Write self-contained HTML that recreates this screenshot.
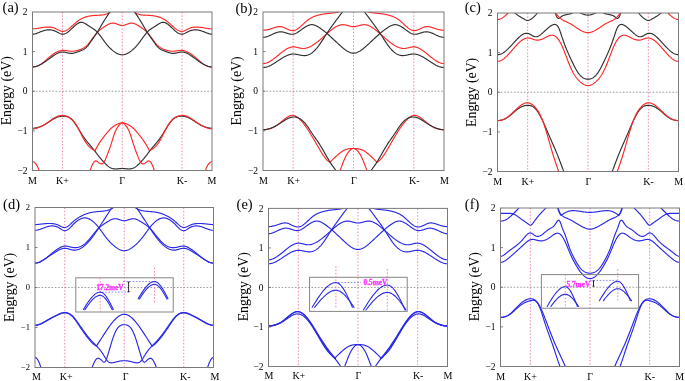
<!DOCTYPE html>
<html><head><meta charset="utf-8"><style>
html,body{margin:0;padding:0;background:#fff;}
svg{display:block;font-family:"Liberation Serif",serif;will-change:transform;}
</style></head><body>
<svg width="685" height="381" viewBox="0 0 685 381">
<clipPath id="clipa"><rect x="32.5" y="12" width="179.5" height="158.5"/></clipPath>
<line x1="62.42" y1="12" x2="62.42" y2="170.5" stroke="#f084b0" stroke-width="0.95" stroke-dasharray="1.6 1.7"/>
<line x1="122.25" y1="12" x2="122.25" y2="170.5" stroke="#f084b0" stroke-width="0.95" stroke-dasharray="1.6 1.7"/>
<line x1="182.08" y1="12" x2="182.08" y2="170.5" stroke="#f084b0" stroke-width="0.95" stroke-dasharray="1.6 1.7"/>
<line x1="32.5" y1="91.25" x2="212" y2="91.25" stroke="#8c8c8c" stroke-width="0.85" stroke-dasharray="1.6 1.7"/>
<g clip-path="url(#clipa)" fill="none" stroke-width="1.15" stroke-linecap="round" stroke-linejoin="round">
<path d="M32.50 28.84 L33.00 28.83 L33.50 28.82 L34.00 28.79 L34.50 28.75 L35.00 28.71 L35.50 28.65 L36.00 28.59 L36.50 28.52 L37.00 28.45 L37.50 28.37 L38.00 28.29 L38.50 28.21 L39.00 28.12 L39.50 28.04 L40.00 27.95 L40.50 27.86 L41.00 27.78 L41.50 27.69 L42.00 27.61 L42.50 27.54 L43.00 27.46 L43.50 27.39 L44.00 27.33 L44.50 27.27 L45.00 27.21 L45.50 27.16 L46.00 27.12 L46.50 27.09 L47.00 27.07 L47.50 27.05 L48.00 27.05 L48.50 27.05 L49.00 27.06 L49.50 27.09 L50.00 27.13 L50.50 27.18 L51.00 27.24 L51.50 27.31 L52.00 27.40 L52.50 27.51 L53.00 27.63 L53.50 27.77 L54.00 27.92 L54.50 28.09 L55.00 28.28 L55.50 28.49 L56.00 28.72 L56.50 28.97 L57.00 29.22 L57.50 29.49 L58.00 29.76 L58.50 30.03 L59.00 30.28 L59.50 30.53 L60.00 30.75 L60.50 30.96 L61.00 31.13 L61.50 31.27 L62.00 31.37 L62.50 31.42 L63.00 31.43 L63.50 31.39 L64.00 31.30 L64.50 31.18 L65.00 31.01 L65.50 30.81 L66.00 30.58 L66.50 30.31 L67.00 30.02 L67.50 29.70 L68.00 29.35 L68.50 28.98 L69.00 28.60 L69.50 28.20 L70.00 27.78 L70.50 27.36 L71.00 26.92 L71.50 26.48 L72.00 26.04 L72.50 25.59 L73.00 25.14 L73.50 24.70 L74.00 24.26 L74.50 23.82 L75.00 23.39 L75.50 22.96 L76.00 22.54 L76.50 22.13 L77.00 21.73 L77.50 21.34 L78.00 20.96 L78.50 20.59 L79.00 20.23 L79.50 19.89 L80.00 19.57 L80.50 19.26 L81.00 18.97 L81.50 18.70 L82.00 18.44 L82.50 18.20 L83.00 17.97 L83.50 17.75 L84.00 17.55 L84.50 17.36 L85.00 17.19 L85.50 17.02 L86.00 16.87 L86.50 16.72 L87.00 16.59 L87.50 16.46 L88.00 16.35 L88.50 16.24 L89.00 16.14 L89.50 16.05 L90.00 15.96 L90.50 15.88 L91.00 15.81 L91.50 15.75 L92.00 15.69 L92.50 15.63 L93.00 15.58 L93.50 15.53 L94.00 15.49 L94.50 15.45 L95.00 15.42 L95.50 15.39 L96.00 15.36 L96.50 15.33 L97.00 15.30 L97.50 15.28 L98.00 15.25 L98.50 15.23 L99.00 15.20 L99.50 15.18 L100.00 15.16 L100.50 15.13 L101.00 15.10 L101.50 15.06 L102.00 15.02 L102.50 14.96 L103.00 14.90 L103.50 14.82 L104.00 14.72 L104.50 14.61 L105.00 14.48 L105.50 14.33 L106.00 14.16 L106.50 13.96 L107.00 13.74 L107.50 13.49 L108.00 13.22 L108.50 12.92 L109.00 12.60 L109.50 12.26 L110.00 11.90 L110.50 11.52 L111.00 11.13 L111.50 10.73 L112.00 10.33 L112.50 9.92 L113.00 9.53 L113.50 9.14 L114.00 8.77 L114.50 8.41 L115.00 8.08 L115.50 7.78 L116.00 7.51 L116.50 7.26 L117.00 7.04 L117.50 6.85 L118.00 6.68 L118.50 6.53 L119.00 6.40 L119.50 6.30 L120.00 6.22 L120.50 6.15 L121.00 6.10 L121.50 6.07 L122.00 6.06 L122.50 6.06 L123.00 6.07 L123.50 6.10 L124.00 6.15 L124.50 6.22 L125.00 6.30 L125.50 6.40 L126.00 6.53 L126.50 6.68 L127.00 6.85 L127.50 7.04 L128.00 7.26 L128.50 7.51 L129.00 7.78 L129.50 8.08 L130.00 8.41 L130.50 8.77 L131.00 9.14 L131.50 9.53 L132.00 9.92 L132.50 10.33 L133.00 10.73 L133.50 11.13 L134.00 11.52 L134.50 11.90 L135.00 12.26 L135.50 12.60 L136.00 12.92 L136.50 13.22 L137.00 13.49 L137.50 13.74 L138.00 13.96 L138.50 14.16 L139.00 14.33 L139.50 14.48 L140.00 14.61 L140.50 14.72 L141.00 14.82 L141.50 14.90 L142.00 14.96 L142.50 15.02 L143.00 15.06 L143.50 15.10 L144.00 15.13 L144.50 15.16 L145.00 15.18 L145.50 15.20 L146.00 15.23 L146.50 15.25 L147.00 15.28 L147.50 15.30 L148.00 15.33 L148.50 15.36 L149.00 15.39 L149.50 15.42 L150.00 15.45 L150.50 15.49 L151.00 15.53 L151.50 15.58 L152.00 15.63 L152.50 15.69 L153.00 15.75 L153.50 15.81 L154.00 15.88 L154.50 15.96 L155.00 16.05 L155.50 16.14 L156.00 16.24 L156.50 16.35 L157.00 16.46 L157.50 16.59 L158.00 16.72 L158.50 16.87 L159.00 17.02 L159.50 17.19 L160.00 17.36 L160.50 17.55 L161.00 17.75 L161.50 17.97 L162.00 18.20 L162.50 18.44 L163.00 18.70 L163.50 18.97 L164.00 19.26 L164.50 19.57 L165.00 19.89 L165.50 20.23 L166.00 20.59 L166.50 20.96 L167.00 21.34 L167.50 21.73 L168.00 22.13 L168.50 22.54 L169.00 22.96 L169.50 23.39 L170.00 23.82 L170.50 24.26 L171.00 24.70 L171.50 25.14 L172.00 25.59 L172.50 26.04 L173.00 26.48 L173.50 26.92 L174.00 27.36 L174.50 27.78 L175.00 28.20 L175.50 28.60 L176.00 28.98 L176.50 29.35 L177.00 29.70 L177.50 30.02 L178.00 30.31 L178.50 30.58 L179.00 30.81 L179.50 31.01 L180.00 31.18 L180.50 31.30 L181.00 31.39 L181.50 31.43 L182.00 31.42 L182.50 31.37 L183.00 31.27 L183.50 31.13 L184.00 30.96 L184.50 30.75 L185.00 30.53 L185.50 30.28 L186.00 30.03 L186.50 29.76 L187.00 29.49 L187.50 29.22 L188.00 28.97 L188.50 28.72 L189.00 28.49 L189.50 28.28 L190.00 28.09 L190.50 27.92 L191.00 27.77 L191.50 27.63 L192.00 27.51 L192.50 27.40 L193.00 27.31 L193.50 27.24 L194.00 27.18 L194.50 27.13 L195.00 27.09 L195.50 27.06 L196.00 27.05 L196.50 27.05 L197.00 27.05 L197.50 27.07 L198.00 27.09 L198.50 27.12 L199.00 27.16 L199.50 27.21 L200.00 27.27 L200.50 27.33 L201.00 27.39 L201.50 27.46 L202.00 27.54 L202.50 27.61 L203.00 27.69 L203.50 27.78 L204.00 27.86 L204.50 27.95 L205.00 28.04 L205.50 28.12 L206.00 28.21 L206.50 28.29 L207.00 28.37 L207.50 28.45 L208.00 28.52 L208.50 28.59 L209.00 28.65 L209.50 28.71 L210.00 28.75 L210.50 28.79 L211.00 28.82 L211.50 28.83 L212.00 28.84" stroke="#ff2828"/>
<path d="M32.50 66.96 L33.00 66.95 L33.50 66.92 L34.00 66.87 L34.50 66.80 L35.00 66.71 L35.50 66.60 L36.00 66.47 L36.50 66.32 L37.00 66.15 L37.50 65.96 L38.00 65.75 L38.50 65.53 L39.00 65.28 L39.50 65.01 L40.00 64.73 L40.50 64.42 L41.00 64.10 L41.50 63.76 L42.00 63.40 L42.50 63.03 L43.00 62.64 L43.50 62.25 L44.00 61.84 L44.50 61.42 L45.00 61.00 L45.50 60.57 L46.00 60.13 L46.50 59.69 L47.00 59.25 L47.50 58.81 L48.00 58.37 L48.50 57.93 L49.00 57.50 L49.50 57.07 L50.00 56.65 L50.50 56.23 L51.00 55.83 L51.50 55.44 L52.00 55.06 L52.50 54.69 L53.00 54.33 L53.50 53.98 L54.00 53.65 L54.50 53.33 L55.00 53.03 L55.50 52.74 L56.00 52.46 L56.50 52.20 L57.00 51.96 L57.50 51.73 L58.00 51.52 L58.50 51.32 L59.00 51.14 L59.50 50.98 L60.00 50.84 L60.50 50.72 L61.00 50.62 L61.50 50.54 L62.00 50.47 L62.50 50.43 L63.00 50.41 L63.50 50.41 L64.00 50.42 L64.50 50.45 L65.00 50.49 L65.50 50.54 L66.00 50.60 L66.50 50.67 L67.00 50.74 L67.50 50.81 L68.00 50.88 L68.50 50.96 L69.00 51.02 L69.50 51.09 L70.00 51.14 L70.50 51.18 L71.00 51.22 L71.50 51.24 L72.00 51.24 L72.50 51.23 L73.00 51.20 L73.50 51.17 L74.00 51.11 L74.50 51.05 L75.00 50.97 L75.50 50.88 L76.00 50.78 L76.50 50.67 L77.00 50.55 L77.50 50.42 L78.00 50.27 L78.50 50.12 L79.00 49.96 L79.50 49.79 L80.00 49.61 L80.50 49.42 L81.00 49.22 L81.50 49.00 L82.00 48.77 L82.50 48.52 L83.00 48.26 L83.50 47.97 L84.00 47.67 L84.50 47.34 L85.00 46.98 L85.50 46.61 L86.00 46.20 L86.50 45.76 L87.00 45.30 L87.50 44.80 L88.00 44.27 L88.50 43.71 L89.00 43.12 L89.50 42.51 L90.00 41.87 L90.50 41.22 L91.00 40.56 L91.50 39.88 L92.00 39.20 L92.50 38.51 L93.00 37.83 L93.50 37.14 L94.00 36.47 L94.50 35.80 L95.00 35.15 L95.50 34.51 L96.00 33.89 L96.50 33.30 L97.00 32.73 L97.50 32.20 L98.00 31.69 L98.50 31.20 L99.00 30.74 L99.50 30.30 L100.00 29.87 L100.50 29.47 L101.00 29.08 L101.50 28.71 L102.00 28.35 L102.50 28.01 L103.00 27.67 L103.50 27.34 L104.00 27.02 L104.50 26.70 L105.00 26.39 L105.50 26.08 L106.00 25.77 L106.50 25.46 L107.00 25.17 L107.50 24.88 L108.00 24.61 L108.50 24.35 L109.00 24.11 L109.50 23.89 L110.00 23.69 L110.50 23.51 L111.00 23.36 L111.50 23.25 L112.00 23.16 L112.50 23.11 L113.00 23.09 L113.50 23.12 L114.00 23.18 L114.50 23.27 L115.00 23.39 L115.50 23.53 L116.00 23.69 L116.50 23.87 L117.00 24.06 L117.50 24.25 L118.00 24.44 L118.50 24.62 L119.00 24.80 L119.50 24.97 L120.00 25.12 L120.50 25.25 L121.00 25.36 L121.50 25.43 L122.00 25.47 L122.50 25.47 L123.00 25.43 L123.50 25.36 L124.00 25.25 L124.50 25.12 L125.00 24.97 L125.50 24.80 L126.00 24.62 L126.50 24.44 L127.00 24.25 L127.50 24.06 L128.00 23.87 L128.50 23.69 L129.00 23.53 L129.50 23.39 L130.00 23.27 L130.50 23.18 L131.00 23.12 L131.50 23.09 L132.00 23.11 L132.50 23.16 L133.00 23.25 L133.50 23.36 L134.00 23.51 L134.50 23.69 L135.00 23.89 L135.50 24.11 L136.00 24.35 L136.50 24.61 L137.00 24.88 L137.50 25.17 L138.00 25.46 L138.50 25.77 L139.00 26.08 L139.50 26.39 L140.00 26.70 L140.50 27.02 L141.00 27.34 L141.50 27.67 L142.00 28.01 L142.50 28.35 L143.00 28.71 L143.50 29.08 L144.00 29.47 L144.50 29.87 L145.00 30.30 L145.50 30.74 L146.00 31.20 L146.50 31.69 L147.00 32.20 L147.50 32.73 L148.00 33.30 L148.50 33.89 L149.00 34.51 L149.50 35.15 L150.00 35.80 L150.50 36.47 L151.00 37.14 L151.50 37.83 L152.00 38.51 L152.50 39.20 L153.00 39.88 L153.50 40.56 L154.00 41.22 L154.50 41.87 L155.00 42.51 L155.50 43.12 L156.00 43.71 L156.50 44.27 L157.00 44.80 L157.50 45.30 L158.00 45.76 L158.50 46.20 L159.00 46.61 L159.50 46.98 L160.00 47.34 L160.50 47.67 L161.00 47.97 L161.50 48.26 L162.00 48.52 L162.50 48.77 L163.00 49.00 L163.50 49.22 L164.00 49.42 L164.50 49.61 L165.00 49.79 L165.50 49.96 L166.00 50.12 L166.50 50.27 L167.00 50.42 L167.50 50.55 L168.00 50.67 L168.50 50.78 L169.00 50.88 L169.50 50.97 L170.00 51.05 L170.50 51.11 L171.00 51.17 L171.50 51.20 L172.00 51.23 L172.50 51.24 L173.00 51.24 L173.50 51.22 L174.00 51.18 L174.50 51.14 L175.00 51.09 L175.50 51.02 L176.00 50.96 L176.50 50.88 L177.00 50.81 L177.50 50.74 L178.00 50.67 L178.50 50.60 L179.00 50.54 L179.50 50.49 L180.00 50.45 L180.50 50.42 L181.00 50.41 L181.50 50.41 L182.00 50.43 L182.50 50.47 L183.00 50.54 L183.50 50.62 L184.00 50.72 L184.50 50.84 L185.00 50.98 L185.50 51.14 L186.00 51.32 L186.50 51.52 L187.00 51.73 L187.50 51.96 L188.00 52.20 L188.50 52.46 L189.00 52.74 L189.50 53.03 L190.00 53.33 L190.50 53.65 L191.00 53.98 L191.50 54.33 L192.00 54.69 L192.50 55.06 L193.00 55.44 L193.50 55.83 L194.00 56.23 L194.50 56.65 L195.00 57.07 L195.50 57.50 L196.00 57.93 L196.50 58.37 L197.00 58.81 L197.50 59.25 L198.00 59.69 L198.50 60.13 L199.00 60.57 L199.50 61.00 L200.00 61.42 L200.50 61.84 L201.00 62.25 L201.50 62.64 L202.00 63.03 L202.50 63.40 L203.00 63.76 L203.50 64.10 L204.00 64.42 L204.50 64.73 L205.00 65.01 L205.50 65.28 L206.00 65.53 L206.50 65.75 L207.00 65.96 L207.50 66.15 L208.00 66.32 L208.50 66.47 L209.00 66.60 L209.50 66.71 L210.00 66.80 L210.50 66.87 L211.00 66.92 L211.50 66.95 L212.00 66.96" stroke="#ff2828"/>
<path d="M32.50 34.19 L33.00 34.18 L33.50 34.13 L34.00 34.07 L34.50 33.97 L35.00 33.86 L35.50 33.73 L36.00 33.58 L36.50 33.42 L37.00 33.24 L37.50 33.05 L38.00 32.86 L38.50 32.66 L39.00 32.45 L39.50 32.25 L40.00 32.04 L40.50 31.84 L41.00 31.65 L41.50 31.46 L42.00 31.27 L42.50 31.10 L43.00 30.93 L43.50 30.77 L44.00 30.63 L44.50 30.49 L45.00 30.36 L45.50 30.25 L46.00 30.14 L46.50 30.05 L47.00 29.98 L47.50 29.92 L48.00 29.87 L48.50 29.84 L49.00 29.83 L49.50 29.83 L50.00 29.85 L50.50 29.89 L51.00 29.95 L51.50 30.02 L52.00 30.11 L52.50 30.22 L53.00 30.35 L53.50 30.50 L54.00 30.66 L54.50 30.84 L55.00 31.04 L55.50 31.26 L56.00 31.50 L56.50 31.75 L57.00 32.01 L57.50 32.29 L58.00 32.56 L58.50 32.83 L59.00 33.09 L59.50 33.33 L60.00 33.55 L60.50 33.75 L61.00 33.92 L61.50 34.06 L62.00 34.15 L62.50 34.19 L63.00 34.19 L63.50 34.14 L64.00 34.04 L64.50 33.91 L65.00 33.73 L65.50 33.51 L66.00 33.26 L66.50 32.97 L67.00 32.66 L67.50 32.32 L68.00 31.95 L68.50 31.56 L69.00 31.16 L69.50 30.73 L70.00 30.29 L70.50 29.83 L71.00 29.37 L71.50 28.90 L72.00 28.43 L72.50 27.95 L73.00 27.47 L73.50 27.00 L74.00 26.53 L74.50 26.07 L75.00 25.63 L75.50 25.20 L76.00 24.78 L76.50 24.39 L77.00 24.03 L77.50 23.69 L78.00 23.38 L78.50 23.10 L79.00 22.86 L79.50 22.66 L80.00 22.50 L80.50 22.38 L81.00 22.31 L81.50 22.30 L82.00 22.33 L82.50 22.42 L83.00 22.55 L83.50 22.73 L84.00 22.95 L84.50 23.19 L85.00 23.47 L85.50 23.76 L86.00 24.08 L86.50 24.41 L87.00 24.75 L87.50 25.09 L88.00 25.43 L88.50 25.77 L89.00 26.10 L89.50 26.42 L90.00 26.73 L90.50 27.03 L91.00 27.34 L91.50 27.64 L92.00 27.95 L92.50 28.27 L93.00 28.60 L93.50 28.94 L94.00 29.29 L94.50 29.67 L95.00 30.06 L95.50 30.48 L96.00 30.92 L96.50 31.39 L97.00 31.89 L97.50 32.42 L98.00 32.98 L98.50 33.57 L99.00 34.17 L99.50 34.80 L100.00 35.44 L100.50 36.09 L101.00 36.76 L101.50 37.44 L102.00 38.12 L102.50 38.81 L103.00 39.50 L103.50 40.18 L104.00 40.87 L104.50 41.55 L105.00 42.22 L105.50 42.88 L106.00 43.52 L106.50 44.15 L107.00 44.77 L107.50 45.36 L108.00 45.94 L108.50 46.49 L109.00 47.04 L109.50 47.56 L110.00 48.07 L110.50 48.56 L111.00 49.03 L111.50 49.48 L112.00 49.92 L112.50 50.35 L113.00 50.76 L113.50 51.15 L114.00 51.52 L114.50 51.88 L115.00 52.22 L115.50 52.55 L116.00 52.85 L116.50 53.13 L117.00 53.40 L117.50 53.64 L118.00 53.86 L118.50 54.06 L119.00 54.24 L119.50 54.40 L120.00 54.53 L120.50 54.63 L121.00 54.71 L121.50 54.76 L122.00 54.79 L122.50 54.79 L123.00 54.76 L123.50 54.71 L124.00 54.63 L124.50 54.53 L125.00 54.40 L125.50 54.24 L126.00 54.06 L126.50 53.86 L127.00 53.64 L127.50 53.40 L128.00 53.13 L128.50 52.85 L129.00 52.55 L129.50 52.22 L130.00 51.88 L130.50 51.52 L131.00 51.15 L131.50 50.76 L132.00 50.35 L132.50 49.92 L133.00 49.48 L133.50 49.03 L134.00 48.56 L134.50 48.07 L135.00 47.56 L135.50 47.04 L136.00 46.49 L136.50 45.94 L137.00 45.36 L137.50 44.77 L138.00 44.15 L138.50 43.52 L139.00 42.88 L139.50 42.22 L140.00 41.55 L140.50 40.87 L141.00 40.18 L141.50 39.50 L142.00 38.81 L142.50 38.12 L143.00 37.44 L143.50 36.76 L144.00 36.09 L144.50 35.44 L145.00 34.80 L145.50 34.17 L146.00 33.57 L146.50 32.98 L147.00 32.42 L147.50 31.89 L148.00 31.39 L148.50 30.92 L149.00 30.48 L149.50 30.06 L150.00 29.67 L150.50 29.29 L151.00 28.94 L151.50 28.60 L152.00 28.27 L152.50 27.95 L153.00 27.64 L153.50 27.34 L154.00 27.03 L154.50 26.73 L155.00 26.42 L155.50 26.10 L156.00 25.77 L156.50 25.43 L157.00 25.09 L157.50 24.75 L158.00 24.41 L158.50 24.08 L159.00 23.76 L159.50 23.47 L160.00 23.19 L160.50 22.95 L161.00 22.73 L161.50 22.55 L162.00 22.42 L162.50 22.33 L163.00 22.30 L163.50 22.31 L164.00 22.38 L164.50 22.50 L165.00 22.66 L165.50 22.86 L166.00 23.10 L166.50 23.38 L167.00 23.69 L167.50 24.03 L168.00 24.39 L168.50 24.78 L169.00 25.20 L169.50 25.63 L170.00 26.07 L170.50 26.53 L171.00 27.00 L171.50 27.47 L172.00 27.95 L172.50 28.43 L173.00 28.90 L173.50 29.37 L174.00 29.83 L174.50 30.29 L175.00 30.73 L175.50 31.16 L176.00 31.56 L176.50 31.95 L177.00 32.32 L177.50 32.66 L178.00 32.97 L178.50 33.26 L179.00 33.51 L179.50 33.73 L180.00 33.91 L180.50 34.04 L181.00 34.14 L181.50 34.19 L182.00 34.19 L182.50 34.15 L183.00 34.06 L183.50 33.92 L184.00 33.75 L184.50 33.55 L185.00 33.33 L185.50 33.09 L186.00 32.83 L186.50 32.56 L187.00 32.29 L187.50 32.01 L188.00 31.75 L188.50 31.50 L189.00 31.26 L189.50 31.04 L190.00 30.84 L190.50 30.66 L191.00 30.50 L191.50 30.35 L192.00 30.22 L192.50 30.11 L193.00 30.02 L193.50 29.95 L194.00 29.89 L194.50 29.85 L195.00 29.83 L195.50 29.83 L196.00 29.84 L196.50 29.87 L197.00 29.92 L197.50 29.98 L198.00 30.05 L198.50 30.14 L199.00 30.25 L199.50 30.36 L200.00 30.49 L200.50 30.63 L201.00 30.77 L201.50 30.93 L202.00 31.10 L202.50 31.27 L203.00 31.46 L203.50 31.65 L204.00 31.84 L204.50 32.04 L205.00 32.25 L205.50 32.45 L206.00 32.66 L206.50 32.86 L207.00 33.05 L207.50 33.24 L208.00 33.42 L208.50 33.58 L209.00 33.73 L209.50 33.86 L210.00 33.97 L210.50 34.07 L211.00 34.13 L211.50 34.18 L212.00 34.19" stroke="#303030"/>
<path d="M32.50 66.96 L33.00 66.95 L33.50 66.91 L34.00 66.86 L34.50 66.79 L35.00 66.69 L35.50 66.58 L36.00 66.45 L36.50 66.30 L37.00 66.13 L37.50 65.95 L38.00 65.75 L38.51 65.54 L39.01 65.31 L39.51 65.08 L40.01 64.82 L40.51 64.56 L41.01 64.29 L41.51 64.00 L42.01 63.70 L42.51 63.40 L43.01 63.09 L43.51 62.77 L44.01 62.44 L44.51 62.10 L45.01 61.76 L45.51 61.41 L46.01 61.06 L46.51 60.70 L47.01 60.35 L47.51 59.98 L48.01 59.62 L48.51 59.25 L49.01 58.88 L49.51 58.52 L50.01 58.15 L50.52 57.78 L51.02 57.42 L51.52 57.06 L52.02 56.70 L52.52 56.34 L53.02 55.99 L53.52 55.65 L54.02 55.32 L54.52 55.00 L55.02 54.68 L55.52 54.38 L56.02 54.09 L56.52 53.82 L57.02 53.56 L57.52 53.31 L58.02 53.09 L58.52 52.88 L59.02 52.69 L59.52 52.52 L60.02 52.38 L60.52 52.26 L61.02 52.16 L61.52 52.08 L62.03 52.04 L62.53 52.02 L63.03 52.03 L63.53 52.06 L64.03 52.12 L64.53 52.19 L65.03 52.28 L65.53 52.38 L66.03 52.49 L66.53 52.61 L67.03 52.73 L67.53 52.85 L68.03 52.97 L68.53 53.07 L69.03 53.17 L69.53 53.26 L70.03 53.33 L70.53 53.38 L71.03 53.40 L71.53 53.41 L72.03 53.38 L72.53 53.33 L73.03 53.26 L73.53 53.17 L74.04 53.06 L74.54 52.93 L75.04 52.79 L75.54 52.63 L76.04 52.47 L76.54 52.29 L77.04 52.11 L77.54 51.92 L78.04 51.73 L78.54 51.54 L79.04 51.35 L79.54 51.16 L80.04 50.97 L80.54 50.78 L81.04 50.59 L81.54 50.38 L82.04 50.17 L82.54 49.94 L83.04 49.70 L83.54 49.43 L84.04 49.14 L84.54 48.83 L85.04 48.48 L85.54 48.09 L86.05 47.67 L86.55 47.21 L87.05 46.70 L87.55 46.15 L88.05 45.54 L88.55 44.89 L89.05 44.21 L89.55 43.50 L90.05 42.77 L90.55 42.02 L91.05 41.28 L91.55 40.54 L92.05 39.81 L92.55 39.09 L93.05 38.38 L93.55 37.67 L94.05 36.97 L94.55 36.26 L95.05 35.54 L95.55 34.81 L96.05 34.07 L96.55 33.32 L97.05 32.54 L97.56 31.75 L98.06 30.94 L98.56 30.11 L99.06 29.28 L99.56 28.43 L100.06 27.58 L100.56 26.72 L101.06 25.87 L101.56 25.01 L102.06 24.16 L102.56 23.31 L103.06 22.47 L103.56 21.65 L104.06 20.83 L104.56 20.03 L105.06 19.24 L105.56 18.46 L106.06 17.69 L106.56 16.93 L107.06 16.17 L107.56 15.42 L108.06 14.67 L108.56 13.93 L109.06 13.18 L109.57 12.44 L110.07 11.70 L110.57 10.96 L111.07 10.22 L111.57 9.47 L112.07 8.72 L112.57 7.97 L113.07 7.20 L113.57 6.44 L114.07 5.66 L114.57 4.87 L115.07 4.07" stroke="#303030"/>
<path d="M212.00 66.96 L211.50 66.95 L211.00 66.91 L210.50 66.86 L210.00 66.79 L209.50 66.69 L209.00 66.58 L208.50 66.45 L208.00 66.30 L207.50 66.13 L207.00 65.95 L206.50 65.75 L205.99 65.54 L205.49 65.31 L204.99 65.08 L204.49 64.82 L203.99 64.56 L203.49 64.29 L202.99 64.00 L202.49 63.70 L201.99 63.40 L201.49 63.09 L200.99 62.77 L200.49 62.44 L199.99 62.10 L199.49 61.76 L198.99 61.41 L198.49 61.06 L197.99 60.70 L197.49 60.35 L196.99 59.98 L196.49 59.62 L195.99 59.25 L195.49 58.88 L194.99 58.52 L194.49 58.15 L193.98 57.78 L193.48 57.42 L192.98 57.06 L192.48 56.70 L191.98 56.34 L191.48 55.99 L190.98 55.65 L190.48 55.32 L189.98 55.00 L189.48 54.68 L188.98 54.38 L188.48 54.09 L187.98 53.82 L187.48 53.56 L186.98 53.31 L186.48 53.09 L185.98 52.88 L185.48 52.69 L184.98 52.52 L184.48 52.38 L183.98 52.26 L183.48 52.16 L182.98 52.08 L182.47 52.04 L181.97 52.02 L181.47 52.03 L180.97 52.06 L180.47 52.12 L179.97 52.19 L179.47 52.28 L178.97 52.38 L178.47 52.49 L177.97 52.61 L177.47 52.73 L176.97 52.85 L176.47 52.97 L175.97 53.07 L175.47 53.17 L174.97 53.26 L174.47 53.33 L173.97 53.38 L173.47 53.40 L172.97 53.41 L172.47 53.38 L171.97 53.33 L171.47 53.26 L170.97 53.17 L170.46 53.06 L169.96 52.93 L169.46 52.79 L168.96 52.63 L168.46 52.47 L167.96 52.29 L167.46 52.11 L166.96 51.92 L166.46 51.73 L165.96 51.54 L165.46 51.35 L164.96 51.16 L164.46 50.97 L163.96 50.78 L163.46 50.59 L162.96 50.38 L162.46 50.17 L161.96 49.94 L161.46 49.70 L160.96 49.43 L160.46 49.14 L159.96 48.83 L159.46 48.48 L158.96 48.09 L158.45 47.67 L157.95 47.21 L157.45 46.70 L156.95 46.15 L156.45 45.54 L155.95 44.89 L155.45 44.21 L154.95 43.50 L154.45 42.77 L153.95 42.02 L153.45 41.28 L152.95 40.54 L152.45 39.81 L151.95 39.09 L151.45 38.38 L150.95 37.67 L150.45 36.97 L149.95 36.26 L149.45 35.54 L148.95 34.81 L148.45 34.07 L147.95 33.32 L147.45 32.54 L146.94 31.75 L146.44 30.94 L145.94 30.11 L145.44 29.28 L144.94 28.43 L144.44 27.58 L143.94 26.72 L143.44 25.87 L142.94 25.01 L142.44 24.16 L141.94 23.31 L141.44 22.47 L140.94 21.65 L140.44 20.83 L139.94 20.03 L139.44 19.24 L138.94 18.46 L138.44 17.69 L137.94 16.93 L137.44 16.17 L136.94 15.42 L136.44 14.67 L135.94 13.93 L135.44 13.18 L134.93 12.44 L134.43 11.70 L133.93 10.96 L133.43 10.22 L132.93 9.47 L132.43 8.72 L131.93 7.97 L131.43 7.20 L130.93 6.44 L130.43 5.66 L129.93 4.87 L129.43 4.07" stroke="#303030"/>
<path d="M32.50 128.26 L33.00 128.25 L33.50 128.23 L34.00 128.19 L34.50 128.14 L35.00 128.07 L35.50 127.99 L36.00 127.89 L36.50 127.79 L37.00 127.67 L37.50 127.54 L38.00 127.41 L38.50 127.26 L39.00 127.10 L39.50 126.93 L40.00 126.75 L40.50 126.55 L41.00 126.35 L41.50 126.14 L42.00 125.92 L42.50 125.69 L43.00 125.45 L43.50 125.20 L44.00 124.94 L44.50 124.67 L45.00 124.39 L45.50 124.10 L46.00 123.80 L46.50 123.50 L47.00 123.19 L47.50 122.88 L48.00 122.56 L48.50 122.23 L49.00 121.91 L49.50 121.58 L50.00 121.25 L50.50 120.93 L51.00 120.60 L51.50 120.27 L52.00 119.95 L52.50 119.63 L53.00 119.32 L53.50 119.02 L54.00 118.72 L54.50 118.44 L55.00 118.17 L55.50 117.91 L56.00 117.68 L56.50 117.45 L57.00 117.25 L57.50 117.07 L58.00 116.92 L58.50 116.77 L59.00 116.65 L59.50 116.55 L60.00 116.46 L60.50 116.38 L61.00 116.32 L61.50 116.27 L62.00 116.24 L62.50 116.21 L63.00 116.20 L63.50 116.20 L64.00 116.21 L64.50 116.24 L65.00 116.28 L65.50 116.35 L66.00 116.43 L66.50 116.54 L67.00 116.67 L67.50 116.83 L68.00 117.02 L68.50 117.23 L69.00 117.48 L69.50 117.76 L70.00 118.07 L70.50 118.43 L71.00 118.81 L71.50 119.24 L72.00 119.71 L72.50 120.22 L73.00 120.78 L73.50 121.38 L74.00 122.02 L74.50 122.69 L75.00 123.39 L75.50 124.12 L76.00 124.88 L76.50 125.65 L77.00 126.44 L77.50 127.25 L78.00 128.06 L78.50 128.89 L79.00 129.71 L79.50 130.54 L80.00 131.36 L80.50 132.17 L81.00 132.98 L81.50 133.77 L82.00 134.54 L82.50 135.30 L83.00 136.04 L83.50 136.76 L84.00 137.48 L84.50 138.18 L85.00 138.86 L85.50 139.54 L86.00 140.20 L86.50 140.86 L87.00 141.50 L87.50 142.13 L88.00 142.76 L88.50 143.37 L89.00 143.98 L89.50 144.59 L90.00 145.19 L90.50 145.78 L91.00 146.38 L91.50 146.97 L92.00 147.57 L92.50 148.17 L93.00 148.78 L93.50 149.39 L94.00 150.01 L94.50 150.64 L95.00 151.28 L95.50 151.93 L96.00 152.59 L96.50 153.25 L97.00 153.91 L97.50 154.58 L98.00 155.24 L98.50 155.89 L99.00 156.53 L99.50 157.17 L100.00 157.79 L100.50 158.40 L101.00 158.98 L101.50 159.56 L102.00 160.12 L102.50 160.67 L103.00 161.21 L103.50 161.74 L104.00 162.26 L104.50 162.78 L105.00 163.30 L105.50 163.80 L106.00 164.30 L106.50 164.78 L107.00 165.24 L107.50 165.69 L108.00 166.11 L108.50 166.51 L109.00 166.87 L109.50 167.21 L110.00 167.52 L110.50 167.79 L111.00 168.03 L111.50 168.23 L112.00 168.41 L112.50 168.56 L113.00 168.69 L113.50 168.78 L114.00 168.86 L114.50 168.91 L115.00 168.94 L115.50 168.96 L116.00 168.96 L116.50 168.94 L117.00 168.91 L117.50 168.88 L118.00 168.83 L118.50 168.78 L119.00 168.74 L119.50 168.69 L120.00 168.64 L120.50 168.60 L121.00 168.56 L121.50 168.53 L122.00 168.52 L122.50 168.52 L123.00 168.53 L123.50 168.56 L124.00 168.60 L124.50 168.64 L125.00 168.69 L125.50 168.74 L126.00 168.78 L126.50 168.83 L127.00 168.88 L127.50 168.91 L128.00 168.94 L128.50 168.96 L129.00 168.96 L129.50 168.94 L130.00 168.91 L130.50 168.86 L131.00 168.78 L131.50 168.69 L132.00 168.56 L132.50 168.41 L133.00 168.23 L133.50 168.03 L134.00 167.79 L134.50 167.52 L135.00 167.21 L135.50 166.87 L136.00 166.51 L136.50 166.11 L137.00 165.69 L137.50 165.24 L138.00 164.78 L138.50 164.30 L139.00 163.80 L139.50 163.30 L140.00 162.78 L140.50 162.26 L141.00 161.74 L141.50 161.21 L142.00 160.67 L142.50 160.12 L143.00 159.56 L143.50 158.98 L144.00 158.40 L144.50 157.79 L145.00 157.17 L145.50 156.53 L146.00 155.89 L146.50 155.24 L147.00 154.58 L147.50 153.91 L148.00 153.25 L148.50 152.59 L149.00 151.93 L149.50 151.28 L150.00 150.64 L150.50 150.01 L151.00 149.39 L151.50 148.78 L152.00 148.17 L152.50 147.57 L153.00 146.97 L153.50 146.38 L154.00 145.78 L154.50 145.19 L155.00 144.59 L155.50 143.98 L156.00 143.37 L156.50 142.76 L157.00 142.13 L157.50 141.50 L158.00 140.86 L158.50 140.20 L159.00 139.54 L159.50 138.86 L160.00 138.18 L160.50 137.48 L161.00 136.76 L161.50 136.04 L162.00 135.30 L162.50 134.54 L163.00 133.77 L163.50 132.98 L164.00 132.17 L164.50 131.36 L165.00 130.54 L165.50 129.71 L166.00 128.89 L166.50 128.06 L167.00 127.25 L167.50 126.44 L168.00 125.65 L168.50 124.88 L169.00 124.12 L169.50 123.39 L170.00 122.69 L170.50 122.02 L171.00 121.38 L171.50 120.78 L172.00 120.22 L172.50 119.71 L173.00 119.24 L173.50 118.81 L174.00 118.43 L174.50 118.07 L175.00 117.76 L175.50 117.48 L176.00 117.23 L176.50 117.02 L177.00 116.83 L177.50 116.67 L178.00 116.54 L178.50 116.43 L179.00 116.35 L179.50 116.28 L180.00 116.24 L180.50 116.21 L181.00 116.20 L181.50 116.20 L182.00 116.21 L182.50 116.24 L183.00 116.27 L183.50 116.32 L184.00 116.38 L184.50 116.46 L185.00 116.55 L185.50 116.65 L186.00 116.77 L186.50 116.92 L187.00 117.07 L187.50 117.25 L188.00 117.45 L188.50 117.68 L189.00 117.91 L189.50 118.17 L190.00 118.44 L190.50 118.72 L191.00 119.02 L191.50 119.32 L192.00 119.63 L192.50 119.95 L193.00 120.27 L193.50 120.60 L194.00 120.93 L194.50 121.25 L195.00 121.58 L195.50 121.91 L196.00 122.23 L196.50 122.56 L197.00 122.88 L197.50 123.19 L198.00 123.50 L198.50 123.80 L199.00 124.10 L199.50 124.39 L200.00 124.67 L200.50 124.94 L201.00 125.20 L201.50 125.45 L202.00 125.69 L202.50 125.92 L203.00 126.14 L203.50 126.35 L204.00 126.55 L204.50 126.75 L205.00 126.93 L205.50 127.10 L206.00 127.26 L206.50 127.41 L207.00 127.54 L207.50 127.67 L208.00 127.79 L208.50 127.89 L209.00 127.99 L209.50 128.07 L210.00 128.14 L210.50 128.19 L211.00 128.23 L211.50 128.25 L212.00 128.26" stroke="#303030"/>
<path d="M32.50 128.89 L33.00 128.88 L33.50 128.84 L34.00 128.79 L34.50 128.71 L35.01 128.61 L35.51 128.50 L36.01 128.37 L36.51 128.22 L37.01 128.06 L37.51 127.90 L38.01 127.72 L38.51 127.53 L39.01 127.33 L39.51 127.13 L40.02 126.91 L40.52 126.68 L41.02 126.45 L41.52 126.20 L42.02 125.95 L42.52 125.68 L43.02 125.41 L43.52 125.13 L44.02 124.84 L44.52 124.54 L45.03 124.23 L45.53 123.91 L46.03 123.58 L46.53 123.25 L47.03 122.92 L47.53 122.57 L48.03 122.23 L48.53 121.88 L49.03 121.53 L49.53 121.18 L50.04 120.82 L50.54 120.47 L51.04 120.12 L51.54 119.77 L52.04 119.43 L52.54 119.09 L53.04 118.75 L53.54 118.43 L54.04 118.11 L54.54 117.81 L55.05 117.51 L55.55 117.24 L56.05 116.98 L56.55 116.73 L57.05 116.51 L57.55 116.31 L58.05 116.13 L58.55 115.97 L59.05 115.83 L59.56 115.71 L60.06 115.61 L60.56 115.53 L61.06 115.47 L61.56 115.44 L62.06 115.42 L62.56 115.42 L63.06 115.45 L63.56 115.50 L64.06 115.57 L64.57 115.65 L65.07 115.76 L65.57 115.89 L66.07 116.04 L66.57 116.21 L67.07 116.40 L67.57 116.61 L68.07 116.84 L68.57 117.10 L69.07 117.37 L69.58 117.66 L70.08 117.98 L70.58 118.32 L71.08 118.70 L71.58 119.10 L72.08 119.54 L72.58 120.02 L73.08 120.53 L73.58 121.08 L74.08 121.67 L74.59 122.30 L75.09 122.98 L75.59 123.71 L76.09 124.49 L76.59 125.32 L77.09 126.19 L77.59 127.10 L78.09 128.05 L78.59 129.02 L79.09 130.02 L79.60 131.03 L80.10 132.04 L80.60 133.06 L81.10 134.08 L81.60 135.09 L82.10 136.08 L82.60 137.04 L83.10 137.98 L83.60 138.88 L84.11 139.75 L84.61 140.58 L85.11 141.38 L85.61 142.14 L86.11 142.87 L86.61 143.57 L87.11 144.23 L87.61 144.86 L88.11 145.45 L88.61 146.02 L89.12 146.55 L89.62 147.05 L90.12 147.52 L90.62 147.95 L91.12 148.36 L91.62 148.73 L92.12 149.08 L92.62 149.39 L93.12 149.68 L93.62 149.93 L94.13 150.16 L94.63 150.36 L95.13 150.53" stroke="#ff2828"/>
<path d="M212.00 128.89 L211.50 128.88 L211.00 128.84 L210.50 128.79 L210.00 128.71 L209.49 128.61 L208.99 128.50 L208.49 128.37 L207.99 128.22 L207.49 128.06 L206.99 127.90 L206.49 127.72 L205.99 127.53 L205.49 127.33 L204.99 127.13 L204.48 126.91 L203.98 126.68 L203.48 126.45 L202.98 126.20 L202.48 125.95 L201.98 125.68 L201.48 125.41 L200.98 125.13 L200.48 124.84 L199.98 124.54 L199.47 124.23 L198.97 123.91 L198.47 123.58 L197.97 123.25 L197.47 122.92 L196.97 122.57 L196.47 122.23 L195.97 121.88 L195.47 121.53 L194.97 121.18 L194.46 120.82 L193.96 120.47 L193.46 120.12 L192.96 119.77 L192.46 119.43 L191.96 119.09 L191.46 118.75 L190.96 118.43 L190.46 118.11 L189.96 117.81 L189.45 117.51 L188.95 117.24 L188.45 116.98 L187.95 116.73 L187.45 116.51 L186.95 116.31 L186.45 116.13 L185.95 115.97 L185.45 115.83 L184.94 115.71 L184.44 115.61 L183.94 115.53 L183.44 115.47 L182.94 115.44 L182.44 115.42 L181.94 115.42 L181.44 115.45 L180.94 115.50 L180.44 115.57 L179.93 115.65 L179.43 115.76 L178.93 115.89 L178.43 116.04 L177.93 116.21 L177.43 116.40 L176.93 116.61 L176.43 116.84 L175.93 117.10 L175.43 117.37 L174.92 117.66 L174.42 117.98 L173.92 118.32 L173.42 118.70 L172.92 119.10 L172.42 119.54 L171.92 120.02 L171.42 120.53 L170.92 121.08 L170.42 121.67 L169.91 122.30 L169.41 122.98 L168.91 123.71 L168.41 124.49 L167.91 125.32 L167.41 126.19 L166.91 127.10 L166.41 128.05 L165.91 129.02 L165.41 130.02 L164.90 131.03 L164.40 132.04 L163.90 133.06 L163.40 134.08 L162.90 135.09 L162.40 136.08 L161.90 137.04 L161.40 137.98 L160.90 138.88 L160.39 139.75 L159.89 140.58 L159.39 141.38 L158.89 142.14 L158.39 142.87 L157.89 143.57 L157.39 144.23 L156.89 144.86 L156.39 145.45 L155.89 146.02 L155.38 146.55 L154.88 147.05 L154.38 147.52 L153.88 147.95 L153.38 148.36 L152.88 148.73 L152.38 149.08 L151.88 149.39 L151.38 149.68 L150.88 149.93 L150.37 150.16 L149.87 150.36 L149.37 150.53" stroke="#ff2828"/>
<path d="M95.13 150.53 L95.63 149.53 L96.13 148.56 L96.63 147.63 L97.14 146.72 L97.64 145.85 L98.14 144.99 L98.64 144.17 L99.15 143.37 L99.65 142.59 L100.15 141.83 L100.65 141.09 L101.15 140.38 L101.66 139.67 L102.16 138.99 L102.66 138.31 L103.16 137.65 L103.67 137.00 L104.17 136.36 L104.67 135.73 L105.17 135.11 L105.68 134.49 L106.18 133.87 L106.68 133.26 L107.18 132.65 L107.68 132.05 L108.19 131.45 L108.69 130.87 L109.19 130.30 L109.69 129.75 L110.20 129.22 L110.70 128.71 L111.20 128.24 L111.70 127.79 L112.20 127.37 L112.71 126.97 L113.21 126.60 L113.71 126.25 L114.21 125.91 L114.72 125.60 L115.22 125.30 L115.72 125.01 L116.22 124.73 L116.73 124.47 L117.23 124.21 L117.73 123.98 L118.23 123.76 L118.73 123.55 L119.24 123.37 L119.74 123.22 L120.24 123.08 L120.74 122.98 L121.25 122.90 L121.75 122.85 L122.25 122.83 L122.75 122.85 L123.25 122.90 L123.76 122.98 L124.26 123.08 L124.76 123.22 L125.26 123.37 L125.77 123.55 L126.27 123.76 L126.77 123.98 L127.27 124.21 L127.77 124.47 L128.28 124.73 L128.78 125.01 L129.28 125.30 L129.78 125.60 L130.29 125.91 L130.79 126.25 L131.29 126.60 L131.79 126.97 L132.30 127.37 L132.80 127.79 L133.30 128.24 L133.80 128.71 L134.30 129.22 L134.81 129.75 L135.31 130.30 L135.81 130.87 L136.31 131.45 L136.82 132.05 L137.32 132.65 L137.82 133.26 L138.32 133.87 L138.82 134.49 L139.33 135.11 L139.83 135.73 L140.33 136.36 L140.83 137.00 L141.34 137.65 L141.84 138.31 L142.34 138.99 L142.84 139.67 L143.35 140.38 L143.85 141.09 L144.35 141.83 L144.85 142.59 L145.35 143.37 L145.86 144.17 L146.36 144.99 L146.86 145.85 L147.36 146.72 L147.87 147.63 L148.37 148.56 L148.87 149.53 L149.37 150.53" stroke="#ff2828"/>
<path d="M86.35 182.39 L86.85 180.81 L87.35 179.20 L87.86 177.59 L88.36 175.97 L88.86 174.37 L89.36 172.79 L89.86 171.26 L90.37 169.78 L90.87 168.37 L91.37 167.04 L91.87 165.80 L92.38 164.67 L92.88 163.67 L93.38 162.79 L93.88 162.07 L94.38 161.51 L94.89 161.12 L95.39 160.92 L95.89 160.89 L96.39 161.02 L96.89 161.27 L97.40 161.60 L97.90 162.00 L98.40 162.42 L98.90 162.83 L99.40 163.21 L99.91 163.53 L100.41 163.76 L100.91 163.90 L101.41 163.94 L101.92 163.85 L102.42 163.64 L102.92 163.30 L103.42 162.80 L103.92 162.15 L104.43 161.34 L104.93 160.38 L105.43 159.31 L105.93 158.14 L106.43 156.91 L106.94 155.62 L107.44 154.32 L107.94 153.01 L108.44 151.70 L108.94 150.36 L109.45 148.99 L109.95 147.59 L110.45 146.14 L110.95 144.64 L111.45 143.07 L111.96 141.44 L112.46 139.80 L112.96 138.15 L113.46 136.54 L113.97 135.00 L114.47 133.54 L114.97 132.21 L115.47 131.02 L115.97 129.95 L116.48 128.99 L116.98 128.13 L117.48 127.33 L117.98 126.60 L118.48 125.91 L118.99 125.28 L119.49 124.70 L119.99 124.17 L120.49 123.71 L120.99 123.31 L121.50 123.02 L122.00 122.85 L122.50 122.85 L123.00 123.02 L123.51 123.31 L124.01 123.71 L124.51 124.17 L125.01 124.70 L125.51 125.28 L126.02 125.91 L126.52 126.60 L127.02 127.33 L127.52 128.13 L128.02 128.99 L128.53 129.95 L129.03 131.02 L129.53 132.21 L130.03 133.54 L130.53 135.00 L131.04 136.54 L131.54 138.15 L132.04 139.80 L132.54 141.44 L133.05 143.07 L133.55 144.64 L134.05 146.14 L134.55 147.59 L135.05 148.99 L135.56 150.36 L136.06 151.70 L136.56 153.01 L137.06 154.32 L137.56 155.62 L138.07 156.91 L138.57 158.14 L139.07 159.31 L139.57 160.38 L140.07 161.34 L140.58 162.15 L141.08 162.80 L141.58 163.30 L142.08 163.64 L142.58 163.85 L143.09 163.94 L143.59 163.90 L144.09 163.76 L144.59 163.53 L145.10 163.21 L145.60 162.83 L146.10 162.42 L146.60 162.00 L147.10 161.60 L147.61 161.27 L148.11 161.02 L148.61 160.89 L149.11 160.92 L149.61 161.12 L150.12 161.51 L150.62 162.07 L151.12 162.79 L151.62 163.67 L152.12 164.67 L152.63 165.80 L153.13 167.04 L153.63 168.37 L154.13 169.78 L154.64 171.26 L155.14 172.79 L155.64 174.37 L156.14 175.97 L156.64 177.59 L157.15 179.20 L157.65 180.81 L158.15 182.39" stroke="#ff2828"/>
<path d="M32.50 161.78 L33.03 161.83 L33.56 161.98 L34.08 162.23 L34.61 162.59 L35.14 163.05 L35.67 163.63 L36.20 164.33 L36.72 165.14 L37.25 166.08 L37.78 167.14 L38.31 168.34 L38.84 169.67 L39.36 171.13 L39.89 172.74 L40.42 174.48 L40.95 176.38 L41.48 178.43" stroke="#ff2828"/>
<path d="M212.00 161.78 L211.47 161.83 L210.94 161.98 L210.42 162.23 L209.89 162.59 L209.36 163.05 L208.83 163.63 L208.30 164.33 L207.78 165.14 L207.25 166.08 L206.72 167.14 L206.19 168.34 L205.66 169.67 L205.14 171.13 L204.61 172.74 L204.08 174.48 L203.55 176.38 L203.03 178.43" stroke="#ff2828"/>
</g>

<rect x="32.5" y="12" width="179.5" height="158.5" fill="none" stroke="#7a7a7a" stroke-width="1"/>
<line x1="32.5" y1="51.62" x2="35.0" y2="51.62" stroke="#666" stroke-width="0.8"/>
<line x1="32.5" y1="91.25" x2="35.0" y2="91.25" stroke="#666" stroke-width="0.8"/>
<line x1="32.5" y1="130.88" x2="35.0" y2="130.88" stroke="#666" stroke-width="0.8"/>
<text x="27.50" y="15.20" text-anchor="end" font-size="9.5">2</text>
<text x="27.50" y="54.83" text-anchor="end" font-size="9.5">1</text>
<text x="27.50" y="94.45" text-anchor="end" font-size="9.5">0</text>
<text x="27.50" y="134.08" text-anchor="end" font-size="9.5">−1</text>
<text x="27.50" y="173.70" text-anchor="end" font-size="9.5">−2</text>
<text x="32.50" y="183.50" text-anchor="middle" font-size="10">M</text>
<text x="62.42" y="183.50" text-anchor="middle" font-size="10">K+</text>
<text x="122.25" y="183.50" text-anchor="middle" font-size="10">Γ</text>
<text x="182.08" y="183.50" text-anchor="middle" font-size="10">K-</text>
<text x="212.00" y="183.50" text-anchor="middle" font-size="10">M</text>
<text transform="translate(11.00,90.80) rotate(-90)" text-anchor="middle" font-size="13.8">Engrgy (eV)</text>
<text x="2.60" y="12.00" font-size="14.5">(a)</text>
<clipPath id="clipb"><rect x="263" y="12" width="181" height="158.5"/></clipPath>
<line x1="293.17" y1="12" x2="293.17" y2="170.5" stroke="#f084b0" stroke-width="0.95" stroke-dasharray="1.6 1.7"/>
<line x1="353.50" y1="12" x2="353.50" y2="170.5" stroke="#f084b0" stroke-width="0.95" stroke-dasharray="1.6 1.7"/>
<line x1="413.83" y1="12" x2="413.83" y2="170.5" stroke="#f084b0" stroke-width="0.95" stroke-dasharray="1.6 1.7"/>
<line x1="263" y1="91.25" x2="444" y2="91.25" stroke="#8c8c8c" stroke-width="0.85" stroke-dasharray="1.6 1.7"/>
<g clip-path="url(#clipb)" fill="none" stroke-width="1.15" stroke-linecap="round" stroke-linejoin="round">
<path d="M263.00 30.23 L263.50 30.23 L264.00 30.21 L264.50 30.18 L265.00 30.14 L265.50 30.08 L266.00 30.01 L266.50 29.93 L267.00 29.84 L267.50 29.74 L268.00 29.63 L268.50 29.51 L269.00 29.38 L269.50 29.24 L270.00 29.10 L270.50 28.95 L271.00 28.79 L271.50 28.63 L272.00 28.46 L272.50 28.29 L273.00 28.12 L273.50 27.95 L274.00 27.77 L274.50 27.61 L275.00 27.45 L275.50 27.29 L276.00 27.15 L276.50 27.01 L277.00 26.89 L277.50 26.79 L278.00 26.70 L278.50 26.63 L279.00 26.58 L279.50 26.55 L280.00 26.55 L280.50 26.58 L281.00 26.63 L281.50 26.71 L282.00 26.83 L282.50 26.97 L283.00 27.13 L283.50 27.31 L284.00 27.52 L284.50 27.73 L285.00 27.96 L285.50 28.19 L286.00 28.43 L286.50 28.67 L287.00 28.91 L287.50 29.15 L288.00 29.38 L288.50 29.60 L289.00 29.81 L289.50 30.00 L290.00 30.17 L290.50 30.32 L291.00 30.45 L291.50 30.54 L292.00 30.61 L292.50 30.64 L293.00 30.64 L293.50 30.59 L294.00 30.50 L294.50 30.38 L295.00 30.22 L295.50 30.02 L296.00 29.80 L296.50 29.54 L297.00 29.25 L297.50 28.94 L298.00 28.60 L298.50 28.25 L299.00 27.87 L299.50 27.47 L300.00 27.05 L300.50 26.63 L301.00 26.18 L301.50 25.73 L302.00 25.27 L302.50 24.81 L303.00 24.34 L303.50 23.87 L304.00 23.40 L304.50 22.93 L305.00 22.47 L305.50 22.01 L306.00 21.57 L306.50 21.13 L307.00 20.71 L307.50 20.31 L308.00 19.92 L308.50 19.56 L309.00 19.21 L309.50 18.88 L310.00 18.57 L310.50 18.27 L311.00 17.99 L311.50 17.73 L312.00 17.47 L312.50 17.24 L313.00 17.01 L313.50 16.79 L314.00 16.59 L314.50 16.39 L315.00 16.20 L315.50 16.02 L316.00 15.85 L316.50 15.68 L317.00 15.53 L317.50 15.38 L318.00 15.23 L318.50 15.09 L319.00 14.96 L319.50 14.84 L320.00 14.72 L320.50 14.61 L321.00 14.50 L321.50 14.40 L322.00 14.30 L322.50 14.21 L323.00 14.12 L323.50 14.04 L324.00 13.96 L324.50 13.89 L325.00 13.82 L325.50 13.75 L326.00 13.69 L326.50 13.63 L327.00 13.57 L327.50 13.52 L328.00 13.47 L328.50 13.42 L329.00 13.37 L329.50 13.32 L330.00 13.28 L330.50 13.23 L331.00 13.18 L331.50 13.13 L332.00 13.08 L332.50 13.02 L333.00 12.97 L333.50 12.91 L334.00 12.84 L334.50 12.77 L335.00 12.70 L335.50 12.62 L336.00 12.53 L336.50 12.44 L337.00 12.34 L337.50 12.23 L338.00 12.12 L338.50 11.99 L339.00 11.86 L339.50 11.72 L340.00 11.57 L340.50 11.41 L341.00 11.25 L341.50 11.09 L342.00 10.92 L342.50 10.75 L343.00 10.57 L343.50 10.40 L344.00 10.22 L344.50 10.04 L345.00 9.87 L345.50 9.70 L346.00 9.53 L346.50 9.37 L347.00 9.21 L347.50 9.06 L348.00 8.91 L348.50 8.78 L349.00 8.65 L349.50 8.53 L350.00 8.42 L350.50 8.33 L351.00 8.24 L351.50 8.17 L352.00 8.11 L352.50 8.07 L353.00 8.05 L353.50 8.04 L354.00 8.05 L354.50 8.07 L355.00 8.11 L355.50 8.17 L356.00 8.24 L356.50 8.33 L357.00 8.42 L357.50 8.53 L358.00 8.65 L358.50 8.78 L359.00 8.91 L359.50 9.06 L360.00 9.21 L360.50 9.37 L361.00 9.53 L361.50 9.70 L362.00 9.87 L362.50 10.04 L363.00 10.22 L363.50 10.40 L364.00 10.57 L364.50 10.75 L365.00 10.92 L365.50 11.09 L366.00 11.25 L366.50 11.41 L367.00 11.57 L367.50 11.72 L368.00 11.86 L368.50 11.99 L369.00 12.12 L369.50 12.23 L370.00 12.34 L370.50 12.44 L371.00 12.53 L371.50 12.62 L372.00 12.70 L372.50 12.77 L373.00 12.84 L373.50 12.91 L374.00 12.97 L374.50 13.02 L375.00 13.08 L375.50 13.13 L376.00 13.18 L376.50 13.23 L377.00 13.28 L377.50 13.32 L378.00 13.37 L378.50 13.42 L379.00 13.47 L379.50 13.52 L380.00 13.57 L380.50 13.63 L381.00 13.69 L381.50 13.75 L382.00 13.82 L382.50 13.89 L383.00 13.96 L383.50 14.04 L384.00 14.12 L384.50 14.21 L385.00 14.30 L385.50 14.40 L386.00 14.50 L386.50 14.61 L387.00 14.72 L387.50 14.84 L388.00 14.96 L388.50 15.09 L389.00 15.23 L389.50 15.38 L390.00 15.53 L390.50 15.68 L391.00 15.85 L391.50 16.02 L392.00 16.20 L392.50 16.39 L393.00 16.59 L393.50 16.79 L394.00 17.01 L394.50 17.24 L395.00 17.47 L395.50 17.73 L396.00 17.99 L396.50 18.27 L397.00 18.57 L397.50 18.88 L398.00 19.21 L398.50 19.56 L399.00 19.92 L399.50 20.31 L400.00 20.71 L400.50 21.13 L401.00 21.57 L401.50 22.01 L402.00 22.47 L402.50 22.93 L403.00 23.40 L403.50 23.87 L404.00 24.34 L404.50 24.81 L405.00 25.27 L405.50 25.73 L406.00 26.18 L406.50 26.63 L407.00 27.05 L407.50 27.47 L408.00 27.87 L408.50 28.25 L409.00 28.60 L409.50 28.94 L410.00 29.25 L410.50 29.54 L411.00 29.80 L411.50 30.02 L412.00 30.22 L412.50 30.38 L413.00 30.50 L413.50 30.59 L414.00 30.64 L414.50 30.64 L415.00 30.61 L415.50 30.54 L416.00 30.45 L416.50 30.32 L417.00 30.17 L417.50 30.00 L418.00 29.81 L418.50 29.60 L419.00 29.38 L419.50 29.15 L420.00 28.91 L420.50 28.67 L421.00 28.43 L421.50 28.19 L422.00 27.96 L422.50 27.73 L423.00 27.52 L423.50 27.31 L424.00 27.13 L424.50 26.97 L425.00 26.83 L425.50 26.71 L426.00 26.63 L426.50 26.58 L427.00 26.55 L427.50 26.55 L428.00 26.58 L428.50 26.63 L429.00 26.70 L429.50 26.79 L430.00 26.89 L430.50 27.01 L431.00 27.15 L431.50 27.29 L432.00 27.45 L432.50 27.61 L433.00 27.77 L433.50 27.95 L434.00 28.12 L434.50 28.29 L435.00 28.46 L435.50 28.63 L436.00 28.79 L436.50 28.95 L437.00 29.10 L437.50 29.24 L438.00 29.38 L438.50 29.51 L439.00 29.63 L439.50 29.74 L440.00 29.84 L440.50 29.93 L441.00 30.01 L441.50 30.08 L442.00 30.14 L442.50 30.18 L443.00 30.21 L443.50 30.23 L444.00 30.23" stroke="#ff2828"/>
<path d="M263.00 63.51 L263.50 63.51 L264.00 63.47 L264.50 63.41 L265.00 63.33 L265.50 63.22 L266.00 63.09 L266.50 62.94 L267.00 62.77 L267.50 62.58 L268.00 62.37 L268.50 62.14 L269.00 61.89 L269.50 61.63 L270.00 61.35 L270.50 61.05 L271.00 60.74 L271.50 60.42 L272.00 60.09 L272.50 59.75 L273.00 59.39 L273.50 59.03 L274.00 58.65 L274.50 58.27 L275.00 57.88 L275.50 57.49 L276.00 57.09 L276.50 56.69 L277.00 56.28 L277.50 55.87 L278.00 55.46 L278.50 55.05 L279.00 54.63 L279.50 54.22 L280.00 53.81 L280.50 53.41 L281.00 53.01 L281.50 52.61 L282.00 52.22 L282.50 51.83 L283.00 51.45 L283.50 51.08 L284.00 50.72 L284.50 50.37 L285.00 50.04 L285.50 49.71 L286.00 49.39 L286.50 49.09 L287.00 48.81 L287.50 48.54 L288.00 48.29 L288.50 48.05 L289.00 47.84 L289.50 47.64 L290.00 47.46 L290.50 47.31 L291.00 47.17 L291.50 47.06 L292.00 46.97 L292.50 46.91 L293.00 46.88 L293.50 46.87 L294.00 46.88 L294.50 46.92 L295.00 46.98 L295.50 47.05 L296.00 47.15 L296.50 47.25 L297.00 47.36 L297.50 47.48 L298.00 47.60 L298.50 47.73 L299.00 47.85 L299.50 47.97 L300.00 48.08 L300.50 48.19 L301.00 48.28 L301.50 48.36 L302.00 48.42 L302.50 48.46 L303.00 48.48 L303.50 48.48 L304.00 48.45 L304.50 48.41 L305.00 48.35 L305.50 48.26 L306.00 48.16 L306.50 48.04 L307.00 47.90 L307.50 47.75 L308.00 47.58 L308.50 47.39 L309.00 47.19 L309.50 46.97 L310.00 46.74 L310.50 46.49 L311.00 46.23 L311.50 45.96 L312.00 45.67 L312.50 45.37 L313.00 45.06 L313.50 44.74 L314.00 44.41 L314.50 44.07 L315.00 43.72 L315.50 43.36 L316.00 43.00 L316.50 42.62 L317.00 42.24 L317.50 41.85 L318.00 41.46 L318.50 41.06 L319.00 40.65 L319.50 40.24 L320.00 39.82 L320.50 39.40 L321.00 38.97 L321.50 38.54 L322.00 38.11 L322.50 37.68 L323.00 37.24 L323.50 36.80 L324.00 36.36 L324.50 35.92 L325.00 35.47 L325.50 35.03 L326.00 34.58 L326.50 34.14 L327.00 33.70 L327.50 33.26 L328.00 32.82 L328.50 32.38 L329.00 31.95 L329.50 31.52 L330.00 31.10 L330.50 30.68 L331.00 30.28 L331.50 29.87 L332.00 29.48 L332.50 29.10 L333.00 28.73 L333.50 28.36 L334.00 28.01 L334.50 27.68 L335.00 27.35 L335.50 27.04 L336.00 26.75 L336.50 26.47 L337.00 26.21 L337.50 25.97 L338.00 25.74 L338.50 25.54 L339.00 25.35 L339.50 25.19 L340.00 25.04 L340.50 24.92 L341.00 24.82 L341.50 24.75 L342.00 24.70 L342.50 24.68 L343.00 24.68 L343.50 24.71 L344.00 24.76 L344.50 24.83 L345.00 24.91 L345.50 25.01 L346.00 25.12 L346.50 25.24 L347.00 25.37 L347.50 25.51 L348.00 25.64 L348.50 25.78 L349.00 25.92 L349.50 26.05 L350.00 26.17 L350.50 26.29 L351.00 26.39 L351.50 26.48 L352.00 26.56 L352.50 26.61 L353.00 26.65 L353.50 26.66 L354.00 26.65 L354.50 26.61 L355.00 26.56 L355.50 26.48 L356.00 26.39 L356.50 26.29 L357.00 26.17 L357.50 26.05 L358.00 25.92 L358.50 25.78 L359.00 25.64 L359.50 25.51 L360.00 25.37 L360.50 25.24 L361.00 25.12 L361.50 25.01 L362.00 24.91 L362.50 24.83 L363.00 24.76 L363.50 24.71 L364.00 24.68 L364.50 24.68 L365.00 24.70 L365.50 24.75 L366.00 24.82 L366.50 24.92 L367.00 25.04 L367.50 25.19 L368.00 25.35 L368.50 25.54 L369.00 25.74 L369.50 25.97 L370.00 26.21 L370.50 26.47 L371.00 26.75 L371.50 27.04 L372.00 27.35 L372.50 27.68 L373.00 28.01 L373.50 28.36 L374.00 28.73 L374.50 29.10 L375.00 29.48 L375.50 29.87 L376.00 30.28 L376.50 30.68 L377.00 31.10 L377.50 31.52 L378.00 31.95 L378.50 32.38 L379.00 32.82 L379.50 33.26 L380.00 33.70 L380.50 34.14 L381.00 34.58 L381.50 35.03 L382.00 35.47 L382.50 35.92 L383.00 36.36 L383.50 36.80 L384.00 37.24 L384.50 37.68 L385.00 38.11 L385.50 38.54 L386.00 38.97 L386.50 39.40 L387.00 39.82 L387.50 40.24 L388.00 40.65 L388.50 41.06 L389.00 41.46 L389.50 41.85 L390.00 42.24 L390.50 42.62 L391.00 43.00 L391.50 43.36 L392.00 43.72 L392.50 44.07 L393.00 44.41 L393.50 44.74 L394.00 45.06 L394.50 45.37 L395.00 45.67 L395.50 45.96 L396.00 46.23 L396.50 46.49 L397.00 46.74 L397.50 46.97 L398.00 47.19 L398.50 47.39 L399.00 47.58 L399.50 47.75 L400.00 47.90 L400.50 48.04 L401.00 48.16 L401.50 48.26 L402.00 48.35 L402.50 48.41 L403.00 48.45 L403.50 48.48 L404.00 48.48 L404.50 48.46 L405.00 48.42 L405.50 48.36 L406.00 48.28 L406.50 48.19 L407.00 48.08 L407.50 47.97 L408.00 47.85 L408.50 47.73 L409.00 47.60 L409.50 47.48 L410.00 47.36 L410.50 47.25 L411.00 47.15 L411.50 47.05 L412.00 46.98 L412.50 46.92 L413.00 46.88 L413.50 46.87 L414.00 46.88 L414.50 46.91 L415.00 46.97 L415.50 47.06 L416.00 47.17 L416.50 47.31 L417.00 47.46 L417.50 47.64 L418.00 47.84 L418.50 48.05 L419.00 48.29 L419.50 48.54 L420.00 48.81 L420.50 49.09 L421.00 49.39 L421.50 49.71 L422.00 50.04 L422.50 50.37 L423.00 50.72 L423.50 51.08 L424.00 51.45 L424.50 51.83 L425.00 52.22 L425.50 52.61 L426.00 53.01 L426.50 53.41 L427.00 53.81 L427.50 54.22 L428.00 54.63 L428.50 55.05 L429.00 55.46 L429.50 55.87 L430.00 56.28 L430.50 56.69 L431.00 57.09 L431.50 57.49 L432.00 57.88 L432.50 58.27 L433.00 58.65 L433.50 59.03 L434.00 59.39 L434.50 59.75 L435.00 60.09 L435.50 60.42 L436.00 60.74 L436.50 61.05 L437.00 61.35 L437.50 61.63 L438.00 61.89 L438.50 62.14 L439.00 62.37 L439.50 62.58 L440.00 62.77 L440.50 62.94 L441.00 63.09 L441.50 63.22 L442.00 63.33 L442.50 63.41 L443.00 63.47 L443.50 63.51 L444.00 63.51" stroke="#ff2828"/>
<path d="M263.00 37.36 L263.50 37.34 L264.00 37.29 L264.50 37.22 L265.00 37.14 L265.50 37.03 L266.00 36.90 L266.50 36.76 L267.00 36.60 L267.50 36.42 L268.00 36.24 L268.50 36.04 L269.00 35.84 L269.50 35.62 L270.00 35.40 L270.50 35.17 L271.00 34.95 L271.50 34.71 L272.00 34.48 L272.50 34.25 L273.00 34.02 L273.50 33.79 L274.00 33.57 L274.50 33.36 L275.00 33.15 L275.50 32.95 L276.00 32.76 L276.50 32.59 L277.00 32.43 L277.50 32.28 L278.00 32.15 L278.50 32.04 L279.00 31.95 L279.50 31.88 L280.00 31.83 L280.50 31.80 L281.00 31.80 L281.50 31.83 L282.00 31.88 L282.50 31.96 L283.00 32.06 L283.50 32.17 L284.00 32.30 L284.50 32.44 L285.00 32.59 L285.50 32.75 L286.00 32.92 L286.50 33.08 L287.00 33.25 L287.50 33.41 L288.00 33.56 L288.50 33.71 L289.00 33.85 L289.50 33.97 L290.00 34.08 L290.50 34.16 L291.00 34.23 L291.50 34.27 L292.00 34.28 L292.50 34.26 L293.00 34.21 L293.50 34.13 L294.00 34.01 L294.50 33.86 L295.00 33.68 L295.50 33.47 L296.00 33.24 L296.50 32.98 L297.00 32.70 L297.50 32.41 L298.00 32.09 L298.50 31.76 L299.00 31.42 L299.50 31.07 L300.00 30.71 L300.50 30.35 L301.00 29.98 L301.50 29.61 L302.00 29.24 L302.50 28.87 L303.00 28.51 L303.50 28.16 L304.00 27.82 L304.50 27.48 L305.00 27.16 L305.50 26.85 L306.00 26.55 L306.50 26.28 L307.00 26.01 L307.50 25.77 L308.00 25.55 L308.50 25.35 L309.00 25.17 L309.50 25.01 L310.00 24.89 L310.50 24.79 L311.00 24.71 L311.50 24.67 L312.00 24.66 L312.50 24.69 L313.00 24.74 L313.50 24.83 L314.00 24.95 L314.50 25.10 L315.00 25.27 L315.50 25.47 L316.00 25.69 L316.50 25.93 L317.00 26.19 L317.50 26.47 L318.00 26.76 L318.50 27.07 L319.00 27.38 L319.50 27.71 L320.00 28.04 L320.50 28.39 L321.00 28.74 L321.50 29.10 L322.00 29.46 L322.50 29.84 L323.00 30.22 L323.50 30.60 L324.00 31.00 L324.50 31.40 L325.00 31.81 L325.50 32.22 L326.00 32.64 L326.50 33.06 L327.00 33.49 L327.50 33.92 L328.00 34.36 L328.50 34.80 L329.00 35.25 L329.50 35.70 L330.00 36.15 L330.50 36.61 L331.00 37.07 L331.50 37.53 L332.00 37.99 L332.50 38.46 L333.00 38.92 L333.50 39.39 L334.00 39.86 L334.50 40.33 L335.00 40.79 L335.50 41.26 L336.00 41.73 L336.50 42.20 L337.00 42.66 L337.50 43.13 L338.00 43.59 L338.50 44.05 L339.00 44.51 L339.50 44.97 L340.00 45.42 L340.50 45.87 L341.00 46.32 L341.50 46.76 L342.00 47.20 L342.50 47.62 L343.00 48.04 L343.50 48.46 L344.00 48.86 L344.50 49.25 L345.00 49.63 L345.50 49.99 L346.00 50.34 L346.50 50.68 L347.00 51.00 L347.50 51.30 L348.00 51.58 L348.50 51.85 L349.00 52.09 L349.50 52.32 L350.00 52.52 L350.50 52.70 L351.00 52.85 L351.50 52.98 L352.00 53.08 L352.50 53.15 L353.00 53.19 L353.50 53.21 L354.00 53.19 L354.50 53.15 L355.00 53.08 L355.50 52.98 L356.00 52.85 L356.50 52.70 L357.00 52.52 L357.50 52.32 L358.00 52.09 L358.50 51.85 L359.00 51.58 L359.50 51.30 L360.00 51.00 L360.50 50.68 L361.00 50.34 L361.50 49.99 L362.00 49.63 L362.50 49.25 L363.00 48.86 L363.50 48.46 L364.00 48.04 L364.50 47.62 L365.00 47.20 L365.50 46.76 L366.00 46.32 L366.50 45.87 L367.00 45.42 L367.50 44.97 L368.00 44.51 L368.50 44.05 L369.00 43.59 L369.50 43.13 L370.00 42.66 L370.50 42.20 L371.00 41.73 L371.50 41.26 L372.00 40.79 L372.50 40.33 L373.00 39.86 L373.50 39.39 L374.00 38.92 L374.50 38.46 L375.00 37.99 L375.50 37.53 L376.00 37.07 L376.50 36.61 L377.00 36.15 L377.50 35.70 L378.00 35.25 L378.50 34.80 L379.00 34.36 L379.50 33.92 L380.00 33.49 L380.50 33.06 L381.00 32.64 L381.50 32.22 L382.00 31.81 L382.50 31.40 L383.00 31.00 L383.50 30.60 L384.00 30.22 L384.50 29.84 L385.00 29.46 L385.50 29.10 L386.00 28.74 L386.50 28.39 L387.00 28.04 L387.50 27.71 L388.00 27.38 L388.50 27.07 L389.00 26.76 L389.50 26.47 L390.00 26.19 L390.50 25.93 L391.00 25.69 L391.50 25.47 L392.00 25.27 L392.50 25.10 L393.00 24.95 L393.50 24.83 L394.00 24.74 L394.50 24.69 L395.00 24.66 L395.50 24.67 L396.00 24.71 L396.50 24.79 L397.00 24.89 L397.50 25.01 L398.00 25.17 L398.50 25.35 L399.00 25.55 L399.50 25.77 L400.00 26.01 L400.50 26.28 L401.00 26.55 L401.50 26.85 L402.00 27.16 L402.50 27.48 L403.00 27.82 L403.50 28.16 L404.00 28.51 L404.50 28.87 L405.00 29.24 L405.50 29.61 L406.00 29.98 L406.50 30.35 L407.00 30.71 L407.50 31.07 L408.00 31.42 L408.50 31.76 L409.00 32.09 L409.50 32.41 L410.00 32.70 L410.50 32.98 L411.00 33.24 L411.50 33.47 L412.00 33.68 L412.50 33.86 L413.00 34.01 L413.50 34.13 L414.00 34.21 L414.50 34.26 L415.00 34.28 L415.50 34.27 L416.00 34.23 L416.50 34.16 L417.00 34.08 L417.50 33.97 L418.00 33.85 L418.50 33.71 L419.00 33.56 L419.50 33.41 L420.00 33.25 L420.50 33.08 L421.00 32.92 L421.50 32.75 L422.00 32.59 L422.50 32.44 L423.00 32.30 L423.50 32.17 L424.00 32.06 L424.50 31.96 L425.00 31.88 L425.50 31.83 L426.00 31.80 L426.50 31.80 L427.00 31.83 L427.50 31.88 L428.00 31.95 L428.50 32.04 L429.00 32.15 L429.50 32.28 L430.00 32.43 L430.50 32.59 L431.00 32.76 L431.50 32.95 L432.00 33.15 L432.50 33.36 L433.00 33.57 L433.50 33.79 L434.00 34.02 L434.50 34.25 L435.00 34.48 L435.50 34.71 L436.00 34.95 L436.50 35.17 L437.00 35.40 L437.50 35.62 L438.00 35.84 L438.50 36.04 L439.00 36.24 L439.50 36.42 L440.00 36.60 L440.50 36.76 L441.00 36.90 L441.50 37.03 L442.00 37.14 L442.50 37.22 L443.00 37.29 L443.50 37.34 L444.00 37.36" stroke="#303030"/>
<path d="M263.00 67.47 L263.50 67.47 L264.00 67.44 L264.50 67.39 L265.01 67.32 L265.51 67.23 L266.01 67.13 L266.51 67.00 L267.01 66.85 L267.51 66.69 L268.02 66.52 L268.52 66.32 L269.02 66.12 L269.52 65.90 L270.02 65.66 L270.52 65.42 L271.03 65.16 L271.53 64.89 L272.03 64.61 L272.53 64.33 L273.03 64.03 L273.53 63.73 L274.03 63.42 L274.54 63.11 L275.04 62.79 L275.54 62.46 L276.04 62.13 L276.54 61.80 L277.04 61.47 L277.55 61.14 L278.05 60.80 L278.55 60.46 L279.05 60.13 L279.55 59.80 L280.05 59.47 L280.55 59.14 L281.06 58.82 L281.56 58.50 L282.06 58.18 L282.56 57.88 L283.06 57.57 L283.56 57.28 L284.07 56.99 L284.57 56.72 L285.07 56.45 L285.57 56.19 L286.07 55.94 L286.57 55.71 L287.08 55.48 L287.58 55.27 L288.08 55.07 L288.58 54.89 L289.08 54.72 L289.58 54.57 L290.08 54.44 L290.59 54.32 L291.09 54.22 L291.59 54.13 L292.09 54.07 L292.59 54.03 L293.09 54.00 L293.60 54.00 L294.10 54.02 L294.60 54.06 L295.10 54.11 L295.60 54.18 L296.10 54.25 L296.60 54.34 L297.11 54.44 L297.61 54.54 L298.11 54.65 L298.61 54.76 L299.11 54.87 L299.61 54.98 L300.12 55.09 L300.62 55.19 L301.12 55.29 L301.62 55.37 L302.12 55.45 L302.62 55.51 L303.13 55.55 L303.63 55.58 L304.13 55.60 L304.63 55.59 L305.13 55.56 L305.63 55.50 L306.13 55.43 L306.64 55.33 L307.14 55.20 L307.64 55.06 L308.14 54.89 L308.64 54.70 L309.14 54.48 L309.65 54.24 L310.15 53.98 L310.65 53.69 L311.15 53.38 L311.65 53.04 L312.15 52.68 L312.66 52.29 L313.16 51.88 L313.66 51.45 L314.16 50.99 L314.66 50.50 L315.16 49.99 L315.66 49.45 L316.17 48.89 L316.67 48.31 L317.17 47.70 L317.67 47.06 L318.17 46.41 L318.67 45.74 L319.18 45.05 L319.68 44.35 L320.18 43.63 L320.68 42.90 L321.18 42.16 L321.68 41.40 L322.18 40.64 L322.69 39.88 L323.19 39.11 L323.69 38.33 L324.19 37.55 L324.69 36.78 L325.19 36.00 L325.70 35.23 L326.20 34.46 L326.70 33.69 L327.20 32.93 L327.70 32.18 L328.20 31.44 L328.71 30.70 L329.21 29.97 L329.71 29.25 L330.21 28.53 L330.71 27.82 L331.21 27.11 L331.71 26.41 L332.22 25.72 L332.72 25.02 L333.22 24.33 L333.72 23.65 L334.22 22.97 L334.72 22.29 L335.23 21.61 L335.73 20.94 L336.23 20.27 L336.73 19.60 L337.23 18.93 L337.73 18.27 L338.23 17.60 L338.74 16.94 L339.24 16.27 L339.74 15.61 L340.24 14.95 L340.74 14.28 L341.24 13.62 L341.75 12.95 L342.25 12.28 L342.75 11.61 L343.25 10.94 L343.75 10.27 L344.25 9.59 L344.76 8.91 L345.26 8.23 L345.76 7.54 L346.26 6.85" stroke="#303030"/>
<path d="M444.00 67.47 L443.50 67.47 L443.00 67.44 L442.50 67.39 L441.99 67.32 L441.49 67.23 L440.99 67.13 L440.49 67.00 L439.99 66.85 L439.49 66.69 L438.98 66.52 L438.48 66.32 L437.98 66.12 L437.48 65.90 L436.98 65.66 L436.48 65.42 L435.97 65.16 L435.47 64.89 L434.97 64.61 L434.47 64.33 L433.97 64.03 L433.47 63.73 L432.97 63.42 L432.46 63.11 L431.96 62.79 L431.46 62.46 L430.96 62.13 L430.46 61.80 L429.96 61.47 L429.45 61.14 L428.95 60.80 L428.45 60.46 L427.95 60.13 L427.45 59.80 L426.95 59.47 L426.45 59.14 L425.94 58.82 L425.44 58.50 L424.94 58.18 L424.44 57.88 L423.94 57.57 L423.44 57.28 L422.93 56.99 L422.43 56.72 L421.93 56.45 L421.43 56.19 L420.93 55.94 L420.43 55.71 L419.92 55.48 L419.42 55.27 L418.92 55.07 L418.42 54.89 L417.92 54.72 L417.42 54.57 L416.92 54.44 L416.41 54.32 L415.91 54.22 L415.41 54.13 L414.91 54.07 L414.41 54.03 L413.91 54.00 L413.40 54.00 L412.90 54.02 L412.40 54.06 L411.90 54.11 L411.40 54.18 L410.90 54.25 L410.40 54.34 L409.89 54.44 L409.39 54.54 L408.89 54.65 L408.39 54.76 L407.89 54.87 L407.39 54.98 L406.88 55.09 L406.38 55.19 L405.88 55.29 L405.38 55.37 L404.88 55.45 L404.38 55.51 L403.87 55.55 L403.37 55.58 L402.87 55.60 L402.37 55.59 L401.87 55.56 L401.37 55.50 L400.87 55.43 L400.36 55.33 L399.86 55.20 L399.36 55.06 L398.86 54.89 L398.36 54.70 L397.86 54.48 L397.35 54.24 L396.85 53.98 L396.35 53.69 L395.85 53.38 L395.35 53.04 L394.85 52.68 L394.34 52.29 L393.84 51.88 L393.34 51.45 L392.84 50.99 L392.34 50.50 L391.84 49.99 L391.34 49.45 L390.83 48.89 L390.33 48.31 L389.83 47.70 L389.33 47.06 L388.83 46.41 L388.33 45.74 L387.82 45.05 L387.32 44.35 L386.82 43.63 L386.32 42.90 L385.82 42.16 L385.32 41.40 L384.82 40.64 L384.31 39.88 L383.81 39.11 L383.31 38.33 L382.81 37.55 L382.31 36.78 L381.81 36.00 L381.30 35.23 L380.80 34.46 L380.30 33.69 L379.80 32.93 L379.30 32.18 L378.80 31.44 L378.29 30.70 L377.79 29.97 L377.29 29.25 L376.79 28.53 L376.29 27.82 L375.79 27.11 L375.29 26.41 L374.78 25.72 L374.28 25.02 L373.78 24.33 L373.28 23.65 L372.78 22.97 L372.28 22.29 L371.77 21.61 L371.27 20.94 L370.77 20.27 L370.27 19.60 L369.77 18.93 L369.27 18.27 L368.77 17.60 L368.26 16.94 L367.76 16.27 L367.26 15.61 L366.76 14.95 L366.26 14.28 L365.76 13.62 L365.25 12.95 L364.75 12.28 L364.25 11.61 L363.75 10.94 L363.25 10.27 L362.75 9.59 L362.24 8.91 L361.74 8.23 L361.24 7.54 L360.74 6.85" stroke="#303030"/>
<path d="M263.00 129.69 L263.50 129.69 L264.00 129.68 L264.50 129.65 L265.00 129.62 L265.50 129.58 L266.00 129.52 L266.51 129.45 L267.01 129.37 L267.51 129.28 L268.01 129.17 L268.51 129.06 L269.01 128.93 L269.51 128.78 L270.01 128.63 L270.51 128.46 L271.01 128.28 L271.51 128.09 L272.01 127.89 L272.51 127.67 L273.01 127.44 L273.52 127.20 L274.02 126.94 L274.52 126.67 L275.02 126.39 L275.52 126.09 L276.02 125.78 L276.52 125.46 L277.02 125.12 L277.52 124.77 L278.02 124.40 L278.52 124.02 L279.02 123.64 L279.52 123.24 L280.02 122.83 L280.53 122.42 L281.03 122.00 L281.53 121.58 L282.03 121.16 L282.53 120.74 L283.03 120.32 L283.53 119.91 L284.03 119.51 L284.53 119.11 L285.03 118.73 L285.53 118.35 L286.03 117.99 L286.53 117.65 L287.03 117.32 L287.54 117.01 L288.04 116.73 L288.54 116.46 L289.04 116.22 L289.54 116.01 L290.04 115.82 L290.54 115.67 L291.04 115.55 L291.54 115.46 L292.04 115.40 L292.54 115.39 L293.04 115.41 L293.54 115.47 L294.04 115.58 L294.55 115.72 L295.05 115.90 L295.55 116.12 L296.05 116.37 L296.55 116.66 L297.05 116.98 L297.55 117.33 L298.05 117.71 L298.55 118.12 L299.05 118.56 L299.55 119.03 L300.05 119.52 L300.55 120.04 L301.05 120.58 L301.56 121.15 L302.06 121.73 L302.56 122.34 L303.06 122.96 L303.56 123.60 L304.06 124.26 L304.56 124.93 L305.06 125.61 L305.56 126.31 L306.06 127.03 L306.56 127.75 L307.06 128.49 L307.56 129.24 L308.06 130.00 L308.57 130.77 L309.07 131.55 L309.57 132.34 L310.07 133.14 L310.57 133.95 L311.07 134.77 L311.57 135.60 L312.07 136.43 L312.57 137.27 L313.07 138.12 L313.57 138.97 L314.07 139.83 L314.57 140.70 L315.08 141.56 L315.58 142.44 L316.08 143.31 L316.58 144.19 L317.08 145.08 L317.58 145.96 L318.08 146.84 L318.58 147.71 L319.08 148.58 L319.58 149.44 L320.08 150.29 L320.58 151.13 L321.08 151.95 L321.58 152.76 L322.09 153.55 L322.59 154.32 L323.09 155.07 L323.59 155.80 L324.09 156.50 L324.59 157.17 L325.09 157.81 L325.59 158.43 L326.09 159.00 L326.59 159.54 L327.09 160.05 L327.59 160.51 L328.09 160.94 L328.59 161.32 L329.10 161.65 L329.60 161.94 L330.10 162.18" stroke="#ff2828"/>
<path d="M444.00 129.69 L443.50 129.69 L443.00 129.68 L442.50 129.65 L442.00 129.62 L441.50 129.58 L441.00 129.52 L440.49 129.45 L439.99 129.37 L439.49 129.28 L438.99 129.17 L438.49 129.06 L437.99 128.93 L437.49 128.78 L436.99 128.63 L436.49 128.46 L435.99 128.28 L435.49 128.09 L434.99 127.89 L434.49 127.67 L433.99 127.44 L433.48 127.20 L432.98 126.94 L432.48 126.67 L431.98 126.39 L431.48 126.09 L430.98 125.78 L430.48 125.46 L429.98 125.12 L429.48 124.77 L428.98 124.40 L428.48 124.02 L427.98 123.64 L427.48 123.24 L426.98 122.83 L426.47 122.42 L425.97 122.00 L425.47 121.58 L424.97 121.16 L424.47 120.74 L423.97 120.32 L423.47 119.91 L422.97 119.51 L422.47 119.11 L421.97 118.73 L421.47 118.35 L420.97 117.99 L420.47 117.65 L419.97 117.32 L419.46 117.01 L418.96 116.73 L418.46 116.46 L417.96 116.22 L417.46 116.01 L416.96 115.82 L416.46 115.67 L415.96 115.55 L415.46 115.46 L414.96 115.40 L414.46 115.39 L413.96 115.41 L413.46 115.47 L412.96 115.58 L412.45 115.72 L411.95 115.90 L411.45 116.12 L410.95 116.37 L410.45 116.66 L409.95 116.98 L409.45 117.33 L408.95 117.71 L408.45 118.12 L407.95 118.56 L407.45 119.03 L406.95 119.52 L406.45 120.04 L405.95 120.58 L405.44 121.15 L404.94 121.73 L404.44 122.34 L403.94 122.96 L403.44 123.60 L402.94 124.26 L402.44 124.93 L401.94 125.61 L401.44 126.31 L400.94 127.03 L400.44 127.75 L399.94 128.49 L399.44 129.24 L398.94 130.00 L398.43 130.77 L397.93 131.55 L397.43 132.34 L396.93 133.14 L396.43 133.95 L395.93 134.77 L395.43 135.60 L394.93 136.43 L394.43 137.27 L393.93 138.12 L393.43 138.97 L392.93 139.83 L392.43 140.70 L391.92 141.56 L391.42 142.44 L390.92 143.31 L390.42 144.19 L389.92 145.08 L389.42 145.96 L388.92 146.84 L388.42 147.71 L387.92 148.58 L387.42 149.44 L386.92 150.29 L386.42 151.13 L385.92 151.95 L385.42 152.76 L384.91 153.55 L384.41 154.32 L383.91 155.07 L383.41 155.80 L382.91 156.50 L382.41 157.17 L381.91 157.81 L381.41 158.43 L380.91 159.00 L380.41 159.54 L379.91 160.05 L379.41 160.51 L378.91 160.94 L378.41 161.32 L377.90 161.65 L377.40 161.94 L376.90 162.18" stroke="#ff2828"/>
<path d="M330.10 162.18 L330.60 161.68 L331.10 161.18 L331.61 160.68 L332.11 160.18 L332.61 159.68 L333.12 159.18 L333.62 158.69 L334.12 158.20 L334.63 157.71 L335.13 157.22 L335.63 156.75 L336.14 156.28 L336.64 155.81 L337.14 155.36 L337.65 154.91 L338.15 154.47 L338.65 154.04 L339.16 153.63 L339.66 153.22 L340.16 152.83 L340.67 152.46 L341.17 152.09 L341.67 151.75 L342.18 151.41 L342.68 151.10 L343.18 150.80 L343.69 150.52 L344.19 150.26 L344.69 150.02 L345.20 149.80 L345.70 149.60 L346.20 149.43 L346.71 149.27 L347.21 149.13 L347.71 149.01 L348.22 148.91 L348.72 148.82 L349.22 148.74 L349.73 148.68 L350.23 148.63 L350.73 148.59 L351.24 148.56 L351.74 148.54 L352.24 148.52 L352.75 148.51 L353.25 148.51 L353.75 148.51 L354.25 148.51 L354.76 148.52 L355.26 148.54 L355.76 148.56 L356.27 148.59 L356.77 148.63 L357.27 148.68 L357.78 148.74 L358.28 148.82 L358.78 148.91 L359.29 149.01 L359.79 149.13 L360.29 149.27 L360.80 149.43 L361.30 149.60 L361.80 149.80 L362.31 150.02 L362.81 150.26 L363.31 150.52 L363.82 150.80 L364.32 151.10 L364.82 151.41 L365.33 151.75 L365.83 152.09 L366.33 152.46 L366.84 152.83 L367.34 153.22 L367.84 153.63 L368.35 154.04 L368.85 154.47 L369.35 154.91 L369.86 155.36 L370.36 155.81 L370.86 156.28 L371.37 156.75 L371.87 157.22 L372.37 157.71 L372.88 158.20 L373.38 158.69 L373.88 159.18 L374.39 159.68 L374.89 160.18 L375.39 160.68 L375.90 161.18 L376.40 161.68 L376.90 162.18" stroke="#ff2828"/>
<path d="M337.21 174.46 L337.71 174.05 L338.21 173.47 L338.71 172.73 L339.21 171.86 L339.72 170.87 L340.22 169.78 L340.72 168.61 L341.22 167.37 L341.72 166.10 L342.22 164.80 L342.72 163.49 L343.22 162.20 L343.73 160.94 L344.23 159.73 L344.73 158.58 L345.23 157.50 L345.73 156.49 L346.23 155.54 L346.73 154.65 L347.23 153.82 L347.74 153.05 L348.24 152.34 L348.74 151.68 L349.24 151.08 L349.74 150.54 L350.24 150.05 L350.74 149.63 L351.24 149.27 L351.75 148.97 L352.25 148.75 L352.75 148.60 L353.25 148.52 L353.75 148.52 L354.25 148.60 L354.75 148.75 L355.25 148.97 L355.76 149.27 L356.26 149.63 L356.76 150.05 L357.26 150.54 L357.76 151.08 L358.26 151.68 L358.76 152.34 L359.26 153.05 L359.77 153.82 L360.27 154.65 L360.77 155.54 L361.27 156.49 L361.77 157.50 L362.27 158.58 L362.77 159.73 L363.27 160.94 L363.78 162.20 L364.28 163.49 L364.78 164.80 L365.28 166.10 L365.78 167.37 L366.28 168.61 L366.78 169.78 L367.28 170.87 L367.79 171.86 L368.29 172.73 L368.79 173.47 L369.29 174.05 L369.79 174.46" stroke="#ff2828"/>
<path d="M263.00 129.69 L263.50 129.68 L264.00 129.66 L264.50 129.63 L265.00 129.59 L265.50 129.53 L266.00 129.46 L266.50 129.38 L267.00 129.29 L267.50 129.18 L268.00 129.07 L268.50 128.94 L269.00 128.80 L269.50 128.65 L270.00 128.49 L270.50 128.32 L271.00 128.14 L271.50 127.94 L272.00 127.74 L272.50 127.53 L273.00 127.31 L273.50 127.08 L274.00 126.84 L274.50 126.59 L275.00 126.34 L275.50 126.07 L276.00 125.80 L276.50 125.52 L277.00 125.23 L277.50 124.94 L278.00 124.63 L278.50 124.32 L279.00 124.01 L279.50 123.69 L280.00 123.37 L280.50 123.04 L281.00 122.71 L281.50 122.38 L282.00 122.05 L282.51 121.73 L283.01 121.40 L283.51 121.08 L284.01 120.77 L284.51 120.46 L285.01 120.15 L285.51 119.86 L286.01 119.57 L286.51 119.29 L287.01 119.02 L287.51 118.77 L288.01 118.52 L288.51 118.29 L289.01 118.08 L289.51 117.88 L290.01 117.70 L290.51 117.54 L291.01 117.39 L291.51 117.27 L292.01 117.16 L292.51 117.08 L293.01 117.02 L293.51 116.99 L294.01 116.97 L294.51 116.99 L295.01 117.03 L295.51 117.09 L296.01 117.18 L296.51 117.29 L297.01 117.43 L297.51 117.60 L298.01 117.79 L298.51 118.00 L299.01 118.25 L299.51 118.52 L300.01 118.81 L300.51 119.13 L301.01 119.48 L301.51 119.85 L302.01 120.26 L302.51 120.68 L303.01 121.14 L303.51 121.62 L304.01 122.13 L304.51 122.67 L305.01 123.24 L305.51 123.83 L306.01 124.45 L306.51 125.10 L307.01 125.78 L307.51 126.48 L308.01 127.20 L308.51 127.94 L309.01 128.69 L309.51 129.45 L310.01 130.22 L310.51 130.99 L311.01 131.76 L311.51 132.53 L312.01 133.30 L312.51 134.05 L313.01 134.79 L313.51 135.52 L314.01 136.24 L314.51 136.95 L315.01 137.65 L315.51 138.35 L316.01 139.06 L316.51 139.76 L317.01 140.47 L317.51 141.19 L318.01 141.91 L318.51 142.65 L319.01 143.41 L319.51 144.18 L320.01 144.97 L320.52 145.78 L321.02 146.60 L321.52 147.43 L322.02 148.28 L322.52 149.13 L323.02 150.00 L323.52 150.87 L324.02 151.75 L324.52 152.63 L325.02 153.51 L325.52 154.39 L326.02 155.28 L326.52 156.16 L327.02 157.03 L327.52 157.90 L328.02 158.75 L328.52 159.60 L329.02 160.43 L329.52 161.25 L330.02 162.05 L330.52 162.84 L331.02 163.60 L331.52 164.35 L332.02 165.08 L332.52 165.80 L333.02 166.50 L333.52 167.20 L334.02 167.88 L334.52 168.55 L335.02 169.22 L335.52 169.88 L336.02 170.54 L336.52 171.19 L337.02 171.85 L337.52 172.50 L338.02 173.15 L338.52 173.80 L339.02 174.46" stroke="#303030"/>
<path d="M444.00 129.69 L443.50 129.68 L443.00 129.66 L442.50 129.63 L442.00 129.59 L441.50 129.53 L441.00 129.46 L440.50 129.38 L440.00 129.29 L439.50 129.18 L439.00 129.07 L438.50 128.94 L438.00 128.80 L437.50 128.65 L437.00 128.49 L436.50 128.32 L436.00 128.14 L435.50 127.94 L435.00 127.74 L434.50 127.53 L434.00 127.31 L433.50 127.08 L433.00 126.84 L432.50 126.59 L432.00 126.34 L431.50 126.07 L431.00 125.80 L430.50 125.52 L430.00 125.23 L429.50 124.94 L429.00 124.63 L428.50 124.32 L428.00 124.01 L427.50 123.69 L427.00 123.37 L426.50 123.04 L426.00 122.71 L425.50 122.38 L425.00 122.05 L424.49 121.73 L423.99 121.40 L423.49 121.08 L422.99 120.77 L422.49 120.46 L421.99 120.15 L421.49 119.86 L420.99 119.57 L420.49 119.29 L419.99 119.02 L419.49 118.77 L418.99 118.52 L418.49 118.29 L417.99 118.08 L417.49 117.88 L416.99 117.70 L416.49 117.54 L415.99 117.39 L415.49 117.27 L414.99 117.16 L414.49 117.08 L413.99 117.02 L413.49 116.99 L412.99 116.97 L412.49 116.99 L411.99 117.03 L411.49 117.09 L410.99 117.18 L410.49 117.29 L409.99 117.43 L409.49 117.60 L408.99 117.79 L408.49 118.00 L407.99 118.25 L407.49 118.52 L406.99 118.81 L406.49 119.13 L405.99 119.48 L405.49 119.85 L404.99 120.26 L404.49 120.68 L403.99 121.14 L403.49 121.62 L402.99 122.13 L402.49 122.67 L401.99 123.24 L401.49 123.83 L400.99 124.45 L400.49 125.10 L399.99 125.78 L399.49 126.48 L398.99 127.20 L398.49 127.94 L397.99 128.69 L397.49 129.45 L396.99 130.22 L396.49 130.99 L395.99 131.76 L395.49 132.53 L394.99 133.30 L394.49 134.05 L393.99 134.79 L393.49 135.52 L392.99 136.24 L392.49 136.95 L391.99 137.65 L391.49 138.35 L390.99 139.06 L390.49 139.76 L389.99 140.47 L389.49 141.19 L388.99 141.91 L388.49 142.65 L387.99 143.41 L387.49 144.18 L386.99 144.97 L386.48 145.78 L385.98 146.60 L385.48 147.43 L384.98 148.28 L384.48 149.13 L383.98 150.00 L383.48 150.87 L382.98 151.75 L382.48 152.63 L381.98 153.51 L381.48 154.39 L380.98 155.28 L380.48 156.16 L379.98 157.03 L379.48 157.90 L378.98 158.75 L378.48 159.60 L377.98 160.43 L377.48 161.25 L376.98 162.05 L376.48 162.84 L375.98 163.60 L375.48 164.35 L374.98 165.08 L374.48 165.80 L373.98 166.50 L373.48 167.20 L372.98 167.88 L372.48 168.55 L371.98 169.22 L371.48 169.88 L370.98 170.54 L370.48 171.19 L369.98 171.85 L369.48 172.50 L368.98 173.15 L368.48 173.80 L367.98 174.46" stroke="#303030"/>
</g>

<rect x="263" y="12" width="181" height="158.5" fill="none" stroke="#7a7a7a" stroke-width="1"/>
<line x1="263" y1="51.62" x2="265.5" y2="51.62" stroke="#666" stroke-width="0.8"/>
<line x1="263" y1="91.25" x2="265.5" y2="91.25" stroke="#666" stroke-width="0.8"/>
<line x1="263" y1="130.88" x2="265.5" y2="130.88" stroke="#666" stroke-width="0.8"/>
<text x="258.00" y="15.20" text-anchor="end" font-size="9.5">2</text>
<text x="258.00" y="54.83" text-anchor="end" font-size="9.5">1</text>
<text x="258.00" y="94.45" text-anchor="end" font-size="9.5">0</text>
<text x="258.00" y="134.08" text-anchor="end" font-size="9.5">−1</text>
<text x="258.00" y="173.70" text-anchor="end" font-size="9.5">−2</text>
<text x="263.50" y="183.50" text-anchor="middle" font-size="10">M</text>
<text x="293.67" y="183.50" text-anchor="middle" font-size="10">K+</text>
<text x="354.00" y="183.50" text-anchor="middle" font-size="10">Γ</text>
<text x="414.33" y="183.50" text-anchor="middle" font-size="10">K-</text>
<text x="444.50" y="183.50" text-anchor="middle" font-size="10">M</text>
<text transform="translate(240.90,90.90) rotate(-90)" text-anchor="middle" font-size="13.8">Engrgy (eV)</text>
<text x="235.50" y="12.60" font-size="14.5">(b)</text>
<clipPath id="clipc"><rect x="497.5" y="13" width="181.0" height="158.5"/></clipPath>
<line x1="527.67" y1="13" x2="527.67" y2="171.5" stroke="#f084b0" stroke-width="0.95" stroke-dasharray="1.6 1.7"/>
<line x1="588.00" y1="13" x2="588.00" y2="171.5" stroke="#f084b0" stroke-width="0.95" stroke-dasharray="1.6 1.7"/>
<line x1="648.33" y1="13" x2="648.33" y2="171.5" stroke="#f084b0" stroke-width="0.95" stroke-dasharray="1.6 1.7"/>
<line x1="497.5" y1="92.25" x2="678.5" y2="92.25" stroke="#8c8c8c" stroke-width="0.85" stroke-dasharray="1.6 1.7"/>
<g clip-path="url(#clipc)" fill="none" stroke-width="1.15" stroke-linecap="round" stroke-linejoin="round">
<path d="M497.50 54.61 L498.00 54.60 L498.50 54.57 L499.00 54.50 L499.50 54.40 L500.00 54.27 L500.50 54.11 L501.00 53.92 L501.50 53.71 L502.00 53.47 L502.50 53.21 L503.00 52.92 L503.50 52.61 L504.00 52.28 L504.50 51.92 L505.00 51.55 L505.50 51.16 L506.00 50.74 L506.50 50.32 L507.00 49.87 L507.50 49.42 L508.00 48.94 L508.50 48.46 L509.00 47.96 L509.50 47.45 L510.00 46.94 L510.50 46.41 L511.00 45.88 L511.50 45.33 L512.00 44.79 L512.50 44.23 L513.00 43.68 L513.50 43.12 L514.00 42.56 L514.50 42.00 L515.00 41.45 L515.50 40.89 L516.00 40.35 L516.50 39.81 L517.00 39.28 L517.50 38.76 L518.00 38.26 L518.50 37.77 L519.00 37.29 L519.50 36.84 L520.00 36.40 L520.50 35.99 L521.00 35.60 L521.50 35.23 L522.00 34.89 L522.50 34.57 L523.00 34.29 L523.50 34.04 L524.00 33.82 L524.50 33.64 L525.00 33.49 L525.50 33.39 L526.00 33.32 L526.50 33.29 L527.00 33.31 L527.50 33.37 L528.00 33.48 L528.50 33.64 L529.00 33.83 L529.50 34.05 L530.00 34.29 L530.50 34.56 L531.00 34.83 L531.50 35.11 L532.00 35.39 L532.50 35.66 L533.00 35.91 L533.50 36.15 L534.00 36.35 L534.50 36.53 L535.00 36.66 L535.50 36.75 L536.00 36.78 L536.50 36.76 L537.00 36.67 L537.50 36.53 L538.00 36.34 L538.50 36.10 L539.00 35.81 L539.50 35.49 L540.00 35.14 L540.50 34.76 L541.00 34.35 L541.50 33.93 L542.00 33.49 L542.50 33.04 L543.00 32.59 L543.50 32.13 L544.00 31.67 L544.50 31.22 L545.00 30.76 L545.50 30.31 L546.00 29.86 L546.50 29.41 L547.00 28.97 L547.50 28.53 L548.00 28.09 L548.50 27.67 L549.00 27.25 L549.50 26.84 L550.00 26.45 L550.50 26.08 L551.00 25.74 L551.50 25.43 L552.00 25.15 L552.50 24.91 L553.00 24.71 L553.50 24.57 L554.00 24.47 L554.50 24.44 L555.00 24.46 L555.50 24.56 L556.00 24.73 L556.50 25.00 L557.00 25.39 L557.50 25.92 L558.00 26.60 L558.50 27.46 L559.00 28.50 L559.50 29.72 L560.00 31.07 L560.50 32.52 L561.00 34.02 L561.50 35.56 L562.00 37.08 L562.50 38.56 L563.00 40.01 L563.50 41.42 L564.00 42.79 L564.50 44.13 L565.00 45.44 L565.50 46.72 L566.00 47.97 L566.50 49.20 L567.00 50.40 L567.50 51.58 L568.00 52.74 L568.50 53.88 L569.00 55.01 L569.50 56.12 L570.00 57.22 L570.50 58.31 L571.00 59.38 L571.50 60.46 L572.00 61.52 L572.50 62.56 L573.00 63.59 L573.50 64.61 L574.00 65.60 L574.50 66.58 L575.00 67.53 L575.50 68.45 L576.00 69.34 L576.50 70.21 L577.00 71.04 L577.50 71.83 L578.00 72.59 L578.50 73.30 L579.00 73.98 L579.50 74.61 L580.00 75.19 L580.50 75.73 L581.00 76.22 L581.50 76.67 L582.00 77.07 L582.50 77.44 L583.00 77.76 L583.50 78.05 L584.00 78.30 L584.50 78.52 L585.00 78.70 L585.50 78.85 L586.00 78.97 L586.50 79.06 L587.00 79.13 L587.50 79.16 L588.00 79.17 L588.50 79.16 L589.00 79.13 L589.50 79.06 L590.00 78.97 L590.50 78.85 L591.00 78.70 L591.50 78.52 L592.00 78.30 L592.50 78.05 L593.00 77.76 L593.50 77.44 L594.00 77.07 L594.50 76.67 L595.00 76.22 L595.50 75.73 L596.00 75.19 L596.50 74.61 L597.00 73.98 L597.50 73.30 L598.00 72.59 L598.50 71.83 L599.00 71.04 L599.50 70.21 L600.00 69.34 L600.50 68.45 L601.00 67.53 L601.50 66.58 L602.00 65.60 L602.50 64.61 L603.00 63.59 L603.50 62.56 L604.00 61.52 L604.50 60.46 L605.00 59.38 L605.50 58.31 L606.00 57.22 L606.50 56.12 L607.00 55.01 L607.50 53.88 L608.00 52.74 L608.50 51.58 L609.00 50.40 L609.50 49.20 L610.00 47.97 L610.50 46.72 L611.00 45.44 L611.50 44.13 L612.00 42.79 L612.50 41.42 L613.00 40.01 L613.50 38.56 L614.00 37.08 L614.50 35.56 L615.00 34.02 L615.50 32.52 L616.00 31.07 L616.50 29.72 L617.00 28.50 L617.50 27.46 L618.00 26.60 L618.50 25.92 L619.00 25.39 L619.50 25.00 L620.00 24.73 L620.50 24.56 L621.00 24.46 L621.50 24.44 L622.00 24.47 L622.50 24.57 L623.00 24.71 L623.50 24.91 L624.00 25.15 L624.50 25.43 L625.00 25.74 L625.50 26.08 L626.00 26.45 L626.50 26.84 L627.00 27.25 L627.50 27.67 L628.00 28.09 L628.50 28.53 L629.00 28.97 L629.50 29.41 L630.00 29.86 L630.50 30.31 L631.00 30.76 L631.50 31.22 L632.00 31.67 L632.50 32.13 L633.00 32.59 L633.50 33.04 L634.00 33.49 L634.50 33.93 L635.00 34.35 L635.50 34.76 L636.00 35.14 L636.50 35.49 L637.00 35.81 L637.50 36.10 L638.00 36.34 L638.50 36.53 L639.00 36.67 L639.50 36.76 L640.00 36.78 L640.50 36.75 L641.00 36.66 L641.50 36.53 L642.00 36.35 L642.50 36.15 L643.00 35.91 L643.50 35.66 L644.00 35.39 L644.50 35.11 L645.00 34.83 L645.50 34.56 L646.00 34.29 L646.50 34.05 L647.00 33.83 L647.50 33.64 L648.00 33.48 L648.50 33.37 L649.00 33.31 L649.50 33.29 L650.00 33.32 L650.50 33.39 L651.00 33.49 L651.50 33.64 L652.00 33.82 L652.50 34.04 L653.00 34.29 L653.50 34.57 L654.00 34.89 L654.50 35.23 L655.00 35.60 L655.50 35.99 L656.00 36.40 L656.50 36.84 L657.00 37.29 L657.50 37.77 L658.00 38.26 L658.50 38.76 L659.00 39.28 L659.50 39.81 L660.00 40.35 L660.50 40.89 L661.00 41.45 L661.50 42.00 L662.00 42.56 L662.50 43.12 L663.00 43.68 L663.50 44.23 L664.00 44.79 L664.50 45.33 L665.00 45.88 L665.50 46.41 L666.00 46.94 L666.50 47.45 L667.00 47.96 L667.50 48.46 L668.00 48.94 L668.50 49.42 L669.00 49.87 L669.50 50.32 L670.00 50.74 L670.50 51.16 L671.00 51.55 L671.50 51.92 L672.00 52.28 L672.50 52.61 L673.00 52.92 L673.50 53.21 L674.00 53.47 L674.50 53.71 L675.00 53.92 L675.50 54.11 L676.00 54.27 L676.50 54.40 L677.00 54.50 L677.50 54.57 L678.00 54.60 L678.50 54.61" stroke="#303030"/>
<path d="M497.50 61.34 L498.00 61.33 L498.50 61.28 L499.00 61.20 L499.50 61.08 L500.00 60.92 L500.50 60.73 L501.00 60.51 L501.50 60.26 L502.00 59.98 L502.50 59.68 L503.00 59.35 L503.50 58.99 L504.00 58.61 L504.50 58.21 L505.00 57.78 L505.50 57.34 L506.00 56.88 L506.50 56.40 L507.00 55.90 L507.50 55.39 L508.00 54.87 L508.50 54.34 L509.00 53.79 L509.50 53.24 L510.00 52.68 L510.50 52.11 L511.00 51.54 L511.50 50.96 L512.00 50.38 L512.50 49.80 L513.00 49.22 L513.50 48.64 L514.00 48.06 L514.50 47.48 L515.00 46.92 L515.50 46.35 L516.00 45.80 L516.50 45.25 L517.00 44.72 L517.50 44.19 L518.00 43.68 L518.50 43.18 L519.00 42.69 L519.50 42.23 L520.00 41.78 L520.50 41.35 L521.00 40.93 L521.50 40.54 L522.00 40.18 L522.50 39.83 L523.00 39.51 L523.50 39.22 L524.00 38.95 L524.50 38.72 L525.00 38.51 L525.50 38.33 L526.00 38.19 L526.50 38.08 L527.00 38.01 L527.50 37.97 L528.00 37.97 L528.50 38.00 L529.00 38.07 L529.50 38.16 L530.00 38.28 L530.50 38.41 L531.00 38.56 L531.50 38.72 L532.00 38.89 L532.50 39.07 L533.00 39.24 L533.50 39.41 L534.00 39.57 L534.50 39.72 L535.00 39.86 L535.50 39.97 L536.00 40.06 L536.50 40.12 L537.00 40.16 L537.50 40.16 L538.00 40.14 L538.50 40.09 L539.00 40.02 L539.50 39.93 L540.00 39.81 L540.50 39.67 L541.00 39.52 L541.50 39.35 L542.00 39.16 L542.50 38.96 L543.00 38.75 L543.50 38.53 L544.00 38.29 L544.50 38.05 L545.00 37.80 L545.50 37.55 L546.00 37.29 L546.50 37.03 L547.00 36.78 L547.50 36.53 L548.00 36.29 L548.50 36.07 L549.00 35.86 L549.50 35.67 L550.00 35.51 L550.50 35.38 L551.00 35.28 L551.50 35.22 L552.00 35.19 L552.50 35.21 L553.00 35.27 L553.50 35.38 L554.00 35.55 L554.50 35.77 L555.00 36.05 L555.50 36.39 L556.00 36.78 L556.50 37.23 L557.00 37.74 L557.50 38.31 L558.00 38.93 L558.50 39.60 L559.00 40.34 L559.50 41.13 L560.00 41.97 L560.50 42.87 L561.00 43.83 L561.50 44.84 L562.00 45.91 L562.50 47.03 L563.00 48.20 L563.50 49.41 L564.00 50.65 L564.50 51.93 L565.00 53.22 L565.50 54.54 L566.00 55.87 L566.50 57.21 L567.00 58.54 L567.50 59.87 L568.00 61.19 L568.50 62.49 L569.00 63.76 L569.50 65.01 L570.00 66.22 L570.50 67.39 L571.00 68.51 L571.50 69.58 L572.00 70.60 L572.50 71.58 L573.00 72.51 L573.50 73.39 L574.00 74.24 L574.50 75.04 L575.00 75.80 L575.50 76.53 L576.00 77.22 L576.50 77.88 L577.00 78.50 L577.50 79.09 L578.00 79.66 L578.50 80.19 L579.00 80.70 L579.50 81.19 L580.00 81.65 L580.50 82.09 L581.00 82.51 L581.50 82.90 L582.00 83.27 L582.50 83.62 L583.00 83.93 L583.50 84.22 L584.00 84.49 L584.50 84.72 L585.00 84.93 L585.50 85.10 L586.00 85.25 L586.50 85.36 L587.00 85.45 L587.50 85.50 L588.00 85.51 L588.50 85.50 L589.00 85.45 L589.50 85.36 L590.00 85.25 L590.50 85.10 L591.00 84.93 L591.50 84.72 L592.00 84.49 L592.50 84.22 L593.00 83.93 L593.50 83.62 L594.00 83.27 L594.50 82.90 L595.00 82.51 L595.50 82.09 L596.00 81.65 L596.50 81.19 L597.00 80.70 L597.50 80.19 L598.00 79.66 L598.50 79.09 L599.00 78.50 L599.50 77.88 L600.00 77.22 L600.50 76.53 L601.00 75.80 L601.50 75.04 L602.00 74.24 L602.50 73.39 L603.00 72.51 L603.50 71.58 L604.00 70.60 L604.50 69.58 L605.00 68.51 L605.50 67.39 L606.00 66.22 L606.50 65.01 L607.00 63.76 L607.50 62.49 L608.00 61.19 L608.50 59.87 L609.00 58.54 L609.50 57.21 L610.00 55.87 L610.50 54.54 L611.00 53.22 L611.50 51.93 L612.00 50.65 L612.50 49.41 L613.00 48.20 L613.50 47.03 L614.00 45.91 L614.50 44.84 L615.00 43.83 L615.50 42.87 L616.00 41.97 L616.50 41.13 L617.00 40.34 L617.50 39.60 L618.00 38.93 L618.50 38.31 L619.00 37.74 L619.50 37.23 L620.00 36.78 L620.50 36.39 L621.00 36.05 L621.50 35.77 L622.00 35.55 L622.50 35.38 L623.00 35.27 L623.50 35.21 L624.00 35.19 L624.50 35.22 L625.00 35.28 L625.50 35.38 L626.00 35.51 L626.50 35.67 L627.00 35.86 L627.50 36.07 L628.00 36.29 L628.50 36.53 L629.00 36.78 L629.50 37.03 L630.00 37.29 L630.50 37.55 L631.00 37.80 L631.50 38.05 L632.00 38.29 L632.50 38.53 L633.00 38.75 L633.50 38.96 L634.00 39.16 L634.50 39.35 L635.00 39.52 L635.50 39.67 L636.00 39.81 L636.50 39.93 L637.00 40.02 L637.50 40.09 L638.00 40.14 L638.50 40.16 L639.00 40.16 L639.50 40.12 L640.00 40.06 L640.50 39.97 L641.00 39.86 L641.50 39.72 L642.00 39.57 L642.50 39.41 L643.00 39.24 L643.50 39.07 L644.00 38.89 L644.50 38.72 L645.00 38.56 L645.50 38.41 L646.00 38.28 L646.50 38.16 L647.00 38.07 L647.50 38.00 L648.00 37.97 L648.50 37.97 L649.00 38.01 L649.50 38.08 L650.00 38.19 L650.50 38.33 L651.00 38.51 L651.50 38.72 L652.00 38.95 L652.50 39.22 L653.00 39.51 L653.50 39.83 L654.00 40.18 L654.50 40.54 L655.00 40.93 L655.50 41.35 L656.00 41.78 L656.50 42.23 L657.00 42.69 L657.50 43.18 L658.00 43.68 L658.50 44.19 L659.00 44.72 L659.50 45.25 L660.00 45.80 L660.50 46.35 L661.00 46.92 L661.50 47.48 L662.00 48.06 L662.50 48.64 L663.00 49.22 L663.50 49.80 L664.00 50.38 L664.50 50.96 L665.00 51.54 L665.50 52.11 L666.00 52.68 L666.50 53.24 L667.00 53.79 L667.50 54.34 L668.00 54.87 L668.50 55.39 L669.00 55.90 L669.50 56.40 L670.00 56.88 L670.50 57.34 L671.00 57.78 L671.50 58.21 L672.00 58.61 L672.50 58.99 L673.00 59.35 L673.50 59.68 L674.00 59.98 L674.50 60.26 L675.00 60.51 L675.50 60.73 L676.00 60.92 L676.50 61.08 L677.00 61.20 L677.50 61.28 L678.00 61.33 L678.50 61.34" stroke="#ff2828"/>
<path d="M510.17 7.06 L510.67 7.78 L511.18 8.48 L511.68 9.14 L512.18 9.78 L512.68 10.38 L513.19 10.96 L513.69 11.51 L514.19 12.04 L514.70 12.54 L515.20 13.02 L515.70 13.48 L516.20 13.92 L516.71 14.33 L517.21 14.73 L517.71 15.12 L518.21 15.48 L518.72 15.83 L519.22 16.17 L519.72 16.49 L520.23 16.81 L520.73 17.11 L521.23 17.41 L521.73 17.70 L522.24 17.98 L522.74 18.27 L523.24 18.55 L523.75 18.83 L524.25 19.11 L524.75 19.40 L525.25 19.68 L525.76 19.95 L526.26 20.19 L526.76 20.38 L527.26 20.49 L527.77 20.53 L528.27 20.47 L528.77 20.32 L529.28 20.11 L529.78 19.85 L530.28 19.56 L530.78 19.24 L531.29 18.90 L531.79 18.55 L532.29 18.19 L532.79 17.80 L533.30 17.38 L533.80 16.94 L534.30 16.47 L534.81 15.96 L535.31 15.42 L535.81 14.85 L536.31 14.25 L536.82 13.63 L537.32 13.00 L537.82 12.34 L538.33 11.68 L538.83 11.01 L539.33 10.33 L539.83 9.66 L540.34 8.99 L540.84 8.33 L541.34 7.69 L541.85 7.06" stroke="#303030"/>
<path d="M665.83 7.06 L665.33 7.78 L664.82 8.48 L664.32 9.14 L663.82 9.78 L663.32 10.38 L662.81 10.96 L662.31 11.51 L661.81 12.04 L661.30 12.54 L660.80 13.02 L660.30 13.48 L659.80 13.92 L659.29 14.33 L658.79 14.73 L658.29 15.12 L657.79 15.48 L657.28 15.83 L656.78 16.17 L656.28 16.49 L655.77 16.81 L655.27 17.11 L654.77 17.41 L654.27 17.70 L653.76 17.98 L653.26 18.27 L652.76 18.55 L652.25 18.83 L651.75 19.11 L651.25 19.40 L650.75 19.68 L650.24 19.95 L649.74 20.19 L649.24 20.38 L648.74 20.49 L648.23 20.53 L647.73 20.47 L647.23 20.32 L646.72 20.11 L646.22 19.85 L645.72 19.56 L645.22 19.24 L644.71 18.90 L644.21 18.55 L643.71 18.19 L643.21 17.80 L642.70 17.38 L642.20 16.94 L641.70 16.47 L641.19 15.96 L640.69 15.42 L640.19 14.85 L639.69 14.25 L639.18 13.63 L638.68 13.00 L638.18 12.34 L637.67 11.68 L637.17 11.01 L636.67 10.33 L636.17 9.66 L635.66 8.99 L635.16 8.33 L634.66 7.69 L634.15 7.06" stroke="#303030"/>
<path d="M553.61 9.04 L554.12 10.14 L554.62 11.38 L555.13 12.70 L555.63 14.02 L556.14 15.28 L556.64 16.42 L557.15 17.36 L557.65 18.03 L558.16 18.39 L558.66 18.46 L559.17 18.30 L559.67 17.97 L560.18 17.55 L560.68 17.11 L561.19 16.69 L561.69 16.34 L562.20 16.03 L562.70 15.77 L563.21 15.55 L563.71 15.36 L564.22 15.20 L564.72 15.05 L565.23 14.93 L565.73 14.82 L566.24 14.71 L566.74 14.61 L567.25 14.51 L567.75 14.41 L568.26 14.31 L568.76 14.21 L569.27 14.09 L569.77 13.97 L570.28 13.83 L570.78 13.67 L571.29 13.49 L571.79 13.29 L572.30 13.06 L572.80 12.81 L573.31 12.53 L573.81 12.21 L574.32 11.85 L574.82 11.46 L575.33 11.02" stroke="#303030"/>
<path d="M622.39 9.04 L621.88 10.14 L621.38 11.38 L620.87 12.70 L620.37 14.02 L619.86 15.28 L619.36 16.42 L618.85 17.36 L618.35 18.03 L617.84 18.39 L617.34 18.46 L616.83 18.30 L616.33 17.97 L615.82 17.55 L615.32 17.11 L614.81 16.69 L614.31 16.34 L613.80 16.03 L613.30 15.77 L612.79 15.55 L612.29 15.36 L611.78 15.20 L611.28 15.05 L610.77 14.93 L610.27 14.82 L609.76 14.71 L609.26 14.61 L608.75 14.51 L608.25 14.41 L607.74 14.31 L607.24 14.21 L606.73 14.09 L606.23 13.97 L605.72 13.83 L605.22 13.67 L604.71 13.49 L604.21 13.29 L603.70 13.06 L603.20 12.81 L602.69 12.53 L602.19 12.21 L601.68 11.85 L601.18 11.46 L600.67 11.02" stroke="#303030"/>
<path d="M577.14 10.62 L577.65 11.00 L578.15 11.36 L578.66 11.71 L579.16 12.04 L579.67 12.36 L580.17 12.67 L580.68 12.95 L581.18 13.23 L581.69 13.48 L582.19 13.72 L582.70 13.94 L583.20 14.14 L583.71 14.33 L584.21 14.50 L584.72 14.64 L585.22 14.77 L585.73 14.88 L586.23 14.96 L586.74 15.03 L587.24 15.07 L587.75 15.10 L588.25 15.10 L588.76 15.07 L589.26 15.03 L589.77 14.96 L590.27 14.88 L590.78 14.77 L591.28 14.64 L591.79 14.50 L592.29 14.33 L592.80 14.14 L593.30 13.94 L593.81 13.72 L594.31 13.48 L594.82 13.23 L595.32 12.95 L595.83 12.67 L596.33 12.36 L596.84 12.04 L597.34 11.71 L597.85 11.36 L598.35 11.00 L598.86 10.62" stroke="#303030"/>
<path d="M497.50 19.50 L498.02 19.48 L498.53 19.42 L499.05 19.32 L499.57 19.18 L500.09 19.00 L500.60 18.80 L501.12 18.56 L501.64 18.28 L502.15 17.99 L502.67 17.66 L503.19 17.31 L503.71 16.93 L504.22 16.53 L504.74 16.11 L505.26 15.67 L505.77 15.22 L506.29 14.75 L506.81 14.26 L507.33 13.77 L507.84 13.26 L508.36 12.75 L508.88 12.22 L509.39 11.70 L509.91 11.17 L510.43 10.63 L510.95 10.10 L511.46 9.57 L511.98 9.04" stroke="#ff2828"/>
<path d="M678.50 19.50 L677.98 19.48 L677.47 19.42 L676.95 19.32 L676.43 19.18 L675.91 19.00 L675.40 18.80 L674.88 18.56 L674.36 18.28 L673.85 17.99 L673.33 17.66 L672.81 17.31 L672.29 16.93 L671.78 16.53 L671.26 16.11 L670.74 15.67 L670.23 15.22 L669.71 14.75 L669.19 14.26 L668.67 13.77 L668.16 13.26 L667.64 12.75 L667.12 12.22 L666.61 11.70 L666.09 11.17 L665.57 10.63 L665.05 10.10 L664.54 9.57 L664.02 9.04" stroke="#ff2828"/>
<path d="M551.80 9.04 L552.30 9.41 L552.81 9.85 L553.31 10.33 L553.81 10.86 L554.31 11.43 L554.82 12.03 L555.32 12.65 L555.82 13.28 L556.33 13.92 L556.83 14.56 L557.33 15.19 L557.83 15.80 L558.34 16.40 L558.84 16.96 L559.34 17.48 L559.84 17.96 L560.35 18.40 L560.85 18.81 L561.35 19.18 L561.86 19.52 L562.36 19.83 L562.86 20.13 L563.36 20.40 L563.87 20.65 L564.37 20.89 L564.87 21.12 L565.38 21.34 L565.88 21.56 L566.38 21.78 L566.88 22.00 L567.39 22.22 L567.89 22.46 L568.39 22.70 L568.89 22.96 L569.40 23.23 L569.90 23.51 L570.40 23.80 L570.91 24.10 L571.41 24.41 L571.91 24.72 L572.41 25.04 L572.92 25.36 L573.42 25.69 L573.92 26.02 L574.42 26.35 L574.93 26.69 L575.43 27.02 L575.93 27.36 L576.44 27.69 L576.94 28.02 L577.44 28.35 L577.94 28.67 L578.45 28.99 L578.95 29.30 L579.45 29.61 L579.96 29.90 L580.46 30.19 L580.96 30.47 L581.46 30.73 L581.97 30.98 L582.47 31.22 L582.97 31.44 L583.48 31.65 L583.98 31.84 L584.48 32.01 L584.98 32.17 L585.49 32.30 L585.99 32.41 L586.49 32.50 L586.99 32.56 L587.50 32.60 L588.00 32.61 L588.50 32.60 L589.01 32.56 L589.51 32.50 L590.01 32.41 L590.51 32.30 L591.02 32.17 L591.52 32.01 L592.02 31.84 L592.52 31.65 L593.03 31.44 L593.53 31.22 L594.03 30.98 L594.54 30.73 L595.04 30.47 L595.54 30.19 L596.04 29.90 L596.55 29.61 L597.05 29.30 L597.55 28.99 L598.06 28.67 L598.56 28.35 L599.06 28.02 L599.56 27.69 L600.07 27.36 L600.57 27.02 L601.07 26.69 L601.58 26.35 L602.08 26.02 L602.58 25.69 L603.08 25.36 L603.59 25.04 L604.09 24.72 L604.59 24.41 L605.09 24.10 L605.60 23.80 L606.10 23.51 L606.60 23.23 L607.11 22.96 L607.61 22.70 L608.11 22.46 L608.61 22.22 L609.12 22.00 L609.62 21.78 L610.12 21.56 L610.62 21.34 L611.13 21.12 L611.63 20.89 L612.13 20.65 L612.64 20.40 L613.14 20.13 L613.64 19.83 L614.14 19.52 L614.65 19.18 L615.15 18.81 L615.65 18.40 L616.16 17.96 L616.66 17.48 L617.16 16.96 L617.66 16.40 L618.17 15.80 L618.67 15.19 L619.17 14.56 L619.67 13.92 L620.18 13.28 L620.68 12.65 L621.18 12.03 L621.69 11.43 L622.19 10.86 L622.69 10.33 L623.19 9.85 L623.70 9.41 L624.20 9.04" stroke="#ff2828"/>
<path d="M497.50 120.58 L498.00 120.58 L498.50 120.56 L499.01 120.52 L499.51 120.48 L500.01 120.41 L500.51 120.33 L501.01 120.24 L501.52 120.13 L502.02 120.00 L502.52 119.86 L503.02 119.70 L503.52 119.52 L504.03 119.32 L504.53 119.11 L505.03 118.88 L505.53 118.63 L506.03 118.36 L506.54 118.07 L507.04 117.76 L507.54 117.43 L508.04 117.09 L508.54 116.72 L509.05 116.35 L509.55 115.95 L510.05 115.55 L510.55 115.13 L511.06 114.71 L511.56 114.28 L512.06 113.85 L512.56 113.41 L513.06 112.97 L513.57 112.53 L514.07 112.09 L514.57 111.66 L515.07 111.23 L515.57 110.81 L516.08 110.40 L516.58 109.99 L517.08 109.60 L517.58 109.23 L518.08 108.87 L518.59 108.53 L519.09 108.20 L519.59 107.89 L520.09 107.59 L520.59 107.31 L521.10 107.05 L521.60 106.81 L522.10 106.58 L522.60 106.38 L523.10 106.19 L523.61 106.01 L524.11 105.86 L524.61 105.73 L525.11 105.61 L525.61 105.52 L526.12 105.44 L526.62 105.38 L527.12 105.34 L527.62 105.33 L528.12 105.33 L528.63 105.36 L529.13 105.41 L529.63 105.48 L530.13 105.58 L530.63 105.72 L531.14 105.88 L531.64 106.07 L532.14 106.31 L532.64 106.57 L533.15 106.88 L533.65 107.22 L534.15 107.61 L534.65 108.04 L535.15 108.52 L535.66 109.05 L536.16 109.62 L536.66 110.24 L537.16 110.91 L537.66 111.63 L538.17 112.39 L538.67 113.19 L539.17 114.02 L539.67 114.90 L540.17 115.81 L540.68 116.75 L541.18 117.73 L541.68 118.73 L542.18 119.76 L542.68 120.82 L543.19 121.90 L543.69 123.00 L544.19 124.12 L544.69 125.26 L545.19 126.41 L545.70 127.57 L546.20 128.73 L546.70 129.91 L547.20 131.09 L547.70 132.27 L548.21 133.45 L548.71 134.63 L549.21 135.80 L549.71 136.96 L550.21 138.12 L550.72 139.26 L551.22 140.39 L551.72 141.52 L552.22 142.65 L552.72 143.77 L553.23 144.90 L553.73 146.03 L554.23 147.17 L554.73 148.33 L555.24 149.50 L555.74 150.69 L556.24 151.90 L556.74 153.13 L557.24 154.38 L557.75 155.66 L558.25 156.95 L558.75 158.26 L559.25 159.57 L559.75 160.90 L560.26 162.23 L560.76 163.56 L561.26 164.89 L561.76 166.21 L562.26 167.53 L562.77 168.84 L563.27 170.13 L563.77 171.41 L564.27 172.67 L564.77 173.90 L565.28 175.11 L565.78 176.29 L566.28 177.44" stroke="#303030"/>
<path d="M678.50 120.58 L678.00 120.58 L677.50 120.56 L676.99 120.52 L676.49 120.48 L675.99 120.41 L675.49 120.33 L674.99 120.24 L674.48 120.13 L673.98 120.00 L673.48 119.86 L672.98 119.70 L672.48 119.52 L671.97 119.32 L671.47 119.11 L670.97 118.88 L670.47 118.63 L669.97 118.36 L669.46 118.07 L668.96 117.76 L668.46 117.43 L667.96 117.09 L667.46 116.72 L666.95 116.35 L666.45 115.95 L665.95 115.55 L665.45 115.13 L664.94 114.71 L664.44 114.28 L663.94 113.85 L663.44 113.41 L662.94 112.97 L662.43 112.53 L661.93 112.09 L661.43 111.66 L660.93 111.23 L660.43 110.81 L659.92 110.40 L659.42 109.99 L658.92 109.60 L658.42 109.23 L657.92 108.87 L657.41 108.53 L656.91 108.20 L656.41 107.89 L655.91 107.59 L655.41 107.31 L654.90 107.05 L654.40 106.81 L653.90 106.58 L653.40 106.38 L652.90 106.19 L652.39 106.01 L651.89 105.86 L651.39 105.73 L650.89 105.61 L650.39 105.52 L649.88 105.44 L649.38 105.38 L648.88 105.34 L648.38 105.33 L647.88 105.33 L647.37 105.36 L646.87 105.41 L646.37 105.48 L645.87 105.58 L645.37 105.72 L644.86 105.88 L644.36 106.07 L643.86 106.31 L643.36 106.57 L642.85 106.88 L642.35 107.22 L641.85 107.61 L641.35 108.04 L640.85 108.52 L640.34 109.05 L639.84 109.62 L639.34 110.24 L638.84 110.91 L638.34 111.63 L637.83 112.39 L637.33 113.19 L636.83 114.02 L636.33 114.90 L635.83 115.81 L635.32 116.75 L634.82 117.73 L634.32 118.73 L633.82 119.76 L633.32 120.82 L632.81 121.90 L632.31 123.00 L631.81 124.12 L631.31 125.26 L630.81 126.41 L630.30 127.57 L629.80 128.73 L629.30 129.91 L628.80 131.09 L628.30 132.27 L627.79 133.45 L627.29 134.63 L626.79 135.80 L626.29 136.96 L625.79 138.12 L625.28 139.26 L624.78 140.39 L624.28 141.52 L623.78 142.65 L623.28 143.77 L622.77 144.90 L622.27 146.03 L621.77 147.17 L621.27 148.33 L620.76 149.50 L620.26 150.69 L619.76 151.90 L619.26 153.13 L618.76 154.38 L618.25 155.66 L617.75 156.95 L617.25 158.26 L616.75 159.57 L616.25 160.90 L615.74 162.23 L615.24 163.56 L614.74 164.89 L614.24 166.21 L613.74 167.53 L613.23 168.84 L612.73 170.13 L612.23 171.41 L611.73 172.67 L611.23 173.90 L610.72 175.11 L610.22 176.29 L609.72 177.44" stroke="#303030"/>
<path d="M497.50 120.58 L498.00 120.57 L498.51 120.55 L499.01 120.50 L499.51 120.44 L500.01 120.36 L500.52 120.27 L501.02 120.15 L501.52 120.02 L502.02 119.87 L502.53 119.70 L503.03 119.52 L503.53 119.31 L504.04 119.09 L504.54 118.85 L505.04 118.59 L505.54 118.31 L506.05 118.01 L506.55 117.70 L507.05 117.37 L507.56 117.01 L508.06 116.64 L508.56 116.26 L509.06 115.86 L509.57 115.44 L510.07 115.01 L510.57 114.57 L511.07 114.12 L511.58 113.66 L512.08 113.20 L512.58 112.73 L513.09 112.25 L513.59 111.77 L514.09 111.29 L514.59 110.81 L515.10 110.33 L515.60 109.86 L516.10 109.38 L516.61 108.92 L517.11 108.45 L517.61 108.00 L518.11 107.56 L518.62 107.12 L519.12 106.70 L519.62 106.29 L520.12 105.90 L520.63 105.52 L521.13 105.16 L521.63 104.82 L522.14 104.50 L522.64 104.21 L523.14 103.94 L523.64 103.69 L524.15 103.47 L524.65 103.27 L525.15 103.11 L525.66 102.98 L526.16 102.88 L526.66 102.81 L527.16 102.78 L527.67 102.79 L528.17 102.83 L528.67 102.92 L529.17 103.04 L529.68 103.20 L530.18 103.39 L530.68 103.62 L531.19 103.89 L531.69 104.20 L532.19 104.54 L532.69 104.91 L533.20 105.33 L533.70 105.77 L534.20 106.25 L534.71 106.77 L535.21 107.32 L535.71 107.91 L536.21 108.52 L536.72 109.18 L537.22 109.87 L537.72 110.61 L538.23 111.38 L538.73 112.21 L539.23 113.09 L539.73 114.02 L540.24 115.00 L540.74 116.05 L541.24 117.16 L541.74 118.33 L542.25 119.57 L542.75 120.88 L543.25 122.25 L543.76 123.69 L544.26 125.17 L544.76 126.71 L545.26 128.29 L545.77 129.91 L546.27 131.56 L546.77 133.24 L547.27 134.95 L547.78 136.67 L548.28 138.41 L548.78 140.16 L549.29 141.92 L549.79 143.67 L550.29 145.42 L550.79 147.16 L551.30 148.89 L551.80 150.59 L552.30 152.27 L552.81 153.92 L553.31 155.54 L553.81 157.13 L554.31 158.70 L554.82 160.25 L555.32 161.77 L555.82 163.27 L556.33 164.75 L556.83 166.21 L557.33 167.66 L557.83 169.09 L558.34 170.51 L558.84 171.92 L559.34 173.31 L559.84 174.70 L560.35 176.07 L560.85 177.44" stroke="#ff2828"/>
<path d="M678.50 120.58 L678.00 120.57 L677.49 120.55 L676.99 120.50 L676.49 120.44 L675.99 120.36 L675.48 120.27 L674.98 120.15 L674.48 120.02 L673.98 119.87 L673.47 119.70 L672.97 119.52 L672.47 119.31 L671.96 119.09 L671.46 118.85 L670.96 118.59 L670.46 118.31 L669.95 118.01 L669.45 117.70 L668.95 117.37 L668.44 117.01 L667.94 116.64 L667.44 116.26 L666.94 115.86 L666.43 115.44 L665.93 115.01 L665.43 114.57 L664.92 114.12 L664.42 113.66 L663.92 113.20 L663.42 112.73 L662.91 112.25 L662.41 111.77 L661.91 111.29 L661.41 110.81 L660.90 110.33 L660.40 109.86 L659.90 109.38 L659.39 108.92 L658.89 108.45 L658.39 108.00 L657.89 107.56 L657.38 107.12 L656.88 106.70 L656.38 106.29 L655.88 105.90 L655.37 105.52 L654.87 105.16 L654.37 104.82 L653.86 104.50 L653.36 104.21 L652.86 103.94 L652.36 103.69 L651.85 103.47 L651.35 103.27 L650.85 103.11 L650.34 102.98 L649.84 102.88 L649.34 102.81 L648.84 102.78 L648.33 102.79 L647.83 102.83 L647.33 102.92 L646.83 103.04 L646.32 103.20 L645.82 103.39 L645.32 103.62 L644.81 103.89 L644.31 104.20 L643.81 104.54 L643.31 104.91 L642.80 105.33 L642.30 105.77 L641.80 106.25 L641.29 106.77 L640.79 107.32 L640.29 107.91 L639.79 108.52 L639.28 109.18 L638.78 109.87 L638.28 110.61 L637.77 111.38 L637.27 112.21 L636.77 113.09 L636.27 114.02 L635.76 115.00 L635.26 116.05 L634.76 117.16 L634.26 118.33 L633.75 119.57 L633.25 120.88 L632.75 122.25 L632.24 123.69 L631.74 125.17 L631.24 126.71 L630.74 128.29 L630.23 129.91 L629.73 131.56 L629.23 133.24 L628.73 134.95 L628.22 136.67 L627.72 138.41 L627.22 140.16 L626.71 141.92 L626.21 143.67 L625.71 145.42 L625.21 147.16 L624.70 148.89 L624.20 150.59 L623.70 152.27 L623.19 153.92 L622.69 155.54 L622.19 157.13 L621.69 158.70 L621.18 160.25 L620.68 161.77 L620.18 163.27 L619.67 164.75 L619.17 166.21 L618.67 167.66 L618.17 169.09 L617.66 170.51 L617.16 171.92 L616.66 173.31 L616.16 174.70 L615.65 176.07 L615.15 177.44" stroke="#ff2828"/>
</g>

<rect x="497.5" y="13" width="181.0" height="158.5" fill="none" stroke="#7a7a7a" stroke-width="1"/>
<line x1="497.5" y1="52.62" x2="500.0" y2="52.62" stroke="#666" stroke-width="0.8"/>
<line x1="497.5" y1="92.25" x2="500.0" y2="92.25" stroke="#666" stroke-width="0.8"/>
<line x1="497.5" y1="131.88" x2="500.0" y2="131.88" stroke="#666" stroke-width="0.8"/>
<text x="492.50" y="16.20" text-anchor="end" font-size="9.5">2</text>
<text x="492.50" y="55.83" text-anchor="end" font-size="9.5">1</text>
<text x="492.50" y="95.45" text-anchor="end" font-size="9.5">0</text>
<text x="492.50" y="135.08" text-anchor="end" font-size="9.5">−1</text>
<text x="492.50" y="174.70" text-anchor="end" font-size="9.5">−2</text>
<text x="497.80" y="184.50" text-anchor="middle" font-size="10">M</text>
<text x="527.97" y="184.50" text-anchor="middle" font-size="10">K+</text>
<text x="588.30" y="184.50" text-anchor="middle" font-size="10">Γ</text>
<text x="648.63" y="184.50" text-anchor="middle" font-size="10">K-</text>
<text x="678.80" y="184.50" text-anchor="middle" font-size="10">M</text>
<text transform="translate(475.60,92.35) rotate(-90)" text-anchor="middle" font-size="13.8">Engrgy (eV)</text>
<text x="464.70" y="12.00" font-size="14.5">(c)</text>
<clipPath id="clipd"><rect x="35" y="207.5" width="178.5" height="160.0"/></clipPath>
<line x1="64.75" y1="207.5" x2="64.75" y2="367.5" stroke="#f084b0" stroke-width="0.95" stroke-dasharray="1.6 1.7"/>
<line x1="124.25" y1="207.5" x2="124.25" y2="367.5" stroke="#f084b0" stroke-width="0.95" stroke-dasharray="1.6 1.7"/>
<line x1="183.75" y1="207.5" x2="183.75" y2="367.5" stroke="#f084b0" stroke-width="0.95" stroke-dasharray="1.6 1.7"/>
<line x1="35" y1="287.50" x2="213.5" y2="287.50" stroke="#8c8c8c" stroke-width="0.85" stroke-dasharray="1.6 1.7"/>
<g clip-path="url(#clipd)" fill="none" stroke-width="1.15" stroke-linecap="round" stroke-linejoin="round">
<path d="M35.00 224.58 L35.50 224.57 L36.00 224.56 L36.50 224.54 L37.00 224.51 L37.50 224.47 L38.00 224.43 L38.50 224.38 L39.00 224.33 L39.50 224.27 L40.00 224.22 L40.50 224.16 L41.00 224.10 L41.50 224.04 L42.00 223.98 L42.50 223.92 L43.00 223.86 L43.50 223.81 L44.00 223.76 L44.50 223.71 L45.00 223.67 L45.50 223.63 L46.00 223.60 L46.50 223.57 L47.00 223.54 L47.50 223.52 L48.00 223.50 L48.50 223.49 L49.00 223.49 L49.50 223.49 L50.00 223.49 L50.50 223.50 L51.00 223.52 L51.50 223.55 L52.00 223.59 L52.50 223.63 L53.00 223.69 L53.50 223.75 L54.00 223.83 L54.50 223.93 L55.00 224.03 L55.50 224.15 L56.00 224.29 L56.50 224.44 L57.00 224.61 L57.50 224.80 L58.00 225.01 L58.50 225.24 L59.00 225.48 L59.50 225.74 L60.00 226.00 L60.50 226.26 L61.00 226.51 L61.50 226.74 L62.00 226.96 L62.50 227.15 L63.00 227.30 L63.50 227.42 L64.00 227.49 L64.50 227.51 L65.00 227.47 L65.50 227.38 L66.00 227.23 L66.50 227.03 L67.00 226.78 L67.50 226.50 L68.00 226.17 L68.50 225.81 L69.00 225.43 L69.50 225.02 L70.00 224.59 L70.50 224.14 L71.00 223.68 L71.50 223.22 L72.00 222.75 L72.50 222.28 L73.00 221.82 L73.50 221.37 L74.00 220.93 L74.50 220.51 L75.00 220.11 L75.50 219.72 L76.00 219.34 L76.50 218.98 L77.00 218.64 L77.50 218.30 L78.00 217.98 L78.50 217.67 L79.00 217.37 L79.50 217.08 L80.00 216.80 L80.50 216.52 L81.00 216.26 L81.50 216.00 L82.00 215.75 L82.50 215.50 L83.00 215.26 L83.50 215.03 L84.00 214.81 L84.50 214.59 L85.00 214.38 L85.50 214.18 L86.00 213.99 L86.50 213.80 L87.00 213.63 L87.50 213.46 L88.00 213.30 L88.50 213.16 L89.00 213.02 L89.50 212.89 L90.00 212.76 L90.50 212.65 L91.00 212.54 L91.50 212.44 L92.00 212.35 L92.50 212.26 L93.00 212.18 L93.50 212.10 L94.00 212.03 L94.50 211.96 L95.00 211.90 L95.50 211.84 L96.00 211.79 L96.50 211.74 L97.00 211.69 L97.50 211.64 L98.00 211.59 L98.50 211.55 L99.00 211.51 L99.50 211.46 L100.00 211.42 L100.50 211.38 L101.00 211.34 L101.50 211.29 L102.00 211.25 L102.50 211.20 L103.00 211.15 L103.50 211.09 L104.00 211.03 L104.50 210.96 L105.00 210.88 L105.50 210.80 L106.00 210.70 L106.50 210.60 L107.00 210.48 L107.50 210.35 L108.00 210.21 L108.50 210.06 L109.00 209.88 L109.50 209.69 L110.00 209.49 L110.50 209.26 L111.00 209.02 L111.50 208.76 L112.00 208.48 L112.50 208.18 L113.00 207.86 L113.50 207.53 L114.00 207.18 L114.50 206.81 L115.00 206.43 L115.50 206.04 L116.00 205.66 L116.50 205.26 L117.00 204.88 L117.50 204.50 L118.00 204.13 L118.50 203.77 L119.00 203.43 L119.50 203.11 L120.00 202.81 L120.50 202.54 L121.00 202.30 L121.50 202.08 L122.00 201.90 L122.50 201.74 L123.00 201.63 L123.50 201.55 L124.00 201.51 L124.50 201.51 L125.00 201.55 L125.50 201.63 L126.00 201.74 L126.50 201.90 L127.00 202.08 L127.50 202.30 L128.00 202.54 L128.50 202.81 L129.00 203.11 L129.50 203.43 L130.00 203.77 L130.50 204.13 L131.00 204.50 L131.50 204.88 L132.00 205.26 L132.50 205.66 L133.00 206.04 L133.50 206.43 L134.00 206.81 L134.50 207.18 L135.00 207.53 L135.50 207.86 L136.00 208.18 L136.50 208.48 L137.00 208.76 L137.50 209.02 L138.00 209.26 L138.50 209.49 L139.00 209.69 L139.50 209.88 L140.00 210.06 L140.50 210.21 L141.00 210.35 L141.50 210.48 L142.00 210.60 L142.50 210.70 L143.00 210.80 L143.50 210.88 L144.00 210.96 L144.50 211.03 L145.00 211.09 L145.50 211.15 L146.00 211.20 L146.50 211.25 L147.00 211.29 L147.50 211.34 L148.00 211.38 L148.50 211.42 L149.00 211.46 L149.50 211.51 L150.00 211.55 L150.50 211.59 L151.00 211.64 L151.50 211.69 L152.00 211.74 L152.50 211.79 L153.00 211.84 L153.50 211.90 L154.00 211.96 L154.50 212.03 L155.00 212.10 L155.50 212.18 L156.00 212.26 L156.50 212.35 L157.00 212.44 L157.50 212.54 L158.00 212.65 L158.50 212.76 L159.00 212.89 L159.50 213.02 L160.00 213.16 L160.50 213.30 L161.00 213.46 L161.50 213.63 L162.00 213.80 L162.50 213.99 L163.00 214.18 L163.50 214.38 L164.00 214.59 L164.50 214.81 L165.00 215.03 L165.50 215.26 L166.00 215.50 L166.50 215.75 L167.00 216.00 L167.50 216.26 L168.00 216.52 L168.50 216.80 L169.00 217.08 L169.50 217.37 L170.00 217.67 L170.50 217.98 L171.00 218.30 L171.50 218.64 L172.00 218.98 L172.50 219.34 L173.00 219.72 L173.50 220.11 L174.00 220.51 L174.50 220.93 L175.00 221.37 L175.50 221.82 L176.00 222.28 L176.50 222.75 L177.00 223.22 L177.50 223.68 L178.00 224.14 L178.50 224.59 L179.00 225.02 L179.50 225.43 L180.00 225.81 L180.50 226.17 L181.00 226.50 L181.50 226.78 L182.00 227.03 L182.50 227.23 L183.00 227.38 L183.50 227.47 L184.00 227.51 L184.50 227.49 L185.00 227.42 L185.50 227.30 L186.00 227.15 L186.50 226.96 L187.00 226.74 L187.50 226.51 L188.00 226.26 L188.50 226.00 L189.00 225.74 L189.50 225.48 L190.00 225.24 L190.50 225.01 L191.00 224.80 L191.50 224.61 L192.00 224.44 L192.50 224.29 L193.00 224.15 L193.50 224.03 L194.00 223.93 L194.50 223.83 L195.00 223.75 L195.50 223.69 L196.00 223.63 L196.50 223.59 L197.00 223.55 L197.50 223.52 L198.00 223.50 L198.50 223.49 L199.00 223.49 L199.50 223.49 L200.00 223.49 L200.50 223.50 L201.00 223.52 L201.50 223.54 L202.00 223.57 L202.50 223.60 L203.00 223.63 L203.50 223.67 L204.00 223.71 L204.50 223.76 L205.00 223.81 L205.50 223.86 L206.00 223.92 L206.50 223.98 L207.00 224.04 L207.50 224.10 L208.00 224.16 L208.50 224.22 L209.00 224.27 L209.50 224.33 L210.00 224.38 L210.50 224.43 L211.00 224.47 L211.50 224.51 L212.00 224.54 L212.50 224.56 L213.00 224.57 L213.50 224.58" stroke="#2a2ae6"/>
<path d="M35.00 230.30 L35.50 230.29 L36.00 230.26 L36.50 230.20 L37.00 230.13 L37.50 230.03 L38.00 229.93 L38.50 229.80 L39.00 229.66 L39.50 229.52 L40.00 229.36 L40.50 229.19 L41.00 229.01 L41.50 228.83 L42.00 228.64 L42.50 228.45 L43.00 228.26 L43.50 228.06 L44.00 227.87 L44.50 227.68 L45.00 227.50 L45.50 227.32 L46.00 227.14 L46.50 226.98 L47.00 226.82 L47.50 226.67 L48.00 226.53 L48.50 226.40 L49.00 226.28 L49.50 226.18 L50.00 226.09 L50.50 226.01 L51.00 225.96 L51.50 225.92 L52.00 225.90 L52.50 225.90 L53.00 225.92 L53.50 225.96 L54.00 226.02 L54.50 226.10 L55.00 226.21 L55.50 226.33 L56.00 226.48 L56.50 226.65 L57.00 226.85 L57.50 227.06 L58.00 227.30 L58.50 227.56 L59.00 227.84 L59.50 228.15 L60.00 228.47 L60.50 228.80 L61.00 229.12 L61.50 229.44 L62.00 229.74 L62.50 230.02 L63.00 230.26 L63.50 230.45 L64.00 230.60 L64.50 230.68 L65.00 230.70 L65.50 230.64 L66.00 230.53 L66.50 230.35 L67.00 230.11 L67.50 229.82 L68.00 229.49 L68.50 229.12 L69.00 228.71 L69.50 228.26 L70.00 227.80 L70.50 227.31 L71.00 226.80 L71.50 226.29 L72.00 225.77 L72.50 225.24 L73.00 224.72 L73.50 224.21 L74.00 223.71 L74.50 223.22 L75.00 222.76 L75.50 222.31 L76.00 221.88 L76.50 221.47 L77.00 221.07 L77.50 220.70 L78.00 220.35 L78.50 220.02 L79.00 219.71 L79.50 219.42 L80.00 219.16 L80.50 218.92 L81.00 218.70 L81.50 218.51 L82.00 218.34 L82.50 218.20 L83.00 218.09 L83.50 218.00 L84.00 217.94 L84.50 217.91 L85.00 217.90 L85.50 217.93 L86.00 217.98 L86.50 218.06 L87.00 218.17 L87.50 218.31 L88.00 218.47 L88.50 218.66 L89.00 218.88 L89.50 219.12 L90.00 219.38 L90.50 219.67 L91.00 219.99 L91.50 220.33 L92.00 220.69 L92.50 221.07 L93.00 221.48 L93.50 221.90 L94.00 222.35 L94.50 222.82 L95.00 223.32 L95.50 223.83 L96.00 224.36 L96.50 224.91 L97.00 225.48 L97.50 226.06 L98.00 226.67 L98.50 227.29 L99.00 227.93 L99.50 228.58 L100.00 229.24 L100.50 229.91 L101.00 230.59 L101.50 231.28 L102.00 231.97 L102.50 232.66 L103.00 233.35 L103.50 234.04 L104.00 234.73 L104.50 235.41 L105.00 236.08 L105.50 236.74 L106.00 237.39 L106.50 238.03 L107.00 238.65 L107.50 239.25 L108.00 239.84 L108.50 240.41 L109.00 240.97 L109.50 241.52 L110.00 242.04 L110.50 242.56 L111.00 243.06 L111.50 243.55 L112.00 244.02 L112.50 244.48 L113.00 244.93 L113.50 245.36 L114.00 245.78 L114.50 246.19 L115.00 246.59 L115.50 246.97 L116.00 247.34 L116.50 247.70 L117.00 248.04 L117.50 248.36 L118.00 248.67 L118.50 248.96 L119.00 249.23 L119.50 249.48 L120.00 249.71 L120.50 249.92 L121.00 250.11 L121.50 250.27 L122.00 250.41 L122.50 250.52 L123.00 250.61 L123.50 250.67 L124.00 250.70 L124.50 250.70 L125.00 250.67 L125.50 250.61 L126.00 250.52 L126.50 250.41 L127.00 250.27 L127.50 250.11 L128.00 249.92 L128.50 249.71 L129.00 249.48 L129.50 249.23 L130.00 248.96 L130.50 248.67 L131.00 248.36 L131.50 248.04 L132.00 247.70 L132.50 247.34 L133.00 246.97 L133.50 246.59 L134.00 246.19 L134.50 245.78 L135.00 245.36 L135.50 244.93 L136.00 244.48 L136.50 244.02 L137.00 243.55 L137.50 243.06 L138.00 242.56 L138.50 242.04 L139.00 241.52 L139.50 240.97 L140.00 240.41 L140.50 239.84 L141.00 239.25 L141.50 238.65 L142.00 238.03 L142.50 237.39 L143.00 236.74 L143.50 236.08 L144.00 235.41 L144.50 234.73 L145.00 234.04 L145.50 233.35 L146.00 232.66 L146.50 231.97 L147.00 231.28 L147.50 230.59 L148.00 229.91 L148.50 229.24 L149.00 228.58 L149.50 227.93 L150.00 227.29 L150.50 226.67 L151.00 226.06 L151.50 225.48 L152.00 224.91 L152.50 224.36 L153.00 223.83 L153.50 223.32 L154.00 222.82 L154.50 222.35 L155.00 221.90 L155.50 221.48 L156.00 221.07 L156.50 220.69 L157.00 220.33 L157.50 219.99 L158.00 219.67 L158.50 219.38 L159.00 219.12 L159.50 218.88 L160.00 218.66 L160.50 218.47 L161.00 218.31 L161.50 218.17 L162.00 218.06 L162.50 217.98 L163.00 217.93 L163.50 217.90 L164.00 217.91 L164.50 217.94 L165.00 218.00 L165.50 218.09 L166.00 218.20 L166.50 218.34 L167.00 218.51 L167.50 218.70 L168.00 218.92 L168.50 219.16 L169.00 219.42 L169.50 219.71 L170.00 220.02 L170.50 220.35 L171.00 220.70 L171.50 221.07 L172.00 221.47 L172.50 221.88 L173.00 222.31 L173.50 222.76 L174.00 223.22 L174.50 223.71 L175.00 224.21 L175.50 224.72 L176.00 225.24 L176.50 225.77 L177.00 226.29 L177.50 226.80 L178.00 227.31 L178.50 227.80 L179.00 228.26 L179.50 228.71 L180.00 229.12 L180.50 229.49 L181.00 229.82 L181.50 230.11 L182.00 230.35 L182.50 230.53 L183.00 230.64 L183.50 230.70 L184.00 230.68 L184.50 230.60 L185.00 230.45 L185.50 230.26 L186.00 230.02 L186.50 229.74 L187.00 229.44 L187.50 229.12 L188.00 228.80 L188.50 228.47 L189.00 228.15 L189.50 227.84 L190.00 227.56 L190.50 227.30 L191.00 227.06 L191.50 226.85 L192.00 226.65 L192.50 226.48 L193.00 226.33 L193.50 226.21 L194.00 226.10 L194.50 226.02 L195.00 225.96 L195.50 225.92 L196.00 225.90 L196.50 225.90 L197.00 225.92 L197.50 225.96 L198.00 226.01 L198.50 226.09 L199.00 226.18 L199.50 226.28 L200.00 226.40 L200.50 226.53 L201.00 226.67 L201.50 226.82 L202.00 226.98 L202.50 227.14 L203.00 227.32 L203.50 227.50 L204.00 227.68 L204.50 227.87 L205.00 228.06 L205.50 228.26 L206.00 228.45 L206.50 228.64 L207.00 228.83 L207.50 229.01 L208.00 229.19 L208.50 229.36 L209.00 229.52 L209.50 229.66 L210.00 229.80 L210.50 229.93 L211.00 230.03 L211.50 230.13 L212.00 230.20 L212.50 230.26 L213.00 230.29 L213.50 230.30" stroke="#2a2ae6"/>
<path d="M35.00 263.10 L35.50 263.09 L36.00 263.04 L36.50 262.98 L37.00 262.89 L37.50 262.77 L38.00 262.64 L38.50 262.48 L39.00 262.30 L39.50 262.10 L40.00 261.88 L40.50 261.64 L41.00 261.38 L41.50 261.11 L42.00 260.83 L42.50 260.53 L43.00 260.21 L43.50 259.89 L44.00 259.55 L44.50 259.20 L45.00 258.84 L45.50 258.48 L46.00 258.10 L46.50 257.72 L47.00 257.33 L47.50 256.94 L48.00 256.54 L48.50 256.14 L49.00 255.73 L49.50 255.33 L50.00 254.92 L50.50 254.52 L51.00 254.11 L51.50 253.71 L52.00 253.30 L52.50 252.90 L53.00 252.50 L53.50 252.11 L54.00 251.71 L54.50 251.33 L55.00 250.95 L55.50 250.57 L56.00 250.20 L56.50 249.84 L57.00 249.49 L57.50 249.15 L58.00 248.82 L58.50 248.50 L59.00 248.19 L59.50 247.90 L60.00 247.63 L60.50 247.37 L61.00 247.13 L61.50 246.91 L62.00 246.72 L62.50 246.55 L63.00 246.40 L63.50 246.28 L64.00 246.19 L64.50 246.12 L65.00 246.09 L65.50 246.08 L66.00 246.10 L66.50 246.15 L67.00 246.21 L67.50 246.29 L68.00 246.39 L68.50 246.50 L69.00 246.62 L69.50 246.74 L70.00 246.87 L70.50 246.99 L71.00 247.11 L71.50 247.23 L72.00 247.34 L72.50 247.43 L73.00 247.52 L73.50 247.58 L74.00 247.63 L74.50 247.65 L75.00 247.67 L75.50 247.66 L76.00 247.63 L76.50 247.59 L77.00 247.52 L77.50 247.44 L78.00 247.34 L78.50 247.21 L79.00 247.07 L79.50 246.91 L80.00 246.72 L80.50 246.52 L81.00 246.29 L81.50 246.04 L82.00 245.77 L82.50 245.48 L83.00 245.16 L83.50 244.83 L84.00 244.47 L84.50 244.09 L85.00 243.68 L85.50 243.25 L86.00 242.80 L86.50 242.32 L87.00 241.82 L87.50 241.30 L88.00 240.76 L88.50 240.20 L89.00 239.63 L89.50 239.05 L90.00 238.45 L90.50 237.84 L91.00 237.23 L91.50 236.61 L92.00 235.99 L92.50 235.36 L93.00 234.74 L93.50 234.11 L94.00 233.49 L94.50 232.88 L95.00 232.27 L95.50 231.67 L96.00 231.09 L96.50 230.51 L97.00 229.96 L97.50 229.42 L98.00 228.89 L98.50 228.39 L99.00 227.91 L99.50 227.45 L100.00 227.00 L100.50 226.58 L101.00 226.17 L101.50 225.77 L102.00 225.39 L102.50 225.02 L103.00 224.66 L103.50 224.31 L104.00 223.98 L104.50 223.65 L105.00 223.32 L105.50 223.01 L106.00 222.69 L106.50 222.39 L107.00 222.08 L107.50 221.77 L108.00 221.47 L108.50 221.17 L109.00 220.88 L109.50 220.59 L110.00 220.32 L110.50 220.06 L111.00 219.81 L111.50 219.59 L112.00 219.38 L112.50 219.20 L113.00 219.04 L113.50 218.91 L114.00 218.81 L114.50 218.74 L115.00 218.70 L115.50 218.70 L116.00 218.74 L116.50 218.81 L117.00 218.90 L117.50 219.02 L118.00 219.15 L118.50 219.30 L119.00 219.46 L119.50 219.62 L120.00 219.79 L120.50 219.95 L121.00 220.11 L121.50 220.26 L122.00 220.39 L122.50 220.50 L123.00 220.60 L123.50 220.66 L124.00 220.70 L124.50 220.70 L125.00 220.66 L125.50 220.60 L126.00 220.50 L126.50 220.39 L127.00 220.26 L127.50 220.11 L128.00 219.95 L128.50 219.79 L129.00 219.62 L129.50 219.46 L130.00 219.30 L130.50 219.15 L131.00 219.02 L131.50 218.90 L132.00 218.81 L132.50 218.74 L133.00 218.70 L133.50 218.70 L134.00 218.74 L134.50 218.81 L135.00 218.91 L135.50 219.04 L136.00 219.20 L136.50 219.38 L137.00 219.59 L137.50 219.81 L138.00 220.06 L138.50 220.32 L139.00 220.59 L139.50 220.88 L140.00 221.17 L140.50 221.47 L141.00 221.77 L141.50 222.08 L142.00 222.39 L142.50 222.69 L143.00 223.01 L143.50 223.32 L144.00 223.65 L144.50 223.98 L145.00 224.31 L145.50 224.66 L146.00 225.02 L146.50 225.39 L147.00 225.77 L147.50 226.17 L148.00 226.58 L148.50 227.00 L149.00 227.45 L149.50 227.91 L150.00 228.39 L150.50 228.89 L151.00 229.42 L151.50 229.96 L152.00 230.51 L152.50 231.09 L153.00 231.67 L153.50 232.27 L154.00 232.88 L154.50 233.49 L155.00 234.11 L155.50 234.74 L156.00 235.36 L156.50 235.99 L157.00 236.61 L157.50 237.23 L158.00 237.84 L158.50 238.45 L159.00 239.05 L159.50 239.63 L160.00 240.20 L160.50 240.76 L161.00 241.30 L161.50 241.82 L162.00 242.32 L162.50 242.80 L163.00 243.25 L163.50 243.68 L164.00 244.09 L164.50 244.47 L165.00 244.83 L165.50 245.16 L166.00 245.48 L166.50 245.77 L167.00 246.04 L167.50 246.29 L168.00 246.52 L168.50 246.72 L169.00 246.91 L169.50 247.07 L170.00 247.21 L170.50 247.34 L171.00 247.44 L171.50 247.52 L172.00 247.59 L172.50 247.63 L173.00 247.66 L173.50 247.67 L174.00 247.65 L174.50 247.63 L175.00 247.58 L175.50 247.52 L176.00 247.43 L176.50 247.34 L177.00 247.23 L177.50 247.11 L178.00 246.99 L178.50 246.87 L179.00 246.74 L179.50 246.62 L180.00 246.50 L180.50 246.39 L181.00 246.29 L181.50 246.21 L182.00 246.15 L182.50 246.10 L183.00 246.08 L183.50 246.09 L184.00 246.12 L184.50 246.19 L185.00 246.28 L185.50 246.40 L186.00 246.55 L186.50 246.72 L187.00 246.91 L187.50 247.13 L188.00 247.37 L188.50 247.63 L189.00 247.90 L189.50 248.19 L190.00 248.50 L190.50 248.82 L191.00 249.15 L191.50 249.49 L192.00 249.84 L192.50 250.20 L193.00 250.57 L193.50 250.95 L194.00 251.33 L194.50 251.71 L195.00 252.11 L195.50 252.50 L196.00 252.90 L196.50 253.30 L197.00 253.71 L197.50 254.11 L198.00 254.52 L198.50 254.92 L199.00 255.33 L199.50 255.73 L200.00 256.14 L200.50 256.54 L201.00 256.94 L201.50 257.33 L202.00 257.72 L202.50 258.10 L203.00 258.48 L203.50 258.84 L204.00 259.20 L204.50 259.55 L205.00 259.89 L205.50 260.21 L206.00 260.53 L206.50 260.83 L207.00 261.11 L207.50 261.38 L208.00 261.64 L208.50 261.88 L209.00 262.10 L209.50 262.30 L210.00 262.48 L210.50 262.64 L211.00 262.77 L211.50 262.89 L212.00 262.98 L212.50 263.04 L213.00 263.09 L213.50 263.10" stroke="#2a2ae6"/>
<path d="M35.00 263.10 L35.50 263.08 L36.00 263.04 L36.50 262.97 L37.00 262.88 L37.50 262.76 L38.00 262.62 L38.50 262.46 L39.01 262.28 L39.51 262.08 L40.01 261.86 L40.51 261.62 L41.01 261.37 L41.51 261.11 L42.01 260.83 L42.51 260.54 L43.01 260.24 L43.51 259.93 L44.01 259.61 L44.51 259.28 L45.01 258.95 L45.51 258.61 L46.01 258.27 L46.52 257.93 L47.02 257.58 L47.52 257.24 L48.02 256.89 L48.52 256.55 L49.02 256.21 L49.52 255.87 L50.02 255.54 L50.52 255.20 L51.02 254.87 L51.52 254.55 L52.02 254.22 L52.52 253.90 L53.02 253.58 L53.52 253.27 L54.03 252.96 L54.53 252.65 L55.03 252.34 L55.53 252.03 L56.03 251.73 L56.53 251.44 L57.03 251.14 L57.53 250.85 L58.03 250.57 L58.53 250.29 L59.03 250.03 L59.53 249.78 L60.03 249.54 L60.53 249.32 L61.03 249.11 L61.54 248.93 L62.04 248.76 L62.54 248.62 L63.04 248.50 L63.54 248.41 L64.04 248.34 L64.54 248.31 L65.04 248.30 L65.54 248.33 L66.04 248.38 L66.54 248.45 L67.04 248.55 L67.54 248.66 L68.04 248.79 L68.54 248.92 L69.05 249.06 L69.55 249.21 L70.05 249.36 L70.55 249.50 L71.05 249.64 L71.55 249.77 L72.05 249.88 L72.55 249.98 L73.05 250.06 L73.55 250.11 L74.05 250.15 L74.55 250.15 L75.05 250.14 L75.55 250.09 L76.06 250.03 L76.56 249.94 L77.06 249.83 L77.56 249.70 L78.06 249.54 L78.56 249.36 L79.06 249.16 L79.56 248.95 L80.06 248.70 L80.56 248.44 L81.06 248.16 L81.56 247.86 L82.06 247.54 L82.56 247.20 L83.06 246.85 L83.57 246.47 L84.07 246.08 L84.57 245.67 L85.07 245.24 L85.57 244.79 L86.07 244.33 L86.57 243.86 L87.07 243.36 L87.57 242.85 L88.07 242.33 L88.57 241.79 L89.07 241.23 L89.57 240.66 L90.07 240.07 L90.57 239.47 L91.08 238.85 L91.58 238.21 L92.08 237.56 L92.58 236.89 L93.08 236.21 L93.58 235.51 L94.08 234.80 L94.58 234.09 L95.08 233.36 L95.58 232.62 L96.08 231.88 L96.58 231.13 L97.08 230.38 L97.58 229.62 L98.08 228.86 L98.59 228.10 L99.09 227.34 L99.59 226.58 L100.09 225.81 L100.59 225.05 L101.09 224.29 L101.59 223.52 L102.09 222.76 L102.59 221.99 L103.09 221.22 L103.59 220.45 L104.09 219.68 L104.59 218.91 L105.09 218.14 L105.59 217.37 L106.10 216.59 L106.60 215.81 L107.10 215.04 L107.60 214.26 L108.10 213.48 L108.60 212.70 L109.10 211.92 L109.60 211.14 L110.10 210.36 L110.60 209.58 L111.10 208.80 L111.60 208.02 L112.10 207.24 L112.60 206.46 L113.10 205.68 L113.61 204.90 L114.11 204.12 L114.61 203.35 L115.11 202.58 L115.61 201.80 L116.11 201.03 L116.61 200.27 L117.11 199.50" stroke="#2a2ae6"/>
<path d="M213.50 263.10 L213.00 263.08 L212.50 263.04 L212.00 262.97 L211.50 262.88 L211.00 262.76 L210.50 262.62 L210.00 262.46 L209.49 262.28 L208.99 262.08 L208.49 261.86 L207.99 261.62 L207.49 261.37 L206.99 261.11 L206.49 260.83 L205.99 260.54 L205.49 260.24 L204.99 259.93 L204.49 259.61 L203.99 259.28 L203.49 258.95 L202.99 258.61 L202.49 258.27 L201.98 257.93 L201.48 257.58 L200.98 257.24 L200.48 256.89 L199.98 256.55 L199.48 256.21 L198.98 255.87 L198.48 255.54 L197.98 255.20 L197.48 254.87 L196.98 254.55 L196.48 254.22 L195.98 253.90 L195.48 253.58 L194.98 253.27 L194.47 252.96 L193.97 252.65 L193.47 252.34 L192.97 252.03 L192.47 251.73 L191.97 251.44 L191.47 251.14 L190.97 250.85 L190.47 250.57 L189.97 250.29 L189.47 250.03 L188.97 249.78 L188.47 249.54 L187.97 249.32 L187.47 249.11 L186.96 248.93 L186.46 248.76 L185.96 248.62 L185.46 248.50 L184.96 248.41 L184.46 248.34 L183.96 248.31 L183.46 248.30 L182.96 248.33 L182.46 248.38 L181.96 248.45 L181.46 248.55 L180.96 248.66 L180.46 248.79 L179.96 248.92 L179.45 249.06 L178.95 249.21 L178.45 249.36 L177.95 249.50 L177.45 249.64 L176.95 249.77 L176.45 249.88 L175.95 249.98 L175.45 250.06 L174.95 250.11 L174.45 250.15 L173.95 250.15 L173.45 250.14 L172.95 250.09 L172.44 250.03 L171.94 249.94 L171.44 249.83 L170.94 249.70 L170.44 249.54 L169.94 249.36 L169.44 249.16 L168.94 248.95 L168.44 248.70 L167.94 248.44 L167.44 248.16 L166.94 247.86 L166.44 247.54 L165.94 247.20 L165.44 246.85 L164.93 246.47 L164.43 246.08 L163.93 245.67 L163.43 245.24 L162.93 244.79 L162.43 244.33 L161.93 243.86 L161.43 243.36 L160.93 242.85 L160.43 242.33 L159.93 241.79 L159.43 241.23 L158.93 240.66 L158.43 240.07 L157.93 239.47 L157.42 238.85 L156.92 238.21 L156.42 237.56 L155.92 236.89 L155.42 236.21 L154.92 235.51 L154.42 234.80 L153.92 234.09 L153.42 233.36 L152.92 232.62 L152.42 231.88 L151.92 231.13 L151.42 230.38 L150.92 229.62 L150.42 228.86 L149.91 228.10 L149.41 227.34 L148.91 226.58 L148.41 225.81 L147.91 225.05 L147.41 224.29 L146.91 223.52 L146.41 222.76 L145.91 221.99 L145.41 221.22 L144.91 220.45 L144.41 219.68 L143.91 218.91 L143.41 218.14 L142.91 217.37 L142.40 216.59 L141.90 215.81 L141.40 215.04 L140.90 214.26 L140.40 213.48 L139.90 212.70 L139.40 211.92 L138.90 211.14 L138.40 210.36 L137.90 209.58 L137.40 208.80 L136.90 208.02 L136.40 207.24 L135.90 206.46 L135.40 205.68 L134.89 204.90 L134.39 204.12 L133.89 203.35 L133.39 202.58 L132.89 201.80 L132.39 201.03 L131.89 200.27 L131.39 199.50" stroke="#2a2ae6"/>
<path d="M35.00 325.10 L35.50 325.09 L36.00 325.05 L36.50 324.98 L37.00 324.90 L37.50 324.79 L38.00 324.67 L38.50 324.52 L39.00 324.36 L39.50 324.18 L40.00 323.98 L40.50 323.78 L41.00 323.55 L41.50 323.32 L42.00 323.07 L42.50 322.82 L43.00 322.55 L43.50 322.28 L44.00 322.01 L44.50 321.72 L45.00 321.44 L45.50 321.15 L46.00 320.86 L46.50 320.57 L47.00 320.28 L47.50 319.99 L48.00 319.70 L48.50 319.41 L49.00 319.13 L49.50 318.85 L50.00 318.57 L50.50 318.29 L51.00 318.02 L51.50 317.75 L52.00 317.48 L52.50 317.21 L53.00 316.95 L53.50 316.68 L54.00 316.42 L54.50 316.17 L55.00 315.91 L55.50 315.66 L56.00 315.42 L56.50 315.17 L57.00 314.93 L57.50 314.70 L58.00 314.46 L58.50 314.23 L59.00 314.01 L59.50 313.80 L60.00 313.60 L60.50 313.41 L61.00 313.23 L61.50 313.07 L62.00 312.92 L62.50 312.80 L63.00 312.69 L63.50 312.60 L64.00 312.54 L64.50 312.51 L65.00 312.50 L65.50 312.52 L66.00 312.57 L66.50 312.64 L67.00 312.75 L67.50 312.88 L68.00 313.05 L68.50 313.25 L69.00 313.48 L69.50 313.74 L70.00 314.03 L70.50 314.36 L71.00 314.72 L71.50 315.11 L72.00 315.54 L72.50 316.00 L73.00 316.50 L73.50 317.03 L74.00 317.59 L74.50 318.18 L75.00 318.80 L75.50 319.44 L76.00 320.10 L76.50 320.78 L77.00 321.48 L77.50 322.18 L78.00 322.89 L78.50 323.61 L79.00 324.33 L79.50 325.05 L80.00 325.77 L80.50 326.49 L81.00 327.20 L81.50 327.92 L82.00 328.62 L82.50 329.33 L83.00 330.02 L83.50 330.72 L84.00 331.41 L84.50 332.09 L85.00 332.77 L85.50 333.44 L86.00 334.10 L86.50 334.76 L87.00 335.41 L87.50 336.05 L88.00 336.69 L88.50 337.31 L89.00 337.93 L89.50 338.53 L90.00 339.13 L90.50 339.71 L91.00 340.28 L91.50 340.83 L92.00 341.38 L92.50 341.91 L93.00 342.42 L93.50 342.92 L94.00 343.42 L94.50 343.91 L95.00 344.40 L95.50 344.90 L96.00 345.40 L96.50 345.91 L97.00 346.43 L97.50 346.97 L98.00 347.52 L98.50 348.08 L99.00 348.67 L99.50 349.28 L100.00 349.90 L100.50 350.55 L101.00 351.22 L101.50 351.91 L102.00 352.63 L102.50 353.37 L103.00 354.14 L103.50 354.94 L104.00 355.77 L104.50 356.61 L105.00 357.45 L105.50 358.28 L106.00 359.06 L106.50 359.80 L107.00 360.46 L107.50 361.03 L108.00 361.51 L108.50 361.90 L109.00 362.22 L109.50 362.46 L110.00 362.64 L110.50 362.76 L111.00 362.82 L111.50 362.84 L112.00 362.81 L112.50 362.76 L113.00 362.68 L113.50 362.57 L114.00 362.45 L114.50 362.33 L115.00 362.20 L115.50 362.08 L116.00 361.95 L116.50 361.83 L117.00 361.71 L117.50 361.60 L118.00 361.48 L118.50 361.38 L119.00 361.28 L119.50 361.18 L120.00 361.09 L120.50 361.01 L121.00 360.94 L121.50 360.87 L122.00 360.82 L122.50 360.77 L123.00 360.74 L123.50 360.71 L124.00 360.70 L124.50 360.70 L125.00 360.71 L125.50 360.74 L126.00 360.77 L126.50 360.82 L127.00 360.87 L127.50 360.94 L128.00 361.01 L128.50 361.09 L129.00 361.18 L129.50 361.28 L130.00 361.38 L130.50 361.48 L131.00 361.60 L131.50 361.71 L132.00 361.83 L132.50 361.95 L133.00 362.08 L133.50 362.20 L134.00 362.33 L134.50 362.45 L135.00 362.57 L135.50 362.68 L136.00 362.76 L136.50 362.81 L137.00 362.84 L137.50 362.82 L138.00 362.76 L138.50 362.64 L139.00 362.46 L139.50 362.22 L140.00 361.90 L140.50 361.51 L141.00 361.03 L141.50 360.46 L142.00 359.80 L142.50 359.06 L143.00 358.28 L143.50 357.45 L144.00 356.61 L144.50 355.77 L145.00 354.94 L145.50 354.14 L146.00 353.37 L146.50 352.63 L147.00 351.91 L147.50 351.22 L148.00 350.55 L148.50 349.90 L149.00 349.28 L149.50 348.67 L150.00 348.08 L150.50 347.52 L151.00 346.97 L151.50 346.43 L152.00 345.91 L152.50 345.40 L153.00 344.90 L153.50 344.40 L154.00 343.91 L154.50 343.42 L155.00 342.92 L155.50 342.42 L156.00 341.91 L156.50 341.38 L157.00 340.83 L157.50 340.28 L158.00 339.71 L158.50 339.13 L159.00 338.53 L159.50 337.93 L160.00 337.31 L160.50 336.69 L161.00 336.05 L161.50 335.41 L162.00 334.76 L162.50 334.10 L163.00 333.44 L163.50 332.77 L164.00 332.09 L164.50 331.41 L165.00 330.72 L165.50 330.02 L166.00 329.33 L166.50 328.62 L167.00 327.92 L167.50 327.20 L168.00 326.49 L168.50 325.77 L169.00 325.05 L169.50 324.33 L170.00 323.61 L170.50 322.89 L171.00 322.18 L171.50 321.48 L172.00 320.78 L172.50 320.10 L173.00 319.44 L173.50 318.80 L174.00 318.18 L174.50 317.59 L175.00 317.03 L175.50 316.50 L176.00 316.00 L176.50 315.54 L177.00 315.11 L177.50 314.72 L178.00 314.36 L178.50 314.03 L179.00 313.74 L179.50 313.48 L180.00 313.25 L180.50 313.05 L181.00 312.88 L181.50 312.75 L182.00 312.64 L182.50 312.57 L183.00 312.52 L183.50 312.50 L184.00 312.51 L184.50 312.54 L185.00 312.60 L185.50 312.69 L186.00 312.80 L186.50 312.92 L187.00 313.07 L187.50 313.23 L188.00 313.41 L188.50 313.60 L189.00 313.80 L189.50 314.01 L190.00 314.23 L190.50 314.46 L191.00 314.70 L191.50 314.93 L192.00 315.17 L192.50 315.42 L193.00 315.66 L193.50 315.91 L194.00 316.17 L194.50 316.42 L195.00 316.68 L195.50 316.95 L196.00 317.21 L196.50 317.48 L197.00 317.75 L197.50 318.02 L198.00 318.29 L198.50 318.57 L199.00 318.85 L199.50 319.13 L200.00 319.41 L200.50 319.70 L201.00 319.99 L201.50 320.28 L202.00 320.57 L202.50 320.86 L203.00 321.15 L203.50 321.44 L204.00 321.72 L204.50 322.01 L205.00 322.28 L205.50 322.55 L206.00 322.82 L206.50 323.07 L207.00 323.32 L207.50 323.55 L208.00 323.78 L208.50 323.98 L209.00 324.18 L209.50 324.36 L210.00 324.52 L210.50 324.67 L211.00 324.79 L211.50 324.90 L212.00 324.98 L212.50 325.05 L213.00 325.09 L213.50 325.10" stroke="#2a2ae6"/>
<path d="M35.00 325.50 L35.50 325.49 L36.01 325.45 L36.51 325.38 L37.02 325.30 L37.52 325.19 L38.02 325.06 L38.53 324.91 L39.03 324.75 L39.54 324.57 L40.04 324.37 L40.54 324.16 L41.05 323.93 L41.55 323.69 L42.06 323.44 L42.56 323.19 L43.06 322.92 L43.57 322.65 L44.07 322.37 L44.58 322.08 L45.08 321.79 L45.58 321.50 L46.09 321.21 L46.59 320.91 L47.10 320.62 L47.60 320.33 L48.11 320.04 L48.61 319.75 L49.11 319.47 L49.62 319.18 L50.12 318.90 L50.63 318.63 L51.13 318.35 L51.63 318.08 L52.14 317.80 L52.64 317.54 L53.15 317.27 L53.65 317.01 L54.15 316.75 L54.66 316.49 L55.16 316.23 L55.67 315.98 L56.17 315.73 L56.67 315.49 L57.18 315.25 L57.68 315.01 L58.19 314.78 L58.69 314.55 L59.19 314.33 L59.70 314.12 L60.20 313.92 L60.71 313.73 L61.21 313.56 L61.71 313.40 L62.22 313.26 L62.72 313.14 L63.23 313.05 L63.73 312.97 L64.23 312.92 L64.74 312.90 L65.24 312.91 L65.75 312.94 L66.25 313.00 L66.75 313.10 L67.26 313.22 L67.76 313.38 L68.27 313.57 L68.77 313.80 L69.27 314.06 L69.78 314.35 L70.28 314.68 L70.79 315.05 L71.29 315.45 L71.80 315.89 L72.30 316.38 L72.80 316.90 L73.31 317.46 L73.81 318.06 L74.32 318.69 L74.82 319.35 L75.32 320.04 L75.83 320.75 L76.33 321.47 L76.84 322.22 L77.34 322.97 L77.84 323.74 L78.35 324.51 L78.85 325.28 L79.36 326.04 L79.86 326.80 L80.36 327.56 L80.87 328.31 L81.37 329.05 L81.88 329.78 L82.38 330.51 L82.88 331.23 L83.39 331.94 L83.89 332.64 L84.40 333.34 L84.90 334.03 L85.40 334.71 L85.91 335.38 L86.41 336.05 L86.92 336.70 L87.42 337.35 L87.92 337.98 L88.43 338.60 L88.93 339.21 L89.44 339.81 L89.94 340.39 L90.44 340.96 L90.95 341.51 L91.45 342.05 L91.96 342.57 L92.46 343.07 L92.96 343.55 L93.47 344.01 L93.97 344.45 L94.48 344.86 L94.98 345.26 L95.49 345.63 L95.99 345.98 L96.49 346.30" stroke="#2a2ae6"/>
<path d="M213.50 325.50 L213.00 325.49 L212.49 325.45 L211.99 325.38 L211.48 325.30 L210.98 325.19 L210.48 325.06 L209.97 324.91 L209.47 324.75 L208.96 324.57 L208.46 324.37 L207.96 324.16 L207.45 323.93 L206.95 323.69 L206.44 323.44 L205.94 323.19 L205.44 322.92 L204.93 322.65 L204.43 322.37 L203.92 322.08 L203.42 321.79 L202.92 321.50 L202.41 321.21 L201.91 320.91 L201.40 320.62 L200.90 320.33 L200.39 320.04 L199.89 319.75 L199.39 319.47 L198.88 319.18 L198.38 318.90 L197.87 318.63 L197.37 318.35 L196.87 318.08 L196.36 317.80 L195.86 317.54 L195.35 317.27 L194.85 317.01 L194.35 316.75 L193.84 316.49 L193.34 316.23 L192.83 315.98 L192.33 315.73 L191.83 315.49 L191.32 315.25 L190.82 315.01 L190.31 314.78 L189.81 314.55 L189.31 314.33 L188.80 314.12 L188.30 313.92 L187.79 313.73 L187.29 313.56 L186.79 313.40 L186.28 313.26 L185.78 313.14 L185.27 313.05 L184.77 312.97 L184.27 312.92 L183.76 312.90 L183.26 312.91 L182.75 312.94 L182.25 313.00 L181.75 313.10 L181.24 313.22 L180.74 313.38 L180.23 313.57 L179.73 313.80 L179.23 314.06 L178.72 314.35 L178.22 314.68 L177.71 315.05 L177.21 315.45 L176.70 315.89 L176.20 316.38 L175.70 316.90 L175.19 317.46 L174.69 318.06 L174.18 318.69 L173.68 319.35 L173.18 320.04 L172.67 320.75 L172.17 321.47 L171.66 322.22 L171.16 322.97 L170.66 323.74 L170.15 324.51 L169.65 325.28 L169.14 326.04 L168.64 326.80 L168.14 327.56 L167.63 328.31 L167.13 329.05 L166.62 329.78 L166.12 330.51 L165.62 331.23 L165.11 331.94 L164.61 332.64 L164.10 333.34 L163.60 334.03 L163.10 334.71 L162.59 335.38 L162.09 336.05 L161.58 336.70 L161.08 337.35 L160.58 337.98 L160.07 338.60 L159.57 339.21 L159.06 339.81 L158.56 340.39 L158.06 340.96 L157.55 341.51 L157.05 342.05 L156.54 342.57 L156.04 343.07 L155.54 343.55 L155.03 344.01 L154.53 344.45 L154.02 344.86 L153.52 345.26 L153.01 345.63 L152.51 345.98 L152.01 346.30" stroke="#2a2ae6"/>
<path d="M96.49 345.90 L96.99 345.16 L97.49 344.42 L97.99 343.67 L98.49 342.91 L98.99 342.15 L99.49 341.38 L99.99 340.61 L100.49 339.83 L100.99 339.05 L101.49 338.27 L101.99 337.49 L102.49 336.71 L102.99 335.93 L103.49 335.15 L104.00 334.37 L104.50 333.60 L105.00 332.83 L105.50 332.07 L106.00 331.31 L106.50 330.55 L107.00 329.81 L107.50 329.07 L108.00 328.34 L108.50 327.62 L109.00 326.91 L109.50 326.21 L110.00 325.52 L110.50 324.85 L111.00 324.19 L111.50 323.54 L112.00 322.91 L112.50 322.29 L113.00 321.69 L113.50 321.11 L114.00 320.55 L114.50 320.00 L115.00 319.48 L115.50 318.97 L116.00 318.49 L116.50 318.03 L117.00 317.59 L117.50 317.18 L118.00 316.79 L118.50 316.42 L119.00 316.08 L119.50 315.77 L120.00 315.49 L120.50 315.23 L121.00 315.01 L121.50 314.81 L122.00 314.64 L122.50 314.51 L123.00 314.41 L123.50 314.34 L124.00 314.30 L124.50 314.30 L125.00 314.34 L125.50 314.41 L126.00 314.51 L126.50 314.64 L127.00 314.81 L127.50 315.01 L128.00 315.23 L128.50 315.49 L129.00 315.77 L129.50 316.08 L130.00 316.42 L130.50 316.79 L131.00 317.18 L131.50 317.59 L132.00 318.03 L132.50 318.49 L133.00 318.97 L133.50 319.48 L134.00 320.00 L134.50 320.55 L135.00 321.11 L135.50 321.69 L136.00 322.29 L136.50 322.91 L137.00 323.54 L137.50 324.19 L138.00 324.85 L138.50 325.52 L139.00 326.21 L139.50 326.91 L140.00 327.62 L140.50 328.34 L141.00 329.07 L141.50 329.81 L142.00 330.55 L142.50 331.31 L143.00 332.07 L143.50 332.83 L144.00 333.60 L144.50 334.37 L145.01 335.15 L145.51 335.93 L146.01 336.71 L146.51 337.49 L147.01 338.27 L147.51 339.05 L148.01 339.83 L148.51 340.61 L149.01 341.38 L149.51 342.15 L150.01 342.91 L150.51 343.67 L151.01 344.42 L151.51 345.16 L152.01 345.90" stroke="#2a2ae6"/>
<path d="M88.55 379.50 L89.05 377.66 L89.56 375.87 L90.06 374.12 L90.56 372.43 L91.06 370.80 L91.57 369.24 L92.07 367.75 L92.57 366.35 L93.08 365.03 L93.58 363.81 L94.08 362.70 L94.58 361.70 L95.09 360.81 L95.59 360.05 L96.09 359.42 L96.60 358.93 L97.10 358.58 L97.60 358.38 L98.10 358.32 L98.61 358.37 L99.11 358.52 L99.61 358.77 L100.11 359.10 L100.62 359.49 L101.12 359.94 L101.62 360.43 L102.13 360.94 L102.63 361.41 L103.13 361.80 L103.63 362.06 L104.14 362.15 L104.64 362.00 L105.14 361.57 L105.65 360.83 L106.15 359.80 L106.65 358.54 L107.15 357.10 L107.66 355.54 L108.16 353.90 L108.66 352.21 L109.17 350.49 L109.67 348.76 L110.17 347.02 L110.67 345.30 L111.18 343.61 L111.68 341.97 L112.18 340.38 L112.69 338.85 L113.19 337.39 L113.69 336.00 L114.19 334.69 L114.70 333.46 L115.20 332.31 L115.70 331.25 L116.20 330.29 L116.71 329.42 L117.21 328.65 L117.71 327.96 L118.22 327.36 L118.72 326.83 L119.22 326.37 L119.72 325.99 L120.23 325.66 L120.73 325.40 L121.23 325.18 L121.74 325.01 L122.24 324.89 L122.74 324.80 L123.24 324.74 L123.75 324.71 L124.25 324.70 L124.75 324.71 L125.26 324.74 L125.76 324.80 L126.26 324.89 L126.76 325.01 L127.27 325.18 L127.77 325.40 L128.27 325.66 L128.78 325.99 L129.28 326.37 L129.78 326.83 L130.28 327.36 L130.79 327.96 L131.29 328.65 L131.79 329.42 L132.30 330.29 L132.80 331.25 L133.30 332.31 L133.80 333.46 L134.31 334.69 L134.81 336.00 L135.31 337.39 L135.81 338.85 L136.32 340.38 L136.82 341.97 L137.32 343.61 L137.83 345.30 L138.33 347.02 L138.83 348.76 L139.33 350.49 L139.84 352.21 L140.34 353.90 L140.84 355.54 L141.35 357.10 L141.85 358.54 L142.35 359.80 L142.85 360.83 L143.36 361.57 L143.86 362.00 L144.36 362.15 L144.87 362.06 L145.37 361.80 L145.87 361.41 L146.37 360.94 L146.88 360.43 L147.38 359.94 L147.88 359.49 L148.39 359.10 L148.89 358.77 L149.39 358.52 L149.89 358.37 L150.40 358.32 L150.90 358.38 L151.40 358.58 L151.90 358.93 L152.41 359.42 L152.91 360.05 L153.41 360.81 L153.92 361.70 L154.42 362.70 L154.92 363.81 L155.42 365.03 L155.93 366.35 L156.43 367.75 L156.93 369.24 L157.44 370.80 L157.94 372.43 L158.44 374.12 L158.94 375.87 L159.45 377.66 L159.95 379.50" stroke="#2a2ae6"/>
<path d="M35.00 357.50 L35.50 357.58 L36.00 357.81 L36.51 358.20 L37.01 358.73 L37.51 359.41 L38.01 360.23 L38.51 361.19 L39.02 362.28 L39.52 363.50 L40.02 364.86 L40.52 366.34 L41.02 367.94 L41.53 369.66 L42.03 371.49 L42.53 373.44 L43.03 375.50" stroke="#2a2ae6"/>
<path d="M213.50 357.50 L213.00 357.58 L212.50 357.81 L211.99 358.20 L211.49 358.73 L210.99 359.41 L210.49 360.23 L209.99 361.19 L209.48 362.28 L208.98 363.50 L208.48 364.86 L207.98 366.34 L207.48 367.94 L206.97 369.66 L206.47 371.49 L205.97 373.44 L205.47 375.50" stroke="#2a2ae6"/>
</g>
<rect x="75.8" y="277.8" width="97.39999999999999" height="34.19999999999999" fill="none" stroke="#858585" stroke-width="1"/>
<line x1="100.2" y1="277.8" x2="100.2" y2="312.0" stroke="#f084b0" stroke-width="0.95" stroke-dasharray="1.6 1.7"/>
<line x1="154.5" y1="267.6" x2="154.5" y2="303" stroke="#f084b0" stroke-width="0.95" stroke-dasharray="1.6 1.7"/>
<line x1="123" y1="281.5" x2="153.5" y2="281.5" stroke="#7070ee" stroke-width="0.8" stroke-dasharray="1.6 1.6"/>
<line x1="102" y1="292.1" x2="131" y2="292.1" stroke="#7070ee" stroke-width="0.8" stroke-dasharray="1.6 1.6"/>
<g fill="none" stroke="#2a2ae6" stroke-width="1.1" stroke-linecap="round">
<path d="M83.40 309.50 C83.60 309.17 84.20 308.17 84.60 307.53 C85.00 306.88 85.40 306.24 85.80 305.62 C86.20 304.99 86.60 304.37 87.00 303.77 C87.40 303.17 87.80 302.58 88.20 302.01 C88.60 301.44 89.00 300.88 89.40 300.34 C89.80 299.80 90.20 299.28 90.60 298.78 C91.00 298.28 91.40 297.80 91.80 297.34 C92.20 296.88 92.60 296.44 93.00 296.03 C93.40 295.63 93.80 295.24 94.20 294.89 C94.60 294.53 95.00 294.21 95.40 293.91 C95.80 293.62 96.20 293.36 96.60 293.13 C97.00 292.91 97.40 292.72 97.80 292.56 C98.20 292.41 98.60 292.29 99.00 292.22 C99.40 292.14 99.84 292.10 100.20 292.10 C100.56 292.10 100.82 292.14 101.14 292.22 C101.45 292.29 101.76 292.41 102.07 292.56 C102.38 292.72 102.70 292.91 103.01 293.13 C103.32 293.36 103.63 293.62 103.94 293.91 C104.25 294.21 104.57 294.53 104.88 294.89 C105.19 295.24 105.50 295.63 105.81 296.03 C106.13 296.44 106.44 296.88 106.75 297.34 C107.06 297.80 107.37 298.28 107.69 298.78 C108.00 299.28 108.31 299.80 108.62 300.34 C108.93 300.88 109.25 301.44 109.56 302.01 C109.87 302.58 110.18 303.17 110.49 303.77 C110.80 304.37 111.12 304.99 111.43 305.62 C111.74 306.24 112.05 306.88 112.36 307.53 C112.68 308.17 113.14 309.17 113.30 309.50"/>
<path d="M84.80 309.80 C84.98 309.53 85.53 308.70 85.90 308.16 C86.27 307.62 86.63 307.08 87.00 306.56 C87.37 306.04 87.73 305.53 88.10 305.03 C88.47 304.53 88.83 304.04 89.20 303.56 C89.57 303.08 89.93 302.62 90.30 302.17 C90.67 301.72 91.03 301.28 91.40 300.87 C91.77 300.45 92.13 300.05 92.50 299.66 C92.87 299.28 93.23 298.92 93.60 298.58 C93.97 298.24 94.33 297.92 94.70 297.62 C95.07 297.33 95.43 297.06 95.80 296.81 C96.17 296.57 96.53 296.35 96.90 296.16 C97.27 295.98 97.63 295.81 98.00 295.69 C98.37 295.56 98.73 295.46 99.10 295.40 C99.47 295.33 99.87 295.30 100.20 295.30 C100.53 295.30 100.78 295.33 101.06 295.40 C101.35 295.46 101.64 295.56 101.93 295.69 C102.22 295.81 102.50 295.98 102.79 296.16 C103.08 296.35 103.37 296.57 103.66 296.81 C103.95 297.06 104.23 297.33 104.52 297.62 C104.81 297.92 105.10 298.24 105.39 298.58 C105.67 298.92 105.96 299.28 106.25 299.66 C106.54 300.05 106.83 300.45 107.11 300.87 C107.40 301.28 107.69 301.72 107.98 302.17 C108.27 302.62 108.55 303.08 108.84 303.56 C109.13 304.04 109.42 304.53 109.71 305.03 C110.00 305.53 110.28 306.04 110.57 306.56 C110.86 307.08 111.15 307.62 111.44 308.16 C111.72 308.70 112.16 309.53 112.30 309.80"/>
<path d="M138.10 298.80 C138.30 298.47 138.88 297.48 139.27 296.84 C139.66 296.19 140.05 295.56 140.44 294.94 C140.83 294.32 141.22 293.70 141.61 293.11 C142.00 292.51 142.40 291.92 142.79 291.35 C143.18 290.79 143.57 290.23 143.96 289.70 C144.35 289.16 144.74 288.64 145.13 288.14 C145.52 287.64 145.91 287.16 146.30 286.71 C146.69 286.25 147.08 285.82 147.47 285.41 C147.86 285.01 148.25 284.62 148.64 284.27 C149.03 283.92 149.42 283.59 149.81 283.30 C150.20 283.01 150.60 282.75 150.99 282.53 C151.38 282.31 151.77 282.11 152.16 281.96 C152.55 281.81 152.94 281.69 153.33 281.62 C153.72 281.54 154.14 281.50 154.50 281.50 C154.86 281.50 155.14 281.54 155.46 281.62 C155.79 281.69 156.11 281.81 156.43 281.96 C156.75 282.11 157.07 282.31 157.39 282.53 C157.71 282.75 158.04 283.01 158.36 283.30 C158.68 283.59 159.00 283.92 159.32 284.27 C159.64 284.62 159.96 285.01 160.29 285.41 C160.61 285.82 160.93 286.25 161.25 286.71 C161.57 287.16 161.89 287.64 162.21 288.14 C162.54 288.64 162.86 289.16 163.18 289.70 C163.50 290.23 163.82 290.79 164.14 291.35 C164.46 291.92 164.79 292.51 165.11 293.11 C165.43 293.70 165.75 294.32 166.07 294.94 C166.39 295.56 166.71 296.19 167.04 296.84 C167.36 297.48 167.84 298.47 168.00 298.80"/>
<path d="M139.40 299.00 C139.58 298.72 140.12 297.88 140.48 297.33 C140.84 296.79 141.20 296.25 141.56 295.72 C141.92 295.19 142.28 294.67 142.64 294.16 C143.00 293.65 143.35 293.16 143.71 292.67 C144.07 292.19 144.43 291.72 144.79 291.26 C145.15 290.81 145.51 290.37 145.87 289.94 C146.23 289.52 146.59 289.11 146.95 288.72 C147.31 288.34 147.67 287.97 148.03 287.62 C148.39 287.28 148.75 286.95 149.11 286.65 C149.47 286.36 149.83 286.08 150.19 285.83 C150.55 285.59 150.90 285.36 151.26 285.17 C151.62 284.98 151.98 284.82 152.34 284.69 C152.70 284.56 153.06 284.46 153.42 284.40 C153.78 284.33 154.17 284.30 154.50 284.30 C154.83 284.30 155.10 284.33 155.39 284.40 C155.69 284.46 155.99 284.56 156.29 284.69 C156.58 284.82 156.88 284.98 157.18 285.17 C157.48 285.36 157.77 285.59 158.07 285.83 C158.37 286.08 158.67 286.36 158.96 286.65 C159.26 286.95 159.56 287.28 159.86 287.62 C160.15 287.97 160.45 288.34 160.75 288.72 C161.05 289.11 161.35 289.52 161.64 289.94 C161.94 290.37 162.24 290.81 162.54 291.26 C162.83 291.72 163.13 292.19 163.43 292.67 C163.73 293.16 164.02 293.65 164.32 294.16 C164.62 294.67 164.92 295.19 165.21 295.72 C165.51 296.25 165.81 296.79 166.11 297.33 C166.40 297.88 166.85 298.72 167.00 299.00"/>
</g>
<path d="M128.6 282.0 V291.6 M127.6 282.0 H129.6 M127.6 291.6 H129.6" stroke="#111" stroke-width="0.9" fill="none"/>
<text x="96.5" y="290.4" font-size="7.2" font-weight="bold" fill="#ff33ff" stroke="#ff33ff" stroke-width="0.3">17.2meV</text>
<rect x="35" y="207.5" width="178.5" height="160.0" fill="none" stroke="#7a7a7a" stroke-width="1"/>
<line x1="35" y1="247.50" x2="37.5" y2="247.50" stroke="#666" stroke-width="0.8"/>
<line x1="35" y1="287.50" x2="37.5" y2="287.50" stroke="#666" stroke-width="0.8"/>
<line x1="35" y1="327.50" x2="37.5" y2="327.50" stroke="#666" stroke-width="0.8"/>
<text x="30.00" y="210.36" text-anchor="end" font-size="8.5">2</text>
<text x="30.00" y="250.36" text-anchor="end" font-size="8.5">1</text>
<text x="30.00" y="290.36" text-anchor="end" font-size="8.5">0</text>
<text x="30.00" y="330.36" text-anchor="end" font-size="8.5">−1</text>
<text x="30.00" y="370.36" text-anchor="end" font-size="8.5">−2</text>
<text x="36.50" y="379.50" text-anchor="middle" font-size="10">M</text>
<text x="66.25" y="379.50" text-anchor="middle" font-size="10">K+</text>
<text x="125.75" y="379.50" text-anchor="middle" font-size="10">Γ</text>
<text x="185.25" y="379.50" text-anchor="middle" font-size="10">K-</text>
<text x="215.00" y="379.50" text-anchor="middle" font-size="10">M</text>
<text transform="translate(13.60,287.35) rotate(-90)" text-anchor="middle" font-size="13.8">Engrgy (eV)</text>
<text x="3.10" y="208.80" font-size="14.5">(d)</text>
<clipPath id="clipe"><rect x="268.5" y="208.4" width="179.0" height="158.1"/></clipPath>
<line x1="298.33" y1="208.4" x2="298.33" y2="366.5" stroke="#f084b0" stroke-width="0.95" stroke-dasharray="1.6 1.7"/>
<line x1="358.00" y1="208.4" x2="358.00" y2="366.5" stroke="#f084b0" stroke-width="0.95" stroke-dasharray="1.6 1.7"/>
<line x1="417.67" y1="208.4" x2="417.67" y2="366.5" stroke="#f084b0" stroke-width="0.95" stroke-dasharray="1.6 1.7"/>
<line x1="268.5" y1="287.45" x2="447.5" y2="287.45" stroke="#8c8c8c" stroke-width="0.85" stroke-dasharray="1.6 1.7"/>
<g clip-path="url(#clipe)" fill="none" stroke-width="1.15" stroke-linecap="round" stroke-linejoin="round">
<path d="M268.50 226.58 L269.00 226.58 L269.50 226.57 L270.00 226.54 L270.50 226.49 L271.00 226.43 L271.50 226.36 L272.00 226.28 L272.50 226.19 L273.00 226.09 L273.50 225.97 L274.00 225.85 L274.50 225.72 L275.00 225.58 L275.50 225.43 L276.00 225.28 L276.50 225.12 L277.00 224.95 L277.50 224.79 L278.00 224.61 L278.50 224.44 L279.00 224.27 L279.50 224.09 L280.00 223.93 L280.50 223.76 L281.00 223.61 L281.50 223.47 L282.00 223.34 L282.50 223.22 L283.00 223.12 L283.50 223.03 L284.00 222.97 L284.50 222.93 L285.00 222.91 L285.50 222.92 L286.00 222.96 L286.50 223.02 L287.00 223.12 L287.50 223.25 L288.00 223.40 L288.50 223.57 L289.00 223.77 L289.50 223.98 L290.00 224.20 L290.50 224.43 L291.00 224.67 L291.50 224.91 L292.00 225.16 L292.50 225.40 L293.00 225.64 L293.50 225.86 L294.00 226.08 L294.50 226.28 L295.00 226.46 L295.50 226.62 L296.00 226.76 L296.50 226.87 L297.00 226.94 L297.50 226.99 L298.00 226.99 L298.50 226.96 L299.00 226.89 L299.50 226.77 L300.00 226.62 L300.50 226.44 L301.00 226.22 L301.50 225.96 L302.00 225.68 L302.50 225.38 L303.00 225.04 L303.50 224.68 L304.00 224.31 L304.50 223.91 L305.00 223.49 L305.50 223.06 L306.00 222.62 L306.50 222.17 L307.00 221.70 L307.50 221.24 L308.00 220.76 L308.50 220.29 L309.00 219.81 L309.50 219.34 L310.00 218.88 L310.50 218.42 L311.00 217.97 L311.50 217.53 L312.00 217.10 L312.50 216.69 L313.00 216.30 L313.50 215.93 L314.00 215.58 L314.50 215.25 L315.00 214.94 L315.50 214.64 L316.00 214.36 L316.50 214.09 L317.00 213.84 L317.50 213.60 L318.00 213.37 L318.50 213.16 L319.00 212.95 L319.50 212.75 L320.00 212.56 L320.50 212.38 L321.00 212.21 L321.50 212.05 L322.00 211.89 L322.50 211.74 L323.00 211.59 L323.50 211.46 L324.00 211.33 L324.50 211.20 L325.00 211.08 L325.50 210.97 L326.00 210.86 L326.50 210.76 L327.00 210.67 L327.50 210.58 L328.00 210.49 L328.50 210.41 L329.00 210.33 L329.50 210.26 L330.00 210.19 L330.50 210.12 L331.00 210.06 L331.50 210.00 L332.00 209.95 L332.50 209.89 L333.00 209.84 L333.50 209.79 L334.00 209.75 L334.50 209.70 L335.00 209.65 L335.50 209.60 L336.00 209.55 L336.50 209.50 L337.00 209.45 L337.50 209.39 L338.00 209.33 L338.50 209.27 L339.00 209.20 L339.50 209.13 L340.00 209.05 L340.50 208.97 L341.00 208.88 L341.50 208.78 L342.00 208.67 L342.50 208.56 L343.00 208.44 L343.50 208.31 L344.00 208.16 L344.50 208.02 L345.00 207.86 L345.50 207.70 L346.00 207.53 L346.50 207.36 L347.00 207.19 L347.50 207.02 L348.00 206.84 L348.50 206.66 L349.00 206.48 L349.50 206.31 L350.00 206.14 L350.50 205.97 L351.00 205.80 L351.50 205.64 L352.00 205.49 L352.50 205.34 L353.00 205.20 L353.50 205.07 L354.00 204.95 L354.50 204.84 L355.00 204.74 L355.50 204.65 L356.00 204.58 L356.50 204.52 L357.00 204.48 L357.50 204.46 L358.00 204.45 L358.50 204.46 L359.00 204.48 L359.50 204.52 L360.00 204.58 L360.50 204.65 L361.00 204.74 L361.50 204.84 L362.00 204.95 L362.50 205.07 L363.00 205.20 L363.50 205.34 L364.00 205.49 L364.50 205.64 L365.00 205.80 L365.50 205.97 L366.00 206.14 L366.50 206.31 L367.00 206.48 L367.50 206.66 L368.00 206.84 L368.50 207.02 L369.00 207.19 L369.50 207.36 L370.00 207.53 L370.50 207.70 L371.00 207.86 L371.50 208.02 L372.00 208.16 L372.50 208.31 L373.00 208.44 L373.50 208.56 L374.00 208.67 L374.50 208.78 L375.00 208.88 L375.50 208.97 L376.00 209.05 L376.50 209.13 L377.00 209.20 L377.50 209.27 L378.00 209.33 L378.50 209.39 L379.00 209.45 L379.50 209.50 L380.00 209.55 L380.50 209.60 L381.00 209.65 L381.50 209.70 L382.00 209.75 L382.50 209.79 L383.00 209.84 L383.50 209.89 L384.00 209.95 L384.50 210.00 L385.00 210.06 L385.50 210.12 L386.00 210.19 L386.50 210.26 L387.00 210.33 L387.50 210.41 L388.00 210.49 L388.50 210.58 L389.00 210.67 L389.50 210.76 L390.00 210.86 L390.50 210.97 L391.00 211.08 L391.50 211.20 L392.00 211.33 L392.50 211.46 L393.00 211.59 L393.50 211.74 L394.00 211.89 L394.50 212.05 L395.00 212.21 L395.50 212.38 L396.00 212.56 L396.50 212.75 L397.00 212.95 L397.50 213.16 L398.00 213.37 L398.50 213.60 L399.00 213.84 L399.50 214.09 L400.00 214.36 L400.50 214.64 L401.00 214.94 L401.50 215.25 L402.00 215.58 L402.50 215.93 L403.00 216.30 L403.50 216.69 L404.00 217.10 L404.50 217.53 L405.00 217.97 L405.50 218.42 L406.00 218.88 L406.50 219.34 L407.00 219.81 L407.50 220.29 L408.00 220.76 L408.50 221.24 L409.00 221.70 L409.50 222.17 L410.00 222.62 L410.50 223.06 L411.00 223.49 L411.50 223.91 L412.00 224.31 L412.50 224.68 L413.00 225.04 L413.50 225.38 L414.00 225.68 L414.50 225.96 L415.00 226.22 L415.50 226.44 L416.00 226.62 L416.50 226.77 L417.00 226.89 L417.50 226.96 L418.00 226.99 L418.50 226.99 L419.00 226.94 L419.50 226.87 L420.00 226.76 L420.50 226.62 L421.00 226.46 L421.50 226.28 L422.00 226.08 L422.50 225.86 L423.00 225.64 L423.50 225.40 L424.00 225.16 L424.50 224.91 L425.00 224.67 L425.50 224.43 L426.00 224.20 L426.50 223.98 L427.00 223.77 L427.50 223.57 L428.00 223.40 L428.50 223.25 L429.00 223.12 L429.50 223.02 L430.00 222.96 L430.50 222.92 L431.00 222.91 L431.50 222.93 L432.00 222.97 L432.50 223.03 L433.00 223.12 L433.50 223.22 L434.00 223.34 L434.50 223.47 L435.00 223.61 L435.50 223.76 L436.00 223.93 L436.50 224.09 L437.00 224.27 L437.50 224.44 L438.00 224.61 L438.50 224.79 L439.00 224.95 L439.50 225.12 L440.00 225.28 L440.50 225.43 L441.00 225.58 L441.50 225.72 L442.00 225.85 L442.50 225.97 L443.00 226.09 L443.50 226.19 L444.00 226.28 L444.50 226.36 L445.00 226.43 L445.50 226.49 L446.00 226.54 L446.50 226.57 L447.00 226.58 L447.50 226.58" stroke="#2a2ae6"/>
<path d="M268.50 259.78 L269.00 259.78 L269.50 259.74 L270.00 259.68 L270.50 259.60 L271.00 259.49 L271.50 259.36 L272.00 259.20 L272.50 259.03 L273.00 258.83 L273.50 258.62 L274.00 258.38 L274.50 258.13 L275.00 257.86 L275.50 257.58 L276.00 257.28 L276.50 256.97 L277.00 256.64 L277.50 256.30 L278.00 255.95 L278.50 255.59 L279.00 255.22 L279.50 254.84 L280.00 254.45 L280.50 254.06 L281.00 253.66 L281.50 253.26 L282.00 252.85 L282.50 252.44 L283.00 252.03 L283.50 251.61 L284.00 251.19 L284.50 250.78 L285.00 250.37 L285.50 249.95 L286.00 249.55 L286.50 249.14 L287.00 248.74 L287.50 248.35 L288.00 247.97 L288.50 247.59 L289.00 247.22 L289.50 246.86 L290.00 246.51 L290.50 246.18 L291.00 245.85 L291.50 245.54 L292.00 245.25 L292.50 244.97 L293.00 244.71 L293.50 244.46 L294.00 244.24 L294.50 244.03 L295.00 243.84 L295.50 243.68 L296.00 243.53 L296.50 243.41 L297.00 243.31 L297.50 243.24 L298.00 243.20 L298.50 243.18 L299.00 243.19 L299.50 243.22 L300.00 243.27 L300.50 243.34 L301.00 243.43 L301.50 243.53 L302.00 243.64 L302.50 243.76 L303.00 243.88 L303.50 244.01 L304.00 244.13 L304.50 244.25 L305.00 244.37 L305.50 244.48 L306.00 244.57 L306.50 244.65 L307.00 244.72 L307.50 244.76 L308.00 244.78 L308.50 244.78 L309.00 244.76 L309.50 244.72 L310.00 244.66 L310.50 244.58 L311.00 244.48 L311.50 244.36 L312.00 244.22 L312.50 244.06 L313.00 243.89 L313.50 243.70 L314.00 243.50 L314.50 243.27 L315.00 243.04 L315.50 242.79 L316.00 242.53 L316.50 242.25 L317.00 241.96 L317.50 241.66 L318.00 241.35 L318.50 241.02 L319.00 240.69 L319.50 240.34 L320.00 239.99 L320.50 239.63 L321.00 239.25 L321.50 238.88 L322.00 238.49 L322.50 238.10 L323.00 237.70 L323.50 237.29 L324.00 236.88 L324.50 236.46 L325.00 236.04 L325.50 235.61 L326.00 235.18 L326.50 234.75 L327.00 234.31 L327.50 233.87 L328.00 233.43 L328.50 232.99 L329.00 232.54 L329.50 232.09 L330.00 231.65 L330.50 231.20 L331.00 230.75 L331.50 230.31 L332.00 229.86 L332.50 229.42 L333.00 228.97 L333.50 228.54 L334.00 228.10 L334.50 227.67 L335.00 227.25 L335.50 226.83 L336.00 226.43 L336.50 226.02 L337.00 225.63 L337.50 225.25 L338.00 224.88 L338.50 224.52 L339.00 224.18 L339.50 223.85 L340.00 223.53 L340.50 223.23 L341.00 222.94 L341.50 222.67 L342.00 222.42 L342.50 222.18 L343.00 221.97 L343.50 221.77 L344.00 221.60 L344.50 221.45 L345.00 221.32 L345.50 221.22 L346.00 221.14 L346.50 221.08 L347.00 221.05 L347.50 221.05 L348.00 221.07 L348.50 221.11 L349.00 221.18 L349.50 221.26 L350.00 221.36 L350.50 221.47 L351.00 221.59 L351.50 221.72 L352.00 221.85 L352.50 221.99 L353.00 222.13 L353.50 222.27 L354.00 222.40 L354.50 222.53 L355.00 222.64 L355.50 222.75 L356.00 222.84 L356.50 222.92 L357.00 222.98 L357.50 223.01 L358.00 223.02 L358.50 223.01 L359.00 222.98 L359.50 222.92 L360.00 222.84 L360.50 222.75 L361.00 222.64 L361.50 222.53 L362.00 222.40 L362.50 222.27 L363.00 222.13 L363.50 221.99 L364.00 221.85 L364.50 221.72 L365.00 221.59 L365.50 221.47 L366.00 221.36 L366.50 221.26 L367.00 221.18 L367.50 221.11 L368.00 221.07 L368.50 221.05 L369.00 221.05 L369.50 221.08 L370.00 221.14 L370.50 221.22 L371.00 221.32 L371.50 221.45 L372.00 221.60 L372.50 221.77 L373.00 221.97 L373.50 222.18 L374.00 222.42 L374.50 222.67 L375.00 222.94 L375.50 223.23 L376.00 223.53 L376.50 223.85 L377.00 224.18 L377.50 224.52 L378.00 224.88 L378.50 225.25 L379.00 225.63 L379.50 226.02 L380.00 226.43 L380.50 226.83 L381.00 227.25 L381.50 227.67 L382.00 228.10 L382.50 228.54 L383.00 228.97 L383.50 229.42 L384.00 229.86 L384.50 230.31 L385.00 230.75 L385.50 231.20 L386.00 231.65 L386.50 232.09 L387.00 232.54 L387.50 232.99 L388.00 233.43 L388.50 233.87 L389.00 234.31 L389.50 234.75 L390.00 235.18 L390.50 235.61 L391.00 236.04 L391.50 236.46 L392.00 236.88 L392.50 237.29 L393.00 237.70 L393.50 238.10 L394.00 238.49 L394.50 238.88 L395.00 239.25 L395.50 239.63 L396.00 239.99 L396.50 240.34 L397.00 240.69 L397.50 241.02 L398.00 241.35 L398.50 241.66 L399.00 241.96 L399.50 242.25 L400.00 242.53 L400.50 242.79 L401.00 243.04 L401.50 243.27 L402.00 243.50 L402.50 243.70 L403.00 243.89 L403.50 244.06 L404.00 244.22 L404.50 244.36 L405.00 244.48 L405.50 244.58 L406.00 244.66 L406.50 244.72 L407.00 244.76 L407.50 244.78 L408.00 244.78 L408.50 244.76 L409.00 244.72 L409.50 244.65 L410.00 244.57 L410.50 244.48 L411.00 244.37 L411.50 244.25 L412.00 244.13 L412.50 244.01 L413.00 243.88 L413.50 243.76 L414.00 243.64 L414.50 243.53 L415.00 243.43 L415.50 243.34 L416.00 243.27 L416.50 243.22 L417.00 243.19 L417.50 243.18 L418.00 243.20 L418.50 243.24 L419.00 243.31 L419.50 243.41 L420.00 243.53 L420.50 243.68 L421.00 243.84 L421.50 244.03 L422.00 244.24 L422.50 244.46 L423.00 244.71 L423.50 244.97 L424.00 245.25 L424.50 245.54 L425.00 245.85 L425.50 246.18 L426.00 246.51 L426.50 246.86 L427.00 247.22 L427.50 247.59 L428.00 247.97 L428.50 248.35 L429.00 248.74 L429.50 249.14 L430.00 249.55 L430.50 249.95 L431.00 250.37 L431.50 250.78 L432.00 251.19 L432.50 251.61 L433.00 252.03 L433.50 252.44 L434.00 252.85 L434.50 253.26 L435.00 253.66 L435.50 254.06 L436.00 254.45 L436.50 254.84 L437.00 255.22 L437.50 255.59 L438.00 255.95 L438.50 256.30 L439.00 256.64 L439.50 256.97 L440.00 257.28 L440.50 257.58 L441.00 257.86 L441.50 258.13 L442.00 258.38 L442.50 258.62 L443.00 258.83 L443.50 259.03 L444.00 259.20 L444.50 259.36 L445.00 259.49 L445.50 259.60 L446.00 259.68 L446.50 259.74 L447.00 259.78 L447.50 259.78" stroke="#2a2ae6"/>
<path d="M268.50 233.70 L269.00 233.67 L269.50 233.63 L270.00 233.56 L270.50 233.47 L271.00 233.36 L271.50 233.23 L272.00 233.08 L272.50 232.92 L273.00 232.74 L273.50 232.56 L274.00 232.36 L274.50 232.15 L275.00 231.93 L275.50 231.71 L276.00 231.48 L276.50 231.25 L277.00 231.01 L277.50 230.78 L278.00 230.54 L278.50 230.31 L279.00 230.08 L279.50 229.86 L280.00 229.65 L280.50 229.44 L281.00 229.24 L281.50 229.06 L282.00 228.89 L282.50 228.73 L283.00 228.59 L283.50 228.46 L284.00 228.36 L284.50 228.27 L285.00 228.21 L285.50 228.17 L286.00 228.15 L286.50 228.16 L287.00 228.20 L287.50 228.26 L288.00 228.35 L288.50 228.45 L289.00 228.58 L289.50 228.71 L290.00 228.86 L290.50 229.02 L291.00 229.18 L291.50 229.35 L292.00 229.52 L292.50 229.68 L293.00 229.84 L293.50 229.99 L294.00 230.14 L294.50 230.27 L295.00 230.38 L295.50 230.47 L296.00 230.55 L296.50 230.60 L297.00 230.62 L297.50 230.62 L298.00 230.58 L298.50 230.51 L299.00 230.40 L299.50 230.26 L300.00 230.08 L300.50 229.88 L301.00 229.65 L301.50 229.40 L302.00 229.12 L302.50 228.83 L303.00 228.51 L303.50 228.19 L304.00 227.84 L304.50 227.49 L305.00 227.13 L305.50 226.76 L306.00 226.39 L306.50 226.02 L307.00 225.65 L307.50 225.28 L308.00 224.91 L308.50 224.56 L309.00 224.21 L309.50 223.87 L310.00 223.54 L310.50 223.23 L311.00 222.93 L311.50 222.65 L312.00 222.39 L312.50 222.14 L313.00 221.91 L313.50 221.71 L314.00 221.53 L314.50 221.38 L315.00 221.25 L315.50 221.15 L316.00 221.08 L316.50 221.04 L317.00 221.03 L317.50 221.06 L318.00 221.12 L318.50 221.21 L319.00 221.34 L319.50 221.49 L320.00 221.67 L320.50 221.87 L321.00 222.10 L321.50 222.34 L322.00 222.61 L322.50 222.89 L323.00 223.19 L323.50 223.50 L324.00 223.82 L324.50 224.15 L325.00 224.49 L325.50 224.84 L326.00 225.20 L326.50 225.56 L327.00 225.93 L327.50 226.31 L328.00 226.70 L328.50 227.09 L329.00 227.49 L329.50 227.90 L330.00 228.31 L330.50 228.73 L331.00 229.15 L331.50 229.58 L332.00 230.02 L332.50 230.46 L333.00 230.90 L333.50 231.35 L334.00 231.80 L334.50 232.25 L335.00 232.71 L335.50 233.17 L336.00 233.64 L336.50 234.10 L337.00 234.57 L337.50 235.04 L338.00 235.51 L338.50 235.98 L339.00 236.46 L339.50 236.93 L340.00 237.40 L340.50 237.87 L341.00 238.35 L341.50 238.82 L342.00 239.29 L342.50 239.75 L343.00 240.22 L343.50 240.68 L344.00 241.14 L344.50 241.60 L345.00 242.06 L345.50 242.51 L346.00 242.95 L346.50 243.40 L347.00 243.83 L347.50 244.26 L348.00 244.67 L348.50 245.08 L349.00 245.48 L349.50 245.86 L350.00 246.23 L350.50 246.59 L351.00 246.93 L351.50 247.25 L352.00 247.56 L352.50 247.85 L353.00 248.12 L353.50 248.37 L354.00 248.60 L354.50 248.80 L355.00 248.98 L355.50 249.14 L356.00 249.27 L356.50 249.37 L357.00 249.44 L357.50 249.49 L358.00 249.51 L358.50 249.49 L359.00 249.44 L359.50 249.37 L360.00 249.27 L360.50 249.14 L361.00 248.98 L361.50 248.80 L362.00 248.60 L362.50 248.37 L363.00 248.12 L363.50 247.85 L364.00 247.56 L364.50 247.25 L365.00 246.93 L365.50 246.59 L366.00 246.23 L366.50 245.86 L367.00 245.48 L367.50 245.08 L368.00 244.67 L368.50 244.26 L369.00 243.83 L369.50 243.40 L370.00 242.95 L370.50 242.51 L371.00 242.06 L371.50 241.60 L372.00 241.14 L372.50 240.68 L373.00 240.22 L373.50 239.75 L374.00 239.29 L374.50 238.82 L375.00 238.35 L375.50 237.87 L376.00 237.40 L376.50 236.93 L377.00 236.46 L377.50 235.98 L378.00 235.51 L378.50 235.04 L379.00 234.57 L379.50 234.10 L380.00 233.64 L380.50 233.17 L381.00 232.71 L381.50 232.25 L382.00 231.80 L382.50 231.35 L383.00 230.90 L383.50 230.46 L384.00 230.02 L384.50 229.58 L385.00 229.15 L385.50 228.73 L386.00 228.31 L386.50 227.90 L387.00 227.49 L387.50 227.09 L388.00 226.70 L388.50 226.31 L389.00 225.93 L389.50 225.56 L390.00 225.20 L390.50 224.84 L391.00 224.49 L391.50 224.15 L392.00 223.82 L392.50 223.50 L393.00 223.19 L393.50 222.89 L394.00 222.61 L394.50 222.34 L395.00 222.10 L395.50 221.87 L396.00 221.67 L396.50 221.49 L397.00 221.34 L397.50 221.21 L398.00 221.12 L398.50 221.06 L399.00 221.03 L399.50 221.04 L400.00 221.08 L400.50 221.15 L401.00 221.25 L401.50 221.38 L402.00 221.53 L402.50 221.71 L403.00 221.91 L403.50 222.14 L404.00 222.39 L404.50 222.65 L405.00 222.93 L405.50 223.23 L406.00 223.54 L406.50 223.87 L407.00 224.21 L407.50 224.56 L408.00 224.91 L408.50 225.28 L409.00 225.65 L409.50 226.02 L410.00 226.39 L410.50 226.76 L411.00 227.13 L411.50 227.49 L412.00 227.84 L412.50 228.19 L413.00 228.51 L413.50 228.83 L414.00 229.12 L414.50 229.40 L415.00 229.65 L415.50 229.88 L416.00 230.08 L416.50 230.26 L417.00 230.40 L417.50 230.51 L418.00 230.58 L418.50 230.62 L419.00 230.62 L419.50 230.60 L420.00 230.55 L420.50 230.47 L421.00 230.38 L421.50 230.27 L422.00 230.14 L422.50 229.99 L423.00 229.84 L423.50 229.68 L424.00 229.52 L424.50 229.35 L425.00 229.18 L425.50 229.02 L426.00 228.86 L426.50 228.71 L427.00 228.58 L427.50 228.45 L428.00 228.35 L428.50 228.26 L429.00 228.20 L429.50 228.16 L430.00 228.15 L430.50 228.17 L431.00 228.21 L431.50 228.27 L432.00 228.36 L432.50 228.46 L433.00 228.59 L433.50 228.73 L434.00 228.89 L434.50 229.06 L435.00 229.24 L435.50 229.44 L436.00 229.65 L436.50 229.86 L437.00 230.08 L437.50 230.31 L438.00 230.54 L438.50 230.78 L439.00 231.01 L439.50 231.25 L440.00 231.48 L440.50 231.71 L441.00 231.93 L441.50 232.15 L442.00 232.36 L442.50 232.56 L443.00 232.74 L443.50 232.92 L444.00 233.08 L444.50 233.23 L445.00 233.36 L445.50 233.47 L446.00 233.56 L446.50 233.63 L447.00 233.67 L447.50 233.70" stroke="#2a2ae6"/>
<path d="M268.50 263.74 L269.00 263.73 L269.50 263.70 L270.01 263.65 L270.51 263.58 L271.01 263.49 L271.51 263.38 L272.01 263.25 L272.52 263.10 L273.02 262.94 L273.52 262.76 L274.02 262.56 L274.52 262.35 L275.03 262.12 L275.53 261.89 L276.03 261.64 L276.53 261.37 L277.04 261.10 L277.54 260.82 L278.04 260.53 L278.54 260.23 L279.04 259.92 L279.55 259.61 L280.05 259.29 L280.55 258.96 L281.05 258.64 L281.55 258.30 L282.06 257.97 L282.56 257.63 L283.06 257.29 L283.56 256.95 L284.06 256.62 L284.57 256.28 L285.07 255.94 L285.57 255.61 L286.07 255.28 L286.57 254.96 L287.08 254.64 L287.58 254.32 L288.08 254.02 L288.58 253.72 L289.08 253.42 L289.59 253.14 L290.09 252.86 L290.59 252.60 L291.09 252.34 L291.60 252.10 L292.10 251.87 L292.60 251.65 L293.10 251.44 L293.60 251.25 L294.11 251.08 L294.61 250.92 L295.11 250.77 L295.61 250.65 L296.11 250.54 L296.62 250.45 L297.12 250.38 L297.62 250.33 L298.12 250.30 L298.62 250.30 L299.13 250.31 L299.63 250.34 L300.13 250.39 L300.63 250.45 L301.13 250.53 L301.64 250.62 L302.14 250.72 L302.64 250.82 L303.14 250.93 L303.65 251.04 L304.15 251.15 L304.65 251.26 L305.15 251.37 L305.65 251.47 L306.16 251.57 L306.66 251.66 L307.16 251.73 L307.66 251.80 L308.16 251.84 L308.67 251.87 L309.17 251.89 L309.67 251.88 L310.17 251.85 L310.67 251.79 L311.18 251.71 L311.68 251.61 L312.18 251.49 L312.68 251.34 L313.18 251.17 L313.69 250.97 L314.19 250.75 L314.69 250.50 L315.19 250.23 L315.69 249.94 L316.20 249.62 L316.70 249.28 L317.20 248.91 L317.70 248.51 L318.21 248.10 L318.71 247.65 L319.21 247.18 L319.71 246.68 L320.21 246.16 L320.72 245.61 L321.22 245.04 L321.72 244.44 L322.22 243.81 L322.72 243.17 L323.23 242.51 L323.73 241.82 L324.23 241.12 L324.73 240.41 L325.23 239.67 L325.74 238.93 L326.24 238.18 L326.74 237.42 L327.24 236.65 L327.74 235.87 L328.25 235.09 L328.75 234.31 L329.25 233.52 L329.75 232.74 L330.25 231.95 L330.76 231.17 L331.26 230.40 L331.76 229.63 L332.26 228.87 L332.77 228.12 L333.27 227.37 L333.77 226.63 L334.27 225.90 L334.77 225.17 L335.28 224.45 L335.78 223.73 L336.28 223.02 L336.78 222.32 L337.28 221.62 L337.79 220.92 L338.29 220.23 L338.79 219.54 L339.29 218.85 L339.79 218.17 L340.30 217.49 L340.80 216.81 L341.30 216.14 L341.80 215.46 L342.30 214.79 L342.81 214.12 L343.31 213.45 L343.81 212.78 L344.31 212.11 L344.82 211.44 L345.32 210.77 L345.82 210.09 L346.32 209.42 L346.82 208.75 L347.33 208.07 L347.83 207.39 L348.33 206.71 L348.83 206.03 L349.33 205.34 L349.84 204.65 L350.34 203.96 L350.84 203.26" stroke="#2a2ae6"/>
<path d="M447.50 263.74 L447.00 263.73 L446.50 263.70 L445.99 263.65 L445.49 263.58 L444.99 263.49 L444.49 263.38 L443.99 263.25 L443.48 263.10 L442.98 262.94 L442.48 262.76 L441.98 262.56 L441.48 262.35 L440.97 262.12 L440.47 261.89 L439.97 261.64 L439.47 261.37 L438.96 261.10 L438.46 260.82 L437.96 260.53 L437.46 260.23 L436.96 259.92 L436.45 259.61 L435.95 259.29 L435.45 258.96 L434.95 258.64 L434.45 258.30 L433.94 257.97 L433.44 257.63 L432.94 257.29 L432.44 256.95 L431.94 256.62 L431.43 256.28 L430.93 255.94 L430.43 255.61 L429.93 255.28 L429.43 254.96 L428.92 254.64 L428.42 254.32 L427.92 254.02 L427.42 253.72 L426.92 253.42 L426.41 253.14 L425.91 252.86 L425.41 252.60 L424.91 252.34 L424.40 252.10 L423.90 251.87 L423.40 251.65 L422.90 251.44 L422.40 251.25 L421.89 251.08 L421.39 250.92 L420.89 250.77 L420.39 250.65 L419.89 250.54 L419.38 250.45 L418.88 250.38 L418.38 250.33 L417.88 250.30 L417.38 250.30 L416.87 250.31 L416.37 250.34 L415.87 250.39 L415.37 250.45 L414.87 250.53 L414.36 250.62 L413.86 250.72 L413.36 250.82 L412.86 250.93 L412.35 251.04 L411.85 251.15 L411.35 251.26 L410.85 251.37 L410.35 251.47 L409.84 251.57 L409.34 251.66 L408.84 251.73 L408.34 251.80 L407.84 251.84 L407.33 251.87 L406.83 251.89 L406.33 251.88 L405.83 251.85 L405.33 251.79 L404.82 251.71 L404.32 251.61 L403.82 251.49 L403.32 251.34 L402.82 251.17 L402.31 250.97 L401.81 250.75 L401.31 250.50 L400.81 250.23 L400.31 249.94 L399.80 249.62 L399.30 249.28 L398.80 248.91 L398.30 248.51 L397.79 248.10 L397.29 247.65 L396.79 247.18 L396.29 246.68 L395.79 246.16 L395.28 245.61 L394.78 245.04 L394.28 244.44 L393.78 243.81 L393.28 243.17 L392.77 242.51 L392.27 241.82 L391.77 241.12 L391.27 240.41 L390.77 239.67 L390.26 238.93 L389.76 238.18 L389.26 237.42 L388.76 236.65 L388.26 235.87 L387.75 235.09 L387.25 234.31 L386.75 233.52 L386.25 232.74 L385.75 231.95 L385.24 231.17 L384.74 230.40 L384.24 229.63 L383.74 228.87 L383.23 228.12 L382.73 227.37 L382.23 226.63 L381.73 225.90 L381.23 225.17 L380.72 224.45 L380.22 223.73 L379.72 223.02 L379.22 222.32 L378.72 221.62 L378.21 220.92 L377.71 220.23 L377.21 219.54 L376.71 218.85 L376.21 218.17 L375.70 217.49 L375.20 216.81 L374.70 216.14 L374.20 215.46 L373.70 214.79 L373.19 214.12 L372.69 213.45 L372.19 212.78 L371.69 212.11 L371.18 211.44 L370.68 210.77 L370.18 210.09 L369.68 209.42 L369.18 208.75 L368.67 208.07 L368.17 207.39 L367.67 206.71 L367.17 206.03 L366.67 205.34 L366.16 204.65 L365.66 203.96 L365.16 203.26" stroke="#2a2ae6"/>
<path d="M268.50 325.79 L269.00 325.79 L269.50 325.78 L270.00 325.76 L270.50 325.72 L271.00 325.67 L271.50 325.62 L272.00 325.55 L272.50 325.46 L273.00 325.37 L273.50 325.26 L274.00 325.14 L274.50 325.01 L275.01 324.86 L275.51 324.71 L276.01 324.54 L276.51 324.35 L277.01 324.16 L277.51 323.95 L278.01 323.73 L278.51 323.49 L279.01 323.24 L279.51 322.98 L280.01 322.71 L280.51 322.42 L281.01 322.12 L281.51 321.80 L282.01 321.47 L282.51 321.13 L283.01 320.77 L283.51 320.40 L284.01 320.02 L284.51 319.62 L285.01 319.22 L285.51 318.81 L286.01 318.39 L286.51 317.97 L287.01 317.55 L287.52 317.13 L288.02 316.71 L288.52 316.29 L289.02 315.88 L289.52 315.48 L290.02 315.09 L290.52 314.70 L291.02 314.33 L291.52 313.98 L292.02 313.64 L292.52 313.32 L293.02 313.02 L293.52 312.74 L294.02 312.49 L294.52 312.26 L295.02 312.06 L295.52 311.89 L296.02 311.75 L296.52 311.64 L297.02 311.57 L297.52 311.53 L298.02 311.54 L298.52 311.58 L299.02 311.67 L299.52 311.79 L300.03 311.95 L300.53 312.15 L301.03 312.39 L301.53 312.67 L302.03 312.97 L302.53 313.31 L303.03 313.69 L303.53 314.09 L304.03 314.53 L304.53 314.99 L305.03 315.48 L305.53 316.00 L306.03 316.54 L306.53 317.11 L307.03 317.70 L307.53 318.31 L308.03 318.94 L308.53 319.60 L309.03 320.27 L309.53 320.96 L310.03 321.66 L310.53 322.38 L311.03 323.12 L311.53 323.87 L312.03 324.63 L312.54 325.40 L313.04 326.18 L313.54 326.97 L314.04 327.77 L314.54 328.57 L315.04 329.38 L315.54 330.20 L316.04 331.01 L316.54 331.83 L317.04 332.65 L317.54 333.47 L318.04 334.29 L318.54 335.10 L319.04 335.91 L319.54 336.72 L320.04 337.52 L320.54 338.31 L321.04 339.10 L321.54 339.88 L322.04 340.66 L322.54 341.42 L323.04 342.18 L323.54 342.93 L324.04 343.68 L324.54 344.42 L325.05 345.15 L325.55 345.87 L326.05 346.58 L326.55 347.29 L327.05 347.99 L327.55 348.68 L328.05 349.37 L328.55 350.04 L329.05 350.71 L329.55 351.37 L330.05 352.02 L330.55 352.66 L331.05 353.29 L331.55 353.92 L332.05 354.53 L332.55 355.14 L333.05 355.74 L333.55 356.33 L334.05 356.91 L334.55 357.48 L335.05 358.04 L335.55 358.60" stroke="#2a2ae6"/>
<path d="M447.50 325.79 L447.00 325.79 L446.50 325.78 L446.00 325.76 L445.50 325.72 L445.00 325.67 L444.50 325.62 L444.00 325.55 L443.50 325.46 L443.00 325.37 L442.50 325.26 L442.00 325.14 L441.50 325.01 L440.99 324.86 L440.49 324.71 L439.99 324.54 L439.49 324.35 L438.99 324.16 L438.49 323.95 L437.99 323.73 L437.49 323.49 L436.99 323.24 L436.49 322.98 L435.99 322.71 L435.49 322.42 L434.99 322.12 L434.49 321.80 L433.99 321.47 L433.49 321.13 L432.99 320.77 L432.49 320.40 L431.99 320.02 L431.49 319.62 L430.99 319.22 L430.49 318.81 L429.99 318.39 L429.49 317.97 L428.99 317.55 L428.48 317.13 L427.98 316.71 L427.48 316.29 L426.98 315.88 L426.48 315.48 L425.98 315.09 L425.48 314.70 L424.98 314.33 L424.48 313.98 L423.98 313.64 L423.48 313.32 L422.98 313.02 L422.48 312.74 L421.98 312.49 L421.48 312.26 L420.98 312.06 L420.48 311.89 L419.98 311.75 L419.48 311.64 L418.98 311.57 L418.48 311.53 L417.98 311.54 L417.48 311.58 L416.98 311.67 L416.48 311.79 L415.97 311.95 L415.47 312.15 L414.97 312.39 L414.47 312.67 L413.97 312.97 L413.47 313.31 L412.97 313.69 L412.47 314.09 L411.97 314.53 L411.47 314.99 L410.97 315.48 L410.47 316.00 L409.97 316.54 L409.47 317.11 L408.97 317.70 L408.47 318.31 L407.97 318.94 L407.47 319.60 L406.97 320.27 L406.47 320.96 L405.97 321.66 L405.47 322.38 L404.97 323.12 L404.47 323.87 L403.97 324.63 L403.46 325.40 L402.96 326.18 L402.46 326.97 L401.96 327.77 L401.46 328.57 L400.96 329.38 L400.46 330.20 L399.96 331.01 L399.46 331.83 L398.96 332.65 L398.46 333.47 L397.96 334.29 L397.46 335.10 L396.96 335.91 L396.46 336.72 L395.96 337.52 L395.46 338.31 L394.96 339.10 L394.46 339.88 L393.96 340.66 L393.46 341.42 L392.96 342.18 L392.46 342.93 L391.96 343.68 L391.46 344.42 L390.95 345.15 L390.45 345.87 L389.95 346.58 L389.45 347.29 L388.95 347.99 L388.45 348.68 L387.95 349.37 L387.45 350.04 L386.95 350.71 L386.45 351.37 L385.95 352.02 L385.45 352.66 L384.95 353.29 L384.45 353.92 L383.95 354.53 L383.45 355.14 L382.95 355.74 L382.45 356.33 L381.95 356.91 L381.45 357.48 L380.95 358.04 L380.45 358.60" stroke="#2a2ae6"/>
<path d="M268.50 325.79 L269.00 325.79 L269.50 325.78 L270.00 325.76 L270.50 325.72 L271.00 325.68 L271.50 325.62 L272.00 325.56 L272.50 325.48 L273.00 325.38 L273.50 325.28 L274.00 325.16 L274.50 325.03 L275.01 324.89 L275.51 324.74 L276.01 324.57 L276.51 324.39 L277.01 324.20 L277.51 323.99 L278.01 323.78 L278.51 323.54 L279.01 323.30 L279.51 323.04 L280.01 322.77 L280.51 322.48 L281.01 322.19 L281.51 321.87 L282.01 321.55 L282.51 321.21 L283.01 320.85 L283.51 320.48 L284.01 320.10 L284.51 319.71 L285.01 319.30 L285.51 318.90 L286.01 318.48 L286.51 318.06 L287.01 317.64 L287.52 317.22 L288.02 316.80 L288.52 316.39 L289.02 315.98 L289.52 315.58 L290.02 315.18 L290.52 314.80 L291.02 314.44 L291.52 314.08 L292.02 313.75 L292.52 313.43 L293.02 313.14 L293.52 312.86 L294.02 312.61 L294.52 312.39 L295.02 312.20 L295.52 312.03 L296.02 311.90 L296.52 311.80 L297.02 311.74 L297.52 311.71 L298.02 311.73 L298.52 311.78 L299.02 311.88 L299.52 312.02 L300.03 312.20 L300.53 312.41 L301.03 312.67 L301.53 312.96 L302.03 313.28 L302.53 313.64 L303.03 314.03 L303.53 314.46 L304.03 314.91 L304.53 315.39 L305.03 315.90 L305.53 316.44 L306.03 317.00 L306.53 317.59 L307.03 318.20 L307.53 318.83 L308.03 319.49 L308.53 320.16 L309.03 320.85 L309.53 321.56 L310.03 322.28 L310.53 323.02 L311.03 323.78 L311.53 324.54 L312.03 325.32 L312.54 326.11 L313.04 326.91 L313.54 327.72 L314.04 328.54 L314.54 329.36 L315.04 330.19 L315.54 331.02 L316.04 331.85 L316.54 332.69 L317.04 333.53 L317.54 334.36 L318.04 335.20 L318.54 336.04 L319.04 336.87 L319.54 337.69 L320.04 338.51 L320.54 339.33 L321.04 340.14 L321.54 340.94 L322.04 341.73 L322.54 342.52 L323.04 343.30 L323.54 344.07 L324.04 344.83 L324.54 345.58 L325.05 346.32 L325.55 347.05 L326.05 347.77 L326.55 348.48 L327.05 349.18 L327.55 349.87 L328.05 350.54 L328.55 351.21 L329.05 351.86 L329.55 352.49 L330.05 353.12 L330.55 353.73 L331.05 354.33 L331.55 354.91 L332.05 355.47 L332.55 356.02 L333.05 356.56 L333.55 357.08 L334.05 357.58 L334.55 358.07 L335.05 358.54 L335.55 358.99" stroke="#2a2ae6"/>
<path d="M447.50 325.79 L447.00 325.79 L446.50 325.78 L446.00 325.76 L445.50 325.72 L445.00 325.68 L444.50 325.62 L444.00 325.56 L443.50 325.48 L443.00 325.38 L442.50 325.28 L442.00 325.16 L441.50 325.03 L440.99 324.89 L440.49 324.74 L439.99 324.57 L439.49 324.39 L438.99 324.20 L438.49 323.99 L437.99 323.78 L437.49 323.54 L436.99 323.30 L436.49 323.04 L435.99 322.77 L435.49 322.48 L434.99 322.19 L434.49 321.87 L433.99 321.55 L433.49 321.21 L432.99 320.85 L432.49 320.48 L431.99 320.10 L431.49 319.71 L430.99 319.30 L430.49 318.90 L429.99 318.48 L429.49 318.06 L428.99 317.64 L428.48 317.22 L427.98 316.80 L427.48 316.39 L426.98 315.98 L426.48 315.58 L425.98 315.18 L425.48 314.80 L424.98 314.44 L424.48 314.08 L423.98 313.75 L423.48 313.43 L422.98 313.14 L422.48 312.86 L421.98 312.61 L421.48 312.39 L420.98 312.20 L420.48 312.03 L419.98 311.90 L419.48 311.80 L418.98 311.74 L418.48 311.71 L417.98 311.73 L417.48 311.78 L416.98 311.88 L416.48 312.02 L415.97 312.20 L415.47 312.41 L414.97 312.67 L414.47 312.96 L413.97 313.28 L413.47 313.64 L412.97 314.03 L412.47 314.46 L411.97 314.91 L411.47 315.39 L410.97 315.90 L410.47 316.44 L409.97 317.00 L409.47 317.59 L408.97 318.20 L408.47 318.83 L407.97 319.49 L407.47 320.16 L406.97 320.85 L406.47 321.56 L405.97 322.28 L405.47 323.02 L404.97 323.78 L404.47 324.54 L403.97 325.32 L403.46 326.11 L402.96 326.91 L402.46 327.72 L401.96 328.54 L401.46 329.36 L400.96 330.19 L400.46 331.02 L399.96 331.85 L399.46 332.69 L398.96 333.53 L398.46 334.36 L397.96 335.20 L397.46 336.04 L396.96 336.87 L396.46 337.69 L395.96 338.51 L395.46 339.33 L394.96 340.14 L394.46 340.94 L393.96 341.73 L393.46 342.52 L392.96 343.30 L392.46 344.07 L391.96 344.83 L391.46 345.58 L390.95 346.32 L390.45 347.05 L389.95 347.77 L389.45 348.48 L388.95 349.18 L388.45 349.87 L387.95 350.54 L387.45 351.21 L386.95 351.86 L386.45 352.49 L385.95 353.12 L385.45 353.73 L384.95 354.33 L384.45 354.91 L383.95 355.47 L383.45 356.02 L382.95 356.56 L382.45 357.08 L381.95 357.58 L381.45 358.07 L380.95 358.54 L380.45 358.99" stroke="#2a2ae6"/>
<path d="M268.50 326.18 L269.00 326.18 L269.50 326.17 L270.00 326.14 L270.50 326.11 L271.01 326.06 L271.51 326.00 L272.01 325.93 L272.51 325.84 L273.01 325.75 L273.51 325.64 L274.01 325.52 L274.51 325.39 L275.02 325.25 L275.52 325.10 L276.02 324.94 L276.52 324.77 L277.02 324.58 L277.52 324.39 L278.02 324.18 L278.52 323.96 L279.03 323.73 L279.53 323.50 L280.03 323.25 L280.53 322.99 L281.03 322.72 L281.53 322.44 L282.03 322.15 L282.53 321.84 L283.03 321.53 L283.54 321.21 L284.04 320.88 L284.54 320.54 L285.04 320.20 L285.54 319.85 L286.04 319.50 L286.54 319.14 L287.04 318.79 L287.55 318.43 L288.05 318.08 L288.55 317.74 L289.05 317.40 L289.55 317.06 L290.05 316.74 L290.55 316.42 L291.05 316.12 L291.56 315.83 L292.06 315.55 L292.56 315.29 L293.06 315.05 L293.56 314.83 L294.06 314.62 L294.56 314.44 L295.06 314.28 L295.56 314.15 L296.07 314.04 L296.57 313.97 L297.07 313.92 L297.57 313.90 L298.07 313.91 L298.57 313.96 L299.07 314.04 L299.57 314.15 L300.08 314.30 L300.58 314.48 L301.08 314.69 L301.58 314.94 L302.08 315.21 L302.58 315.52 L303.08 315.85 L303.58 316.21 L304.09 316.61 L304.59 317.02 L305.09 317.47 L305.59 317.94 L306.09 318.44 L306.59 318.97 L307.09 319.52 L307.59 320.09 L308.09 320.69 L308.60 321.31 L309.10 321.95 L309.60 322.61 L310.10 323.30 L310.60 324.01 L311.10 324.73 L311.60 325.47 L312.10 326.23 L312.61 327.00 L313.11 327.79 L313.61 328.59 L314.11 329.41 L314.61 330.23 L315.11 331.06 L315.61 331.90 L316.11 332.75 L316.62 333.61 L317.12 334.46 L317.62 335.33 L318.12 336.19 L318.62 337.06 L319.12 337.93 L319.62 338.80 L320.12 339.66 L320.62 340.52 L321.13 341.38 L321.63 342.23 L322.13 343.07 L322.63 343.89 L323.13 344.71 L323.63 345.51 L324.13 346.30 L324.63 347.06 L325.14 347.81 L325.64 348.53 L326.14 349.23 L326.64 349.91 L327.14 350.55 L327.64 351.17 L328.14 351.76 L328.64 352.32 L329.15 352.86 L329.65 353.37 L330.15 353.88 L330.65 354.37 L331.15 354.85 L331.65 355.33 L332.15 355.82 L332.65 356.30 L333.15 356.79 L333.66 357.30 L334.16 357.82 L334.66 358.36 L335.16 358.92 L335.66 359.51 L336.16 360.13 L336.66 360.78 L337.16 361.45 L337.67 362.13 L338.17 362.83 L338.67 363.55 L339.17 364.26 L339.67 364.99 L340.17 365.71 L340.67 366.43 L341.17 367.14 L341.68 367.84 L342.18 368.52 L342.68 369.19 L343.18 369.83 L343.68 370.45" stroke="#2a2ae6"/>
<path d="M447.50 326.18 L447.00 326.18 L446.50 326.17 L446.00 326.14 L445.50 326.11 L444.99 326.06 L444.49 326.00 L443.99 325.93 L443.49 325.84 L442.99 325.75 L442.49 325.64 L441.99 325.52 L441.49 325.39 L440.98 325.25 L440.48 325.10 L439.98 324.94 L439.48 324.77 L438.98 324.58 L438.48 324.39 L437.98 324.18 L437.48 323.96 L436.97 323.73 L436.47 323.50 L435.97 323.25 L435.47 322.99 L434.97 322.72 L434.47 322.44 L433.97 322.15 L433.47 321.84 L432.97 321.53 L432.46 321.21 L431.96 320.88 L431.46 320.54 L430.96 320.20 L430.46 319.85 L429.96 319.50 L429.46 319.14 L428.96 318.79 L428.45 318.43 L427.95 318.08 L427.45 317.74 L426.95 317.40 L426.45 317.06 L425.95 316.74 L425.45 316.42 L424.95 316.12 L424.44 315.83 L423.94 315.55 L423.44 315.29 L422.94 315.05 L422.44 314.83 L421.94 314.62 L421.44 314.44 L420.94 314.28 L420.44 314.15 L419.93 314.04 L419.43 313.97 L418.93 313.92 L418.43 313.90 L417.93 313.91 L417.43 313.96 L416.93 314.04 L416.43 314.15 L415.92 314.30 L415.42 314.48 L414.92 314.69 L414.42 314.94 L413.92 315.21 L413.42 315.52 L412.92 315.85 L412.42 316.21 L411.91 316.61 L411.41 317.02 L410.91 317.47 L410.41 317.94 L409.91 318.44 L409.41 318.97 L408.91 319.52 L408.41 320.09 L407.91 320.69 L407.40 321.31 L406.90 321.95 L406.40 322.61 L405.90 323.30 L405.40 324.01 L404.90 324.73 L404.40 325.47 L403.90 326.23 L403.39 327.00 L402.89 327.79 L402.39 328.59 L401.89 329.41 L401.39 330.23 L400.89 331.06 L400.39 331.90 L399.89 332.75 L399.38 333.61 L398.88 334.46 L398.38 335.33 L397.88 336.19 L397.38 337.06 L396.88 337.93 L396.38 338.80 L395.88 339.66 L395.38 340.52 L394.87 341.38 L394.37 342.23 L393.87 343.07 L393.37 343.89 L392.87 344.71 L392.37 345.51 L391.87 346.30 L391.37 347.06 L390.86 347.81 L390.36 348.53 L389.86 349.23 L389.36 349.91 L388.86 350.55 L388.36 351.17 L387.86 351.76 L387.36 352.32 L386.85 352.86 L386.35 353.37 L385.85 353.88 L385.35 354.37 L384.85 354.85 L384.35 355.33 L383.85 355.82 L383.35 356.30 L382.85 356.79 L382.34 357.30 L381.84 357.82 L381.34 358.36 L380.84 358.92 L380.34 359.51 L379.84 360.13 L379.34 360.78 L378.84 361.45 L378.33 362.13 L377.83 362.83 L377.33 363.55 L376.83 364.26 L376.33 364.99 L375.83 365.71 L375.33 366.43 L374.83 367.14 L374.32 367.84 L373.82 368.52 L373.32 369.19 L372.82 369.83 L372.32 370.45" stroke="#2a2ae6"/>
<path d="M334.86 358.20 L335.36 357.70 L335.86 357.19 L336.36 356.69 L336.87 356.18 L337.37 355.68 L337.87 355.18 L338.38 354.68 L338.88 354.18 L339.38 353.69 L339.89 353.21 L340.39 352.73 L340.89 352.25 L341.40 351.78 L341.90 351.33 L342.40 350.88 L342.91 350.44 L343.41 350.01 L343.91 349.59 L344.42 349.19 L344.92 348.80 L345.42 348.42 L345.92 348.06 L346.43 347.71 L346.93 347.38 L347.43 347.06 L347.94 346.77 L348.44 346.49 L348.94 346.24 L349.45 346.00 L349.95 345.79 L350.45 345.59 L350.96 345.42 L351.46 345.27 L351.96 345.14 L352.47 345.02 L352.97 344.92 L353.47 344.84 L353.97 344.77 L354.48 344.71 L354.98 344.66 L355.48 344.63 L355.99 344.60 L356.49 344.58 L356.99 344.57 L357.50 344.57 L358.00 344.56 L358.50 344.57 L359.01 344.57 L359.51 344.58 L360.01 344.60 L360.52 344.63 L361.02 344.66 L361.52 344.71 L362.03 344.77 L362.53 344.84 L363.03 344.92 L363.53 345.02 L364.04 345.14 L364.54 345.27 L365.04 345.42 L365.55 345.59 L366.05 345.79 L366.55 346.00 L367.06 346.24 L367.56 346.49 L368.06 346.77 L368.57 347.06 L369.07 347.38 L369.57 347.71 L370.08 348.06 L370.58 348.42 L371.08 348.80 L371.58 349.19 L372.09 349.59 L372.59 350.01 L373.09 350.44 L373.60 350.88 L374.10 351.33 L374.60 351.78 L375.11 352.25 L375.61 352.73 L376.11 353.21 L376.62 353.69 L377.12 354.18 L377.62 354.68 L378.13 355.18 L378.63 355.68 L379.13 356.18 L379.64 356.69 L380.14 357.19 L380.64 357.70 L381.14 358.20" stroke="#2a2ae6"/>
<path d="M341.89 370.45 L342.39 370.04 L342.90 369.44 L343.40 368.69 L343.90 367.80 L344.41 366.79 L344.91 365.67 L345.41 364.48 L345.92 363.23 L346.42 361.93 L346.92 360.61 L347.43 359.29 L347.93 357.98 L348.43 356.71 L348.94 355.50 L349.44 354.36 L349.94 353.28 L350.45 352.27 L350.95 351.32 L351.46 350.44 L351.96 349.62 L352.46 348.86 L352.97 348.15 L353.47 347.51 L353.97 346.92 L354.48 346.39 L354.98 345.92 L355.48 345.52 L355.99 345.18 L356.49 344.92 L356.99 344.72 L357.50 344.60 L358.00 344.56 L358.50 344.60 L359.01 344.72 L359.51 344.92 L360.01 345.18 L360.52 345.52 L361.02 345.92 L361.52 346.39 L362.03 346.92 L362.53 347.51 L363.03 348.15 L363.54 348.86 L364.04 349.62 L364.54 350.44 L365.05 351.32 L365.55 352.27 L366.06 353.28 L366.56 354.36 L367.06 355.50 L367.57 356.71 L368.07 357.98 L368.57 359.29 L369.08 360.61 L369.58 361.93 L370.08 363.23 L370.59 364.48 L371.09 365.67 L371.59 366.79 L372.10 367.80 L372.60 368.69 L373.10 369.44 L373.61 370.04 L374.11 370.45" stroke="#2a2ae6"/>
</g>
<rect x="309.6" y="277.3" width="97.59999999999997" height="34.099999999999966" fill="none" stroke="#858585" stroke-width="1"/>
<line x1="335.9" y1="266.2" x2="335.9" y2="308" stroke="#f084b0" stroke-width="0.95" stroke-dasharray="1.6 1.7"/>
<line x1="387.3" y1="269" x2="387.3" y2="310" stroke="#f084b0" stroke-width="0.95" stroke-dasharray="1.6 1.7"/>
<line x1="338" y1="282.5" x2="361" y2="282.5" stroke="#7070ee" stroke-width="0.8" stroke-dasharray="1.6 1.6"/>
<g fill="none" stroke="#2a2ae6" stroke-width="1.1" stroke-linecap="round">
<path d="M312.20 307.30 C312.48 306.83 313.33 305.41 313.89 304.49 C314.46 303.57 315.02 302.65 315.59 301.76 C316.15 300.87 316.71 299.99 317.28 299.14 C317.84 298.28 318.41 297.44 318.97 296.63 C319.54 295.81 320.10 295.02 320.66 294.25 C321.23 293.48 321.79 292.73 322.36 292.02 C322.92 291.31 323.49 290.62 324.05 289.97 C324.61 289.31 325.18 288.69 325.74 288.11 C326.31 287.53 326.87 286.98 327.44 286.47 C328.00 285.97 328.56 285.50 329.13 285.09 C329.69 284.67 330.26 284.30 330.82 283.98 C331.39 283.65 331.95 283.38 332.51 283.16 C333.08 282.94 333.64 282.78 334.21 282.67 C334.77 282.56 335.42 282.50 335.90 282.50 C336.38 282.50 336.69 282.56 337.08 282.67 C337.47 282.78 337.86 282.94 338.26 283.16 C338.65 283.38 339.04 283.65 339.44 283.98 C339.83 284.30 340.22 284.67 340.61 285.09 C341.01 285.50 341.40 285.97 341.79 286.47 C342.19 286.98 342.58 287.53 342.97 288.11 C343.36 288.69 343.76 289.31 344.15 289.97 C344.54 290.62 344.94 291.31 345.33 292.02 C345.72 292.73 346.11 293.48 346.51 294.25 C346.90 295.02 347.29 295.81 347.69 296.63 C348.08 297.44 348.47 298.28 348.86 299.14 C349.26 299.99 349.65 300.87 350.04 301.76 C350.44 302.65 350.83 303.57 351.22 304.49 C351.61 305.41 352.20 306.83 352.40 307.30"/>
<path d="M314.70 307.30 C314.95 306.98 315.71 306.01 316.21 305.37 C316.72 304.74 317.22 304.12 317.73 303.50 C318.23 302.89 318.74 302.29 319.24 301.70 C319.75 301.12 320.25 300.54 320.76 299.98 C321.26 299.43 321.77 298.88 322.27 298.35 C322.78 297.83 323.28 297.32 323.79 296.83 C324.29 296.34 324.80 295.86 325.30 295.42 C325.80 294.97 326.31 294.54 326.81 294.14 C327.32 293.74 327.82 293.37 328.33 293.02 C328.83 292.68 329.34 292.36 329.84 292.07 C330.35 291.79 330.85 291.53 331.36 291.31 C331.86 291.09 332.37 290.90 332.87 290.75 C333.38 290.60 333.88 290.49 334.39 290.41 C334.89 290.34 335.43 290.30 335.90 290.30 C336.37 290.30 336.76 290.34 337.19 290.41 C337.62 290.49 338.05 290.60 338.49 290.75 C338.92 290.90 339.35 291.09 339.78 291.31 C340.21 291.53 340.64 291.79 341.07 292.07 C341.50 292.36 341.93 292.68 342.36 293.02 C342.80 293.37 343.23 293.74 343.66 294.14 C344.09 294.54 344.52 294.97 344.95 295.42 C345.38 295.86 345.81 296.34 346.24 296.83 C346.67 297.32 347.10 297.83 347.54 298.35 C347.97 298.88 348.40 299.43 348.83 299.98 C349.26 300.54 349.69 301.12 350.12 301.70 C350.55 302.29 350.98 302.89 351.41 303.50 C351.85 304.12 352.28 304.74 352.71 305.37 C353.14 306.01 353.78 306.98 354.00 307.30"/>
<path d="M363.40 310.00 C363.68 309.53 364.54 308.10 365.11 307.17 C365.68 306.24 366.25 305.32 366.81 304.42 C367.38 303.52 367.95 302.63 368.52 301.77 C369.09 300.91 369.66 300.06 370.23 299.24 C370.80 298.42 371.37 297.62 371.94 296.84 C372.50 296.07 373.07 295.32 373.64 294.60 C374.21 293.88 374.78 293.18 375.35 292.53 C375.92 291.87 376.49 291.24 377.06 290.65 C377.63 290.07 378.20 289.51 378.76 289.00 C379.33 288.50 379.90 288.03 380.47 287.61 C381.04 287.19 381.61 286.81 382.18 286.49 C382.75 286.16 383.32 285.89 383.89 285.67 C384.45 285.45 385.02 285.28 385.59 285.17 C386.16 285.06 386.80 285.00 387.30 285.00 C387.80 285.00 388.15 285.06 388.57 285.17 C389.00 285.28 389.42 285.45 389.84 285.67 C390.27 285.89 390.69 286.16 391.11 286.49 C391.54 286.81 391.96 287.19 392.39 287.61 C392.81 288.03 393.23 288.50 393.66 289.00 C394.08 289.51 394.50 290.07 394.93 290.65 C395.35 291.24 395.78 291.87 396.20 292.53 C396.62 293.18 397.05 293.88 397.47 294.60 C397.90 295.32 398.32 296.07 398.74 296.84 C399.17 297.62 399.59 298.42 400.01 299.24 C400.44 300.06 400.86 300.91 401.29 301.77 C401.71 302.63 402.13 303.52 402.56 304.42 C402.98 305.32 403.40 306.24 403.83 307.17 C404.25 308.10 404.89 309.53 405.10 310.00"/>
<path d="M365.90 310.00 C366.15 309.67 366.92 308.66 367.43 308.00 C367.94 307.35 368.45 306.70 368.96 306.07 C369.47 305.44 369.98 304.82 370.49 304.21 C371.00 303.60 371.50 303.00 372.01 302.43 C372.52 301.85 373.03 301.28 373.54 300.74 C374.05 300.19 374.56 299.66 375.07 299.16 C375.58 298.65 376.09 298.16 376.60 297.70 C377.11 297.24 377.62 296.79 378.13 296.38 C378.64 295.97 379.15 295.58 379.66 295.22 C380.17 294.86 380.68 294.53 381.19 294.24 C381.70 293.94 382.20 293.67 382.71 293.45 C383.22 293.22 383.73 293.02 384.24 292.87 C384.75 292.72 385.26 292.60 385.77 292.52 C386.28 292.44 386.82 292.40 387.30 292.40 C387.78 292.40 388.19 292.44 388.64 292.52 C389.08 292.60 389.53 292.72 389.97 292.87 C390.42 293.02 390.86 293.22 391.31 293.45 C391.75 293.67 392.20 293.94 392.64 294.24 C393.09 294.53 393.53 294.86 393.98 295.22 C394.42 295.58 394.87 295.97 395.31 296.38 C395.76 296.79 396.20 297.24 396.65 297.70 C397.10 298.16 397.54 298.65 397.99 299.16 C398.43 299.66 398.88 300.19 399.32 300.74 C399.77 301.28 400.21 301.85 400.66 302.43 C401.10 303.00 401.55 303.60 401.99 304.21 C402.44 304.82 402.88 305.44 403.33 306.07 C403.77 306.70 404.22 307.35 404.66 308.00 C405.11 308.66 405.78 309.67 406.00 310.00"/>
</g>
<text x="363.6" y="284.6" font-size="7.3" font-weight="bold" fill="#ff33ff" stroke="#ff33ff" stroke-width="0.3">0.5meV</text>
<rect x="268.5" y="208.4" width="179.0" height="158.1" fill="none" stroke="#7a7a7a" stroke-width="1"/>
<line x1="268.5" y1="247.93" x2="271.0" y2="247.93" stroke="#666" stroke-width="0.8"/>
<line x1="268.5" y1="287.45" x2="271.0" y2="287.45" stroke="#666" stroke-width="0.8"/>
<line x1="268.5" y1="326.98" x2="271.0" y2="326.98" stroke="#666" stroke-width="0.8"/>
<text x="263.50" y="211.60" text-anchor="end" font-size="9.5">2</text>
<text x="263.50" y="251.13" text-anchor="end" font-size="9.5">1</text>
<text x="263.50" y="290.65" text-anchor="end" font-size="9.5">0</text>
<text x="263.50" y="330.18" text-anchor="end" font-size="9.5">−1</text>
<text x="263.50" y="369.70" text-anchor="end" font-size="9.5">−2</text>
<text x="269.00" y="379.10" text-anchor="middle" font-size="10">M</text>
<text x="298.83" y="379.10" text-anchor="middle" font-size="10">K+</text>
<text x="358.50" y="379.10" text-anchor="middle" font-size="10">Γ</text>
<text x="418.17" y="379.10" text-anchor="middle" font-size="10">K-</text>
<text x="448.00" y="379.10" text-anchor="middle" font-size="10">M</text>
<text transform="translate(247.50,286.80) rotate(-90)" text-anchor="middle" font-size="13.8">Engrgy (eV)</text>
<text x="236.60" y="208.80" font-size="14.5">(e)</text>
<clipPath id="clipf"><rect x="500.5" y="208" width="179.0" height="158.5"/></clipPath>
<line x1="530.33" y1="208" x2="530.33" y2="366.5" stroke="#f084b0" stroke-width="0.95" stroke-dasharray="1.6 1.7"/>
<line x1="590.00" y1="208" x2="590.00" y2="366.5" stroke="#f084b0" stroke-width="0.95" stroke-dasharray="1.6 1.7"/>
<line x1="649.67" y1="208" x2="649.67" y2="366.5" stroke="#f084b0" stroke-width="0.95" stroke-dasharray="1.6 1.7"/>
<line x1="500.5" y1="287.25" x2="679.5" y2="287.25" stroke="#8c8c8c" stroke-width="0.85" stroke-dasharray="1.6 1.7"/>
<g clip-path="url(#clipf)" fill="none" stroke-width="1.15" stroke-linecap="round" stroke-linejoin="round">
<path d="M500.50 213.31 L501.00 213.31 L501.51 213.31 L502.01 213.31 L502.51 213.31 L503.02 213.31 L503.52 213.31 L504.02 213.31 L504.53 213.31 L505.03 213.31 L505.53 213.31 L506.04 213.31 L506.54 213.31 L507.04 213.31 L507.55 213.31 L508.05 213.31 L508.56 213.32 L509.06 213.33 L509.56 213.35 L510.07 213.38 L510.57 213.42 L511.07 213.48 L511.58 213.56 L512.08 213.66 L512.58 213.79 L513.09 213.94 L513.59 214.12 L514.09 214.33 L514.60 214.56 L515.10 214.82 L515.60 215.10 L516.11 215.40 L516.61 215.72 L517.11 216.05 L517.62 216.40 L518.12 216.76 L518.62 217.13 L519.13 217.50 L519.63 217.88 L520.13 218.26 L520.64 218.64 L521.14 219.01 L521.64 219.38 L522.15 219.74 L522.65 220.08 L523.15 220.42 L523.66 220.76 L524.16 221.09 L524.66 221.43 L525.17 221.76 L525.67 222.11 L526.18 222.46 L526.68 222.82 L527.18 223.20 L527.69 223.57 L528.19 223.95 L528.69 224.32 L529.20 224.68 L529.70 225.01 L530.20 225.21 L530.71 225.21 L531.21 224.97 L531.71 224.54 L532.22 224.01 L532.72 223.43 L533.22 222.80 L533.73 222.14 L534.23 221.46 L534.73 220.77 L535.24 220.09 L535.74 219.41 L536.24 218.73 L536.75 218.07 L537.25 217.42 L537.75 216.78 L538.26 216.16 L538.76 215.56 L539.26 214.97 L539.77 214.40 L540.27 213.84 L540.77 213.29 L541.28 212.75 L541.78 212.22 L542.29 211.69 L542.79 211.17 L543.29 210.66 L543.80 210.14 L544.30 209.63 L544.80 209.12 L545.31 208.61 L545.81 208.09 L546.31 207.57 L546.82 207.04 L547.32 206.50 L547.82 205.95 L548.33 205.40 L548.83 204.83" stroke="#2a2ae6"/>
<path d="M679.50 213.31 L679.00 213.31 L678.49 213.31 L677.99 213.31 L677.49 213.31 L676.98 213.31 L676.48 213.31 L675.98 213.31 L675.47 213.31 L674.97 213.31 L674.47 213.31 L673.96 213.31 L673.46 213.31 L672.96 213.31 L672.45 213.31 L671.95 213.31 L671.44 213.32 L670.94 213.33 L670.44 213.35 L669.93 213.38 L669.43 213.42 L668.93 213.48 L668.42 213.56 L667.92 213.66 L667.42 213.79 L666.91 213.94 L666.41 214.12 L665.91 214.33 L665.40 214.56 L664.90 214.82 L664.40 215.10 L663.89 215.40 L663.39 215.72 L662.89 216.05 L662.38 216.40 L661.88 216.76 L661.38 217.13 L660.87 217.50 L660.37 217.88 L659.87 218.26 L659.36 218.64 L658.86 219.01 L658.36 219.38 L657.85 219.74 L657.35 220.08 L656.85 220.42 L656.34 220.76 L655.84 221.09 L655.34 221.43 L654.83 221.76 L654.33 222.11 L653.82 222.46 L653.32 222.82 L652.82 223.20 L652.31 223.57 L651.81 223.95 L651.31 224.32 L650.80 224.68 L650.30 225.01 L649.80 225.21 L649.29 225.21 L648.79 224.97 L648.29 224.54 L647.78 224.01 L647.28 223.43 L646.78 222.80 L646.27 222.14 L645.77 221.46 L645.27 220.77 L644.76 220.09 L644.26 219.41 L643.76 218.73 L643.25 218.07 L642.75 217.42 L642.25 216.78 L641.74 216.16 L641.24 215.56 L640.74 214.97 L640.23 214.40 L639.73 213.84 L639.23 213.29 L638.72 212.75 L638.22 212.22 L637.71 211.69 L637.21 211.17 L636.71 210.66 L636.20 210.14 L635.70 209.63 L635.20 209.12 L634.69 208.61 L634.19 208.09 L633.69 207.57 L633.18 207.04 L632.68 206.50 L632.18 205.95 L631.67 205.40 L631.17 204.83" stroke="#2a2ae6"/>
<path d="M500.50 221.08 L501.01 221.07 L501.52 221.03 L502.03 220.98 L502.55 220.90 L503.06 220.79 L503.57 220.66 L504.08 220.51 L504.59 220.33 L505.10 220.12 L505.61 219.89 L506.13 219.63 L506.64 219.35 L507.15 219.04 L507.66 218.70 L508.17 218.33 L508.68 217.94 L509.19 217.53 L509.71 217.10 L510.22 216.66 L510.73 216.19 L511.24 215.72 L511.75 215.24 L512.26 214.75 L512.77 214.26 L513.29 213.77 L513.80 213.27 L514.31 212.78 L514.82 212.28 L515.33 211.78 L515.84 211.27 L516.35 210.76 L516.87 210.23 L517.38 209.69 L517.89 209.14 L518.40 208.57 L518.91 207.99 L519.42 207.39 L519.93 206.76 L520.45 206.12 L520.96 205.45 L521.47 204.76 L521.98 204.04" stroke="#2a2ae6"/>
<path d="M679.50 221.08 L678.99 221.07 L678.48 221.03 L677.97 220.98 L677.45 220.90 L676.94 220.79 L676.43 220.66 L675.92 220.51 L675.41 220.33 L674.90 220.12 L674.39 219.89 L673.87 219.63 L673.36 219.35 L672.85 219.04 L672.34 218.70 L671.83 218.33 L671.32 217.94 L670.81 217.53 L670.29 217.10 L669.78 216.66 L669.27 216.19 L668.76 215.72 L668.25 215.24 L667.74 214.75 L667.23 214.26 L666.71 213.77 L666.20 213.27 L665.69 212.78 L665.18 212.28 L664.67 211.78 L664.16 211.27 L663.65 210.76 L663.13 210.23 L662.62 209.69 L662.11 209.14 L661.60 208.57 L661.09 207.99 L660.58 207.39 L660.07 206.76 L659.55 206.12 L659.04 205.45 L658.53 204.76 L658.02 204.04" stroke="#2a2ae6"/>
<path d="M555.10 198.09 L555.60 200.34 L556.11 202.48 L556.62 204.49 L557.12 206.37 L557.63 208.10 L558.14 209.67 L558.65 211.07 L559.15 212.29 L559.66 213.32 L560.17 214.14 L560.67 214.75 L561.18 215.13" stroke="#2a2ae6"/>
<path d="M624.90 198.09 L624.40 200.34 L623.89 202.48 L623.38 204.49 L622.88 206.37 L622.37 208.10 L621.86 209.67 L621.35 211.07 L620.85 212.29 L620.34 213.32 L619.83 214.14 L619.33 214.75 L618.82 215.13" stroke="#2a2ae6"/>
<path d="M555.63 198.09 L556.14 200.39 L556.64 202.54 L557.15 204.53 L557.65 206.37 L558.15 208.05 L558.66 209.58 L559.16 210.96 L559.67 212.18 L560.17 213.25 L560.68 214.17 L561.18 214.93" stroke="#2a2ae6"/>
<path d="M624.37 198.09 L623.86 200.39 L623.36 202.54 L622.85 204.53 L622.35 206.37 L621.85 208.05 L621.34 209.58 L620.84 210.96 L620.33 212.18 L619.83 213.25 L619.32 214.17 L618.82 214.93" stroke="#2a2ae6"/>
<path d="M561.18 215.13 L561.68 214.84 L562.18 214.53 L562.68 214.23 L563.19 213.92 L563.69 213.62 L564.19 213.32 L564.69 213.02 L565.19 212.74 L565.69 212.47 L566.19 212.21 L566.69 211.96 L567.20 211.74 L567.70 211.54 L568.20 211.36 L568.70 211.20 L569.20 211.07 L569.70 210.95 L570.20 210.86 L570.70 210.78 L571.21 210.72 L571.71 210.68 L572.21 210.65 L572.71 210.63 L573.21 210.63 L573.71 210.64 L574.21 210.66 L574.71 210.68 L575.21 210.72 L575.72 210.77 L576.22 210.82 L576.72 210.87 L577.22 210.93 L577.72 211.00 L578.22 211.07 L578.72 211.14 L579.22 211.21 L579.73 211.29 L580.23 211.37 L580.73 211.44 L581.23 211.52 L581.73 211.60 L582.23 211.68 L582.73 211.75 L583.23 211.82 L583.74 211.89 L584.24 211.95 L584.74 212.01 L585.24 212.07 L585.74 212.13 L586.24 212.17 L586.74 212.22 L587.24 212.26 L587.74 212.29 L588.25 212.32 L588.75 212.34 L589.25 212.35 L589.75 212.36 L590.25 212.36 L590.75 212.35 L591.25 212.34 L591.75 212.32 L592.26 212.29 L592.76 212.26 L593.26 212.22 L593.76 212.17 L594.26 212.13 L594.76 212.07 L595.26 212.01 L595.76 211.95 L596.26 211.89 L596.77 211.82 L597.27 211.75 L597.77 211.68 L598.27 211.60 L598.77 211.52 L599.27 211.44 L599.77 211.37 L600.27 211.29 L600.78 211.21 L601.28 211.14 L601.78 211.07 L602.28 211.00 L602.78 210.93 L603.28 210.87 L603.78 210.82 L604.28 210.77 L604.79 210.72 L605.29 210.68 L605.79 210.66 L606.29 210.64 L606.79 210.63 L607.29 210.63 L607.79 210.65 L608.29 210.68 L608.79 210.72 L609.30 210.78 L609.80 210.86 L610.30 210.95 L610.80 211.07 L611.30 211.20 L611.80 211.36 L612.30 211.54 L612.80 211.74 L613.31 211.96 L613.81 212.21 L614.31 212.47 L614.81 212.74 L615.31 213.02 L615.81 213.32 L616.31 213.62 L616.81 213.92 L617.32 214.23 L617.82 214.53 L618.32 214.84 L618.82 215.13" stroke="#2a2ae6"/>
<path d="M561.18 215.13 L561.68 215.47 L562.18 215.80 L562.68 216.10 L563.19 216.39 L563.69 216.67 L564.19 216.93 L564.69 217.19 L565.19 217.43 L565.69 217.67 L566.19 217.90 L566.69 218.13 L567.20 218.36 L567.70 218.59 L568.20 218.81 L568.70 219.05 L569.20 219.28 L569.70 219.53 L570.20 219.78 L570.70 220.04 L571.21 220.30 L571.71 220.58 L572.21 220.86 L572.71 221.15 L573.21 221.44 L573.71 221.74 L574.21 222.03 L574.71 222.34 L575.21 222.64 L575.72 222.95 L576.22 223.25 L576.72 223.56 L577.22 223.86 L577.72 224.16 L578.22 224.46 L578.72 224.76 L579.22 225.05 L579.73 225.34 L580.23 225.62 L580.73 225.90 L581.23 226.17 L581.73 226.43 L582.23 226.69 L582.73 226.94 L583.23 227.18 L583.74 227.42 L584.24 227.64 L584.74 227.86 L585.24 228.06 L585.74 228.26 L586.24 228.44 L586.74 228.61 L587.24 228.75 L587.74 228.88 L588.25 228.99 L588.75 229.07 L589.25 229.13 L589.75 229.16 L590.25 229.16 L590.75 229.13 L591.25 229.07 L591.75 228.99 L592.26 228.88 L592.76 228.75 L593.26 228.61 L593.76 228.44 L594.26 228.26 L594.76 228.06 L595.26 227.86 L595.76 227.64 L596.26 227.42 L596.77 227.18 L597.27 226.94 L597.77 226.69 L598.27 226.43 L598.77 226.17 L599.27 225.90 L599.77 225.62 L600.27 225.34 L600.78 225.05 L601.28 224.76 L601.78 224.46 L602.28 224.16 L602.78 223.86 L603.28 223.56 L603.78 223.25 L604.28 222.95 L604.79 222.64 L605.29 222.34 L605.79 222.03 L606.29 221.74 L606.79 221.44 L607.29 221.15 L607.79 220.86 L608.29 220.58 L608.79 220.30 L609.30 220.04 L609.80 219.78 L610.30 219.53 L610.80 219.28 L611.30 219.05 L611.80 218.81 L612.30 218.59 L612.80 218.36 L613.31 218.13 L613.81 217.90 L614.31 217.67 L614.81 217.43 L615.31 217.19 L615.81 216.93 L616.31 216.67 L616.81 216.39 L617.32 216.10 L617.82 215.80 L618.32 215.47 L618.82 215.13" stroke="#2a2ae6"/>
<path d="M500.50 256.34 L501.00 256.31 L501.50 256.21 L502.00 256.05 L502.50 255.84 L503.00 255.58 L503.50 255.28 L504.00 254.95 L504.50 254.58 L505.00 254.19 L505.50 253.79 L506.00 253.38 L506.50 252.96 L507.00 252.54 L507.50 252.13 L508.00 251.73 L508.50 251.34 L509.00 250.95 L509.50 250.57 L510.00 250.20 L510.50 249.83 L511.00 249.46 L511.50 249.10 L512.00 248.74 L512.50 248.38 L513.00 248.02 L513.50 247.66 L514.00 247.30 L514.50 246.94 L515.00 246.57 L515.50 246.20 L516.00 245.83 L516.50 245.44 L517.00 245.05 L517.50 244.65 L518.00 244.23 L518.50 243.81 L519.00 243.37 L519.50 242.92 L520.00 242.45 L520.50 241.96 L521.00 241.46 L521.50 240.93 L522.00 240.39 L522.50 239.82 L523.00 239.23 L523.50 238.63 L524.00 238.01 L524.50 237.40 L525.00 236.79 L525.50 236.20 L526.00 235.63 L526.50 235.10 L527.00 234.60 L527.50 234.15 L528.00 233.76 L528.50 233.44 L529.00 233.19 L529.50 233.02 L530.00 232.94 L530.50 232.95 L531.00 233.07 L531.50 233.28 L532.00 233.56 L532.50 233.89 L533.00 234.26 L533.50 234.63 L534.00 235.00 L534.50 235.33 L535.00 235.63 L535.50 235.87 L536.00 236.07 L536.50 236.22 L537.00 236.32 L537.50 236.37 L538.00 236.37 L538.50 236.32 L539.00 236.22 L539.50 236.07 L540.00 235.87 L540.50 235.63 L541.00 235.36 L541.50 235.04 L542.00 234.70 L542.50 234.33 L543.00 233.94 L543.50 233.53 L544.00 233.11 L544.50 232.68 L545.00 232.26 L545.50 231.83 L546.00 231.41 L546.50 230.99 L547.00 230.60 L547.50 230.22 L548.00 229.87 L548.50 229.55 L549.00 229.25 L549.50 228.96 L550.00 228.68 L550.50 228.41 L551.00 228.12 L551.50 227.82 L552.00 227.50 L552.50 227.14 L553.00 226.75 L553.50 226.30 L554.00 225.80 L554.50 225.24 L555.00 224.61 L555.50 223.90 L556.00 223.12 L556.50 222.33 L557.00 221.58 L557.50 220.95 L558.00 220.48 L558.50 220.25 L559.00 220.31 L559.50 220.71 L560.00 221.53 L560.50 222.73 L561.00 224.17 L561.50 225.70 L562.00 227.18 L562.50 228.52 L563.00 229.77 L563.50 230.96 L564.00 232.13 L564.50 233.32 L565.00 234.56 L565.50 235.89 L566.00 237.33 L566.50 238.84 L567.00 240.39 L567.50 241.97 L568.00 243.53 L568.50 245.05 L569.00 246.51 L569.50 247.89 L570.00 249.20 L570.50 250.45 L571.00 251.64 L571.50 252.78 L572.00 253.87 L572.50 254.92 L573.00 255.95 L573.50 256.94 L574.00 257.92 L574.50 258.88 L575.00 259.82 L575.50 260.74 L576.00 261.63 L576.50 262.50 L577.00 263.35 L577.50 264.16 L578.00 264.94 L578.50 265.68 L579.00 266.38 L579.50 267.05 L580.00 267.68 L580.50 268.27 L581.00 268.82 L581.50 269.34 L582.00 269.82 L582.50 270.27 L583.00 270.68 L583.50 271.05 L584.00 271.40 L584.50 271.71 L585.00 271.99 L585.50 272.23 L586.00 272.45 L586.50 272.64 L587.00 272.80 L587.50 272.93 L588.00 273.04 L588.50 273.12 L589.00 273.18 L589.50 273.21 L590.00 273.22 L590.50 273.21 L591.00 273.18 L591.50 273.12 L592.00 273.04 L592.50 272.93 L593.00 272.80 L593.50 272.64 L594.00 272.45 L594.50 272.23 L595.00 271.99 L595.50 271.71 L596.00 271.40 L596.50 271.05 L597.00 270.68 L597.50 270.27 L598.00 269.82 L598.50 269.34 L599.00 268.82 L599.50 268.27 L600.00 267.68 L600.50 267.05 L601.00 266.38 L601.50 265.68 L602.00 264.94 L602.50 264.16 L603.00 263.35 L603.50 262.50 L604.00 261.63 L604.50 260.74 L605.00 259.82 L605.50 258.88 L606.00 257.92 L606.50 256.94 L607.00 255.95 L607.50 254.92 L608.00 253.87 L608.50 252.78 L609.00 251.64 L609.50 250.45 L610.00 249.20 L610.50 247.89 L611.00 246.51 L611.50 245.05 L612.00 243.53 L612.50 241.97 L613.00 240.39 L613.50 238.84 L614.00 237.33 L614.50 235.89 L615.00 234.56 L615.50 233.32 L616.00 232.13 L616.50 230.96 L617.00 229.77 L617.50 228.52 L618.00 227.18 L618.50 225.70 L619.00 224.17 L619.50 222.73 L620.00 221.53 L620.50 220.71 L621.00 220.31 L621.50 220.25 L622.00 220.48 L622.50 220.95 L623.00 221.58 L623.50 222.33 L624.00 223.12 L624.50 223.90 L625.00 224.61 L625.50 225.24 L626.00 225.80 L626.50 226.30 L627.00 226.75 L627.50 227.14 L628.00 227.50 L628.50 227.82 L629.00 228.12 L629.50 228.41 L630.00 228.68 L630.50 228.96 L631.00 229.25 L631.50 229.55 L632.00 229.87 L632.50 230.22 L633.00 230.60 L633.50 230.99 L634.00 231.41 L634.50 231.83 L635.00 232.26 L635.50 232.68 L636.00 233.11 L636.50 233.53 L637.00 233.94 L637.50 234.33 L638.00 234.70 L638.50 235.04 L639.00 235.36 L639.50 235.63 L640.00 235.87 L640.50 236.07 L641.00 236.22 L641.50 236.32 L642.00 236.37 L642.50 236.37 L643.00 236.32 L643.50 236.22 L644.00 236.07 L644.50 235.87 L645.00 235.63 L645.50 235.33 L646.00 235.00 L646.50 234.63 L647.00 234.26 L647.50 233.89 L648.00 233.56 L648.50 233.28 L649.00 233.07 L649.50 232.95 L650.00 232.94 L650.50 233.02 L651.00 233.19 L651.50 233.44 L652.00 233.76 L652.50 234.15 L653.00 234.60 L653.50 235.10 L654.00 235.63 L654.50 236.20 L655.00 236.79 L655.50 237.40 L656.00 238.01 L656.50 238.63 L657.00 239.23 L657.50 239.82 L658.00 240.39 L658.50 240.93 L659.00 241.46 L659.50 241.96 L660.00 242.45 L660.50 242.92 L661.00 243.37 L661.50 243.81 L662.00 244.23 L662.50 244.65 L663.00 245.05 L663.50 245.44 L664.00 245.83 L664.50 246.20 L665.00 246.57 L665.50 246.94 L666.00 247.30 L666.50 247.66 L667.00 248.02 L667.50 248.38 L668.00 248.74 L668.50 249.10 L669.00 249.46 L669.50 249.83 L670.00 250.20 L670.50 250.57 L671.00 250.95 L671.50 251.34 L672.00 251.73 L672.50 252.13 L673.00 252.54 L673.50 252.96 L674.00 253.38 L674.50 253.79 L675.00 254.19 L675.50 254.58 L676.00 254.95 L676.50 255.28 L677.00 255.58 L677.50 255.84 L678.00 256.05 L678.50 256.21 L679.00 256.31 L679.50 256.34" stroke="#2a2ae6"/>
<path d="M500.50 262.37 L501.00 262.34 L501.50 262.28 L502.00 262.17 L502.50 262.02 L503.00 261.84 L503.50 261.63 L504.00 261.38 L504.50 261.11 L505.00 260.81 L505.50 260.49 L506.00 260.15 L506.50 259.79 L507.00 259.42 L507.50 259.04 L508.00 258.65 L508.50 258.25 L509.00 257.84 L509.50 257.42 L510.00 257.00 L510.50 256.57 L511.00 256.13 L511.50 255.69 L512.00 255.25 L512.50 254.81 L513.00 254.36 L513.50 253.91 L514.00 253.46 L514.50 253.02 L515.00 252.57 L515.50 252.12 L516.00 251.67 L516.50 251.23 L517.00 250.78 L517.50 250.33 L518.00 249.88 L518.50 249.43 L519.00 248.97 L519.50 248.52 L520.00 248.06 L520.50 247.61 L521.00 247.14 L521.50 246.68 L522.00 246.21 L522.50 245.74 L523.00 245.27 L523.50 244.80 L524.00 244.33 L524.50 243.86 L525.00 243.40 L525.50 242.95 L526.00 242.52 L526.50 242.10 L527.00 241.70 L527.50 241.33 L528.00 240.98 L528.50 240.66 L529.00 240.37 L529.50 240.11 L530.00 239.90 L530.50 239.72 L531.00 239.59 L531.50 239.50 L532.00 239.44 L532.50 239.42 L533.00 239.44 L533.50 239.47 L534.00 239.54 L534.50 239.62 L535.00 239.71 L535.50 239.83 L536.00 239.95 L536.50 240.07 L537.00 240.20 L537.50 240.33 L538.00 240.45 L538.50 240.57 L539.00 240.67 L539.50 240.76 L540.00 240.83 L540.50 240.87 L541.00 240.89 L541.50 240.89 L542.00 240.86 L542.50 240.80 L543.00 240.71 L543.50 240.60 L544.00 240.47 L544.50 240.32 L545.00 240.14 L545.50 239.95 L546.00 239.73 L546.50 239.50 L547.00 239.24 L547.50 238.97 L548.00 238.68 L548.50 238.38 L549.00 238.06 L549.50 237.72 L550.00 237.37 L550.50 237.01 L551.00 236.64 L551.50 236.26 L552.00 235.88 L552.50 235.51 L553.00 235.14 L553.50 234.79 L554.00 234.45 L554.50 234.15 L555.00 233.87 L555.50 233.64 L556.00 233.44 L556.50 233.29 L557.00 233.20 L557.50 233.17 L558.00 233.20 L558.50 233.31 L559.00 233.49 L559.50 233.74 L560.00 234.08 L560.50 234.49 L561.00 234.98 L561.50 235.54 L562.00 236.18 L562.50 236.89 L563.00 237.67 L563.50 238.52 L564.00 239.44 L564.50 240.41 L565.00 241.44 L565.50 242.52 L566.00 243.64 L566.50 244.80 L567.00 245.99 L567.50 247.20 L568.00 248.42 L568.50 249.64 L569.00 250.85 L569.50 252.06 L570.00 253.24 L570.50 254.39 L571.00 255.51 L571.50 256.59 L572.00 257.64 L572.50 258.66 L573.00 259.66 L573.50 260.62 L574.00 261.57 L574.50 262.49 L575.00 263.38 L575.50 264.27 L576.00 265.13 L576.50 265.98 L577.00 266.80 L577.50 267.61 L578.00 268.40 L578.50 269.17 L579.00 269.91 L579.50 270.63 L580.00 271.33 L580.50 271.99 L581.00 272.64 L581.50 273.25 L582.00 273.83 L582.50 274.39 L583.00 274.91 L583.50 275.40 L584.00 275.86 L584.50 276.29 L585.00 276.68 L585.50 277.04 L586.00 277.36 L586.50 277.65 L587.00 277.90 L587.50 278.12 L588.00 278.29 L588.50 278.43 L589.00 278.53 L589.50 278.59 L590.00 278.61 L590.50 278.59 L591.00 278.53 L591.50 278.43 L592.00 278.29 L592.50 278.12 L593.00 277.90 L593.50 277.65 L594.00 277.36 L594.50 277.04 L595.00 276.68 L595.50 276.29 L596.00 275.86 L596.50 275.40 L597.00 274.91 L597.50 274.39 L598.00 273.83 L598.50 273.25 L599.00 272.64 L599.50 271.99 L600.00 271.33 L600.50 270.63 L601.00 269.91 L601.50 269.17 L602.00 268.40 L602.50 267.61 L603.00 266.80 L603.50 265.98 L604.00 265.13 L604.50 264.27 L605.00 263.38 L605.50 262.49 L606.00 261.57 L606.50 260.62 L607.00 259.66 L607.50 258.66 L608.00 257.64 L608.50 256.59 L609.00 255.51 L609.50 254.39 L610.00 253.24 L610.50 252.06 L611.00 250.85 L611.50 249.64 L612.00 248.42 L612.50 247.20 L613.00 245.99 L613.50 244.80 L614.00 243.64 L614.50 242.52 L615.00 241.44 L615.50 240.41 L616.00 239.44 L616.50 238.52 L617.00 237.67 L617.50 236.89 L618.00 236.18 L618.50 235.54 L619.00 234.98 L619.50 234.49 L620.00 234.08 L620.50 233.74 L621.00 233.49 L621.50 233.31 L622.00 233.20 L622.50 233.17 L623.00 233.20 L623.50 233.29 L624.00 233.44 L624.50 233.64 L625.00 233.87 L625.50 234.15 L626.00 234.45 L626.50 234.79 L627.00 235.14 L627.50 235.51 L628.00 235.88 L628.50 236.26 L629.00 236.64 L629.50 237.01 L630.00 237.37 L630.50 237.72 L631.00 238.06 L631.50 238.38 L632.00 238.68 L632.50 238.97 L633.00 239.24 L633.50 239.50 L634.00 239.73 L634.50 239.95 L635.00 240.14 L635.50 240.32 L636.00 240.47 L636.50 240.60 L637.00 240.71 L637.50 240.80 L638.00 240.86 L638.50 240.89 L639.00 240.89 L639.50 240.87 L640.00 240.83 L640.50 240.76 L641.00 240.67 L641.50 240.57 L642.00 240.45 L642.50 240.33 L643.00 240.20 L643.50 240.07 L644.00 239.95 L644.50 239.83 L645.00 239.71 L645.50 239.62 L646.00 239.54 L646.50 239.47 L647.00 239.44 L647.50 239.42 L648.00 239.44 L648.50 239.50 L649.00 239.59 L649.50 239.72 L650.00 239.90 L650.50 240.11 L651.00 240.37 L651.50 240.66 L652.00 240.98 L652.50 241.33 L653.00 241.70 L653.50 242.10 L654.00 242.52 L654.50 242.95 L655.00 243.40 L655.50 243.86 L656.00 244.33 L656.50 244.80 L657.00 245.27 L657.50 245.74 L658.00 246.21 L658.50 246.68 L659.00 247.14 L659.50 247.61 L660.00 248.06 L660.50 248.52 L661.00 248.97 L661.50 249.43 L662.00 249.88 L662.50 250.33 L663.00 250.78 L663.50 251.23 L664.00 251.67 L664.50 252.12 L665.00 252.57 L665.50 253.02 L666.00 253.46 L666.50 253.91 L667.00 254.36 L667.50 254.81 L668.00 255.25 L668.50 255.69 L669.00 256.13 L669.50 256.57 L670.00 257.00 L670.50 257.42 L671.00 257.84 L671.50 258.25 L672.00 258.65 L672.50 259.04 L673.00 259.42 L673.50 259.79 L674.00 260.15 L674.50 260.49 L675.00 260.81 L675.50 261.11 L676.00 261.38 L676.50 261.63 L677.00 261.84 L677.50 262.02 L678.00 262.17 L678.50 262.28 L679.00 262.34 L679.50 262.37" stroke="#2a2ae6"/>
<path d="M500.50 317.37 L501.00 317.36 L501.50 317.34 L502.00 317.30 L502.50 317.25 L503.01 317.18 L503.51 317.10 L504.01 316.99 L504.51 316.87 L505.01 316.73 L505.51 316.58 L506.01 316.40 L506.51 316.21 L507.02 315.99 L507.52 315.76 L508.02 315.51 L508.52 315.23 L509.02 314.94 L509.52 314.63 L510.02 314.29 L510.52 313.94 L511.03 313.56 L511.53 313.17 L512.03 312.76 L512.53 312.34 L513.03 311.91 L513.53 311.46 L514.03 311.01 L514.53 310.55 L515.03 310.09 L515.54 309.62 L516.04 309.16 L516.54 308.69 L517.04 308.23 L517.54 307.78 L518.04 307.33 L518.54 306.89 L519.04 306.47 L519.55 306.05 L520.05 305.66 L520.55 305.28 L521.05 304.91 L521.55 304.57 L522.05 304.24 L522.55 303.93 L523.05 303.63 L523.56 303.35 L524.06 303.08 L524.56 302.83 L525.06 302.59 L525.56 302.36 L526.06 302.14 L526.56 301.94 L527.06 301.74 L527.56 301.56 L528.07 301.38 L528.57 301.22 L529.07 301.06 L529.57 300.91 L530.07 300.76 L530.57 300.63 L531.07 300.50 L531.57 300.39 L532.08 300.31 L532.58 300.27 L533.08 300.26 L533.58 300.30 L534.08 300.40 L534.58 300.56 L535.08 300.79 L535.58 301.09 L536.09 301.48 L536.59 301.97 L537.09 302.55 L537.59 303.24 L538.09 304.04 L538.59 304.96 L539.09 306.01 L539.59 307.16 L540.09 308.41 L540.60 309.75 L541.10 311.17 L541.60 312.64 L542.10 314.17 L542.60 315.73 L543.10 317.31 L543.60 318.91 L544.10 320.51 L544.61 322.10 L545.11 323.66 L545.61 325.19 L546.11 326.68 L546.61 328.14 L547.11 329.57 L547.61 330.98 L548.11 332.37 L548.62 333.74 L549.12 335.11 L549.62 336.47 L550.12 337.83 L550.62 339.20 L551.12 340.58 L551.62 341.97 L552.12 343.38 L552.62 344.81 L553.13 346.27 L553.63 347.75 L554.13 349.25 L554.63 350.76 L555.13 352.28 L555.63 353.81 L556.13 355.34 L556.63 356.86 L557.14 358.38 L557.64 359.89 L558.14 361.38 L558.64 362.85 L559.14 364.29 L559.64 365.71 L560.14 367.09 L560.64 368.43 L561.15 369.73 L561.65 370.99 L562.15 372.19 L562.65 373.34 L563.15 374.43" stroke="#2a2ae6"/>
<path d="M679.50 317.37 L679.00 317.36 L678.50 317.34 L678.00 317.30 L677.50 317.25 L676.99 317.18 L676.49 317.10 L675.99 316.99 L675.49 316.87 L674.99 316.73 L674.49 316.58 L673.99 316.40 L673.49 316.21 L672.98 315.99 L672.48 315.76 L671.98 315.51 L671.48 315.23 L670.98 314.94 L670.48 314.63 L669.98 314.29 L669.48 313.94 L668.97 313.56 L668.47 313.17 L667.97 312.76 L667.47 312.34 L666.97 311.91 L666.47 311.46 L665.97 311.01 L665.47 310.55 L664.97 310.09 L664.46 309.62 L663.96 309.16 L663.46 308.69 L662.96 308.23 L662.46 307.78 L661.96 307.33 L661.46 306.89 L660.96 306.47 L660.45 306.05 L659.95 305.66 L659.45 305.28 L658.95 304.91 L658.45 304.57 L657.95 304.24 L657.45 303.93 L656.95 303.63 L656.44 303.35 L655.94 303.08 L655.44 302.83 L654.94 302.59 L654.44 302.36 L653.94 302.14 L653.44 301.94 L652.94 301.74 L652.44 301.56 L651.93 301.38 L651.43 301.22 L650.93 301.06 L650.43 300.91 L649.93 300.76 L649.43 300.63 L648.93 300.50 L648.43 300.39 L647.92 300.31 L647.42 300.27 L646.92 300.26 L646.42 300.30 L645.92 300.40 L645.42 300.56 L644.92 300.79 L644.42 301.09 L643.91 301.48 L643.41 301.97 L642.91 302.55 L642.41 303.24 L641.91 304.04 L641.41 304.96 L640.91 306.01 L640.41 307.16 L639.91 308.41 L639.40 309.75 L638.90 311.17 L638.40 312.64 L637.90 314.17 L637.40 315.73 L636.90 317.31 L636.40 318.91 L635.90 320.51 L635.39 322.10 L634.89 323.66 L634.39 325.19 L633.89 326.68 L633.39 328.14 L632.89 329.57 L632.39 330.98 L631.89 332.37 L631.38 333.74 L630.88 335.11 L630.38 336.47 L629.88 337.83 L629.38 339.20 L628.88 340.58 L628.38 341.97 L627.88 343.38 L627.38 344.81 L626.87 346.27 L626.37 347.75 L625.87 349.25 L625.37 350.76 L624.87 352.28 L624.37 353.81 L623.87 355.34 L623.37 356.86 L622.86 358.38 L622.36 359.89 L621.86 361.38 L621.36 362.85 L620.86 364.29 L620.36 365.71 L619.86 367.09 L619.36 368.43 L618.85 369.73 L618.35 370.99 L617.85 372.19 L617.35 373.34 L616.85 374.43" stroke="#2a2ae6"/>
<path d="M500.50 317.37 L501.00 317.36 L501.50 317.33 L502.00 317.29 L502.50 317.23 L503.00 317.15 L503.50 317.05 L504.00 316.94 L504.50 316.80 L505.00 316.64 L505.50 316.47 L506.00 316.27 L506.50 316.05 L507.00 315.81 L507.50 315.55 L508.00 315.27 L508.50 314.97 L509.00 314.64 L509.50 314.30 L510.00 313.92 L510.50 313.53 L511.00 313.12 L511.50 312.68 L512.00 312.23 L512.50 311.76 L513.00 311.28 L513.50 310.78 L514.00 310.28 L514.50 309.76 L515.00 309.24 L515.50 308.72 L516.00 308.20 L516.50 307.67 L517.00 307.15 L517.50 306.63 L518.01 306.11 L518.51 305.60 L519.01 305.10 L519.51 304.62 L520.01 304.15 L520.51 303.69 L521.01 303.25 L521.51 302.82 L522.01 302.42 L522.51 302.03 L523.01 301.66 L523.51 301.31 L524.01 300.98 L524.51 300.67 L525.01 300.38 L525.51 300.11 L526.01 299.87 L526.51 299.64 L527.01 299.44 L527.51 299.27 L528.01 299.11 L528.51 298.99 L529.01 298.88 L529.51 298.81 L530.01 298.75 L530.51 298.73 L531.01 298.73 L531.51 298.77 L532.01 298.84 L532.51 298.94 L533.01 299.09 L533.51 299.27 L534.01 299.50 L534.51 299.78 L535.01 300.10 L535.51 300.48 L536.01 300.91 L536.51 301.40 L537.01 301.95 L537.51 302.57 L538.01 303.24 L538.51 303.99 L539.01 304.81 L539.51 305.69 L540.01 306.63 L540.51 307.62 L541.01 308.67 L541.51 309.76 L542.01 310.90 L542.51 312.07 L543.01 313.28 L543.51 314.51 L544.01 315.77 L544.51 317.05 L545.01 318.34 L545.51 319.63 L546.01 320.94 L546.51 322.25 L547.01 323.57 L547.51 324.88 L548.01 326.20 L548.51 327.52 L549.01 328.83 L549.51 330.14 L550.01 331.44 L550.51 332.74 L551.01 334.03 L551.51 335.31 L552.02 336.57 L552.52 337.83 L553.02 339.07 L553.52 340.29 L554.02 341.49 L554.52 342.68 L555.02 343.85 L555.52 345.00 L556.02 346.13 L556.52 347.25 L557.02 348.36 L557.52 349.46 L558.02 350.55 L558.52 351.64 L559.02 352.72 L559.52 353.79 L560.02 354.86 L560.52 355.94 L561.02 357.01 L561.52 358.09 L562.02 359.17 L562.52 360.26 L563.02 361.35 L563.52 362.46 L564.02 363.58 L564.52 364.71 L565.02 365.85 L565.52 367.02 L566.02 368.20 L566.52 369.40 L567.02 370.62 L567.52 371.86 L568.02 373.13 L568.52 374.43" stroke="#2a2ae6"/>
<path d="M679.50 317.37 L679.00 317.36 L678.50 317.33 L678.00 317.29 L677.50 317.23 L677.00 317.15 L676.50 317.05 L676.00 316.94 L675.50 316.80 L675.00 316.64 L674.50 316.47 L674.00 316.27 L673.50 316.05 L673.00 315.81 L672.50 315.55 L672.00 315.27 L671.50 314.97 L671.00 314.64 L670.50 314.30 L670.00 313.92 L669.50 313.53 L669.00 313.12 L668.50 312.68 L668.00 312.23 L667.50 311.76 L667.00 311.28 L666.50 310.78 L666.00 310.28 L665.50 309.76 L665.00 309.24 L664.50 308.72 L664.00 308.20 L663.50 307.67 L663.00 307.15 L662.50 306.63 L661.99 306.11 L661.49 305.60 L660.99 305.10 L660.49 304.62 L659.99 304.15 L659.49 303.69 L658.99 303.25 L658.49 302.82 L657.99 302.42 L657.49 302.03 L656.99 301.66 L656.49 301.31 L655.99 300.98 L655.49 300.67 L654.99 300.38 L654.49 300.11 L653.99 299.87 L653.49 299.64 L652.99 299.44 L652.49 299.27 L651.99 299.11 L651.49 298.99 L650.99 298.88 L650.49 298.81 L649.99 298.75 L649.49 298.73 L648.99 298.73 L648.49 298.77 L647.99 298.84 L647.49 298.94 L646.99 299.09 L646.49 299.27 L645.99 299.50 L645.49 299.78 L644.99 300.10 L644.49 300.48 L643.99 300.91 L643.49 301.40 L642.99 301.95 L642.49 302.57 L641.99 303.24 L641.49 303.99 L640.99 304.81 L640.49 305.69 L639.99 306.63 L639.49 307.62 L638.99 308.67 L638.49 309.76 L637.99 310.90 L637.49 312.07 L636.99 313.28 L636.49 314.51 L635.99 315.77 L635.49 317.05 L634.99 318.34 L634.49 319.63 L633.99 320.94 L633.49 322.25 L632.99 323.57 L632.49 324.88 L631.99 326.20 L631.49 327.52 L630.99 328.83 L630.49 330.14 L629.99 331.44 L629.49 332.74 L628.99 334.03 L628.49 335.31 L627.98 336.57 L627.48 337.83 L626.98 339.07 L626.48 340.29 L625.98 341.49 L625.48 342.68 L624.98 343.85 L624.48 345.00 L623.98 346.13 L623.48 347.25 L622.98 348.36 L622.48 349.46 L621.98 350.55 L621.48 351.64 L620.98 352.72 L620.48 353.79 L619.98 354.86 L619.48 355.94 L618.98 357.01 L618.48 358.09 L617.98 359.17 L617.48 360.26 L616.98 361.35 L616.48 362.46 L615.98 363.58 L615.48 364.71 L614.98 365.85 L614.48 367.02 L613.98 368.20 L613.48 369.40 L612.98 370.62 L612.48 371.86 L611.98 373.13 L611.48 374.43" stroke="#2a2ae6"/>
</g>
<rect x="541.4" y="274.6" width="97.20000000000005" height="33.599999999999966" fill="none" stroke="#858585" stroke-width="1"/>
<line x1="565.3" y1="274.6" x2="565.3" y2="308.2" stroke="#f084b0" stroke-width="0.95" stroke-dasharray="1.6 1.7"/>
<line x1="617.8" y1="269.2" x2="617.8" y2="300.7" stroke="#f084b0" stroke-width="0.95" stroke-dasharray="1.6 1.7"/>
<line x1="590" y1="280.4" x2="617" y2="280.4" stroke="#7070ee" stroke-width="0.8" stroke-dasharray="1.6 1.6"/>
<g fill="none" stroke="#2a2ae6" stroke-width="1.1" stroke-linecap="round">
<path d="M547.20 306.40 C547.42 306.03 548.06 304.90 548.49 304.17 C548.92 303.43 549.35 302.71 549.79 302.00 C550.22 301.29 550.65 300.60 551.08 299.92 C551.51 299.24 551.94 298.57 552.37 297.92 C552.80 297.27 553.23 296.64 553.66 296.03 C554.10 295.42 554.53 294.83 554.96 294.26 C555.39 293.70 555.82 293.15 556.25 292.63 C556.68 292.11 557.11 291.62 557.54 291.15 C557.97 290.69 558.40 290.26 558.84 289.86 C559.27 289.46 559.70 289.08 560.13 288.75 C560.56 288.42 560.99 288.13 561.42 287.87 C561.85 287.62 562.28 287.40 562.71 287.23 C563.15 287.05 563.58 286.92 564.01 286.83 C564.44 286.74 564.94 286.70 565.30 286.70 C565.66 286.70 565.88 286.74 566.16 286.83 C566.45 286.92 566.74 287.05 567.03 287.23 C567.32 287.40 567.60 287.62 567.89 287.87 C568.18 288.13 568.47 288.42 568.76 288.75 C569.05 289.08 569.33 289.46 569.62 289.86 C569.91 290.26 570.20 290.69 570.49 291.15 C570.77 291.62 571.06 292.11 571.35 292.63 C571.64 293.15 571.93 293.70 572.21 294.26 C572.50 294.83 572.79 295.42 573.08 296.03 C573.37 296.64 573.65 297.27 573.94 297.92 C574.23 298.57 574.52 299.24 574.81 299.92 C575.10 300.60 575.38 301.29 575.67 302.00 C575.96 302.71 576.25 303.43 576.54 304.17 C576.82 304.90 577.26 306.03 577.40 306.40"/>
<path d="M550.90 306.40 C551.07 306.17 551.59 305.48 551.93 305.03 C552.27 304.58 552.61 304.13 552.96 303.70 C553.30 303.26 553.64 302.84 553.99 302.42 C554.33 302.00 554.67 301.59 555.01 301.19 C555.36 300.80 555.70 300.41 556.04 300.03 C556.39 299.66 556.73 299.29 557.07 298.94 C557.41 298.60 557.76 298.26 558.10 297.94 C558.44 297.62 558.79 297.32 559.13 297.04 C559.47 296.75 559.81 296.48 560.16 296.24 C560.50 295.99 560.84 295.76 561.19 295.56 C561.53 295.36 561.87 295.18 562.21 295.02 C562.56 294.86 562.90 294.73 563.24 294.62 C563.59 294.52 563.93 294.44 564.27 294.38 C564.61 294.33 564.97 294.30 565.30 294.30 C565.63 294.30 565.93 294.33 566.25 294.38 C566.57 294.44 566.88 294.52 567.20 294.62 C567.52 294.73 567.83 294.86 568.15 295.02 C568.47 295.18 568.78 295.36 569.10 295.56 C569.42 295.76 569.73 295.99 570.05 296.24 C570.37 296.48 570.68 296.75 571.00 297.04 C571.32 297.32 571.63 297.62 571.95 297.94 C572.27 298.26 572.58 298.60 572.90 298.94 C573.22 299.29 573.53 299.66 573.85 300.03 C574.17 300.41 574.48 300.80 574.80 301.19 C575.12 301.59 575.43 302.00 575.75 302.42 C576.07 302.84 576.38 303.26 576.70 303.70 C577.02 304.13 577.33 304.58 577.65 305.03 C577.97 305.48 578.44 306.17 578.60 306.40"/>
<path d="M599.40 300.70 C599.62 300.33 600.28 299.22 600.71 298.50 C601.15 297.78 601.59 297.07 602.03 296.37 C602.47 295.67 602.90 294.98 603.34 294.32 C603.78 293.65 604.22 292.99 604.66 292.35 C605.10 291.71 605.53 291.09 605.97 290.49 C606.41 289.89 606.85 289.31 607.29 288.75 C607.72 288.19 608.16 287.65 608.60 287.14 C609.04 286.63 609.48 286.14 609.91 285.69 C610.35 285.23 610.79 284.80 611.23 284.41 C611.67 284.01 612.10 283.65 612.54 283.32 C612.98 283.00 613.42 282.70 613.86 282.45 C614.30 282.20 614.73 281.99 615.17 281.82 C615.61 281.65 616.05 281.52 616.49 281.43 C616.92 281.34 617.43 281.30 617.80 281.30 C618.17 281.30 618.40 281.34 618.69 281.43 C618.99 281.52 619.29 281.65 619.59 281.82 C619.88 281.99 620.18 282.20 620.48 282.45 C620.78 282.70 621.07 283.00 621.37 283.32 C621.67 283.65 621.97 284.01 622.26 284.41 C622.56 284.80 622.86 285.23 623.16 285.69 C623.45 286.14 623.75 286.63 624.05 287.14 C624.35 287.65 624.65 288.19 624.94 288.75 C625.24 289.31 625.54 289.89 625.84 290.49 C626.13 291.09 626.43 291.71 626.73 292.35 C627.03 292.99 627.32 293.65 627.62 294.32 C627.92 294.98 628.22 295.67 628.51 296.37 C628.81 297.07 629.11 297.78 629.41 298.50 C629.70 299.22 630.15 300.33 630.30 300.70"/>
<path d="M603.40 300.70 C603.57 300.47 604.09 299.79 604.43 299.34 C604.77 298.89 605.11 298.45 605.46 298.02 C605.80 297.59 606.14 297.16 606.49 296.75 C606.83 296.34 607.17 295.93 607.51 295.54 C607.86 295.14 608.20 294.76 608.54 294.38 C608.89 294.01 609.23 293.65 609.57 293.31 C609.91 292.96 610.26 292.63 610.60 292.31 C610.94 292.00 611.29 291.69 611.63 291.41 C611.97 291.13 612.31 290.87 612.66 290.62 C613.00 290.38 613.34 290.15 613.69 289.95 C614.03 289.75 614.37 289.57 614.71 289.41 C615.06 289.26 615.40 289.13 615.74 289.02 C616.09 288.92 616.43 288.83 616.77 288.78 C617.11 288.73 617.46 288.70 617.80 288.70 C618.14 288.70 618.46 288.73 618.79 288.78 C619.11 288.83 619.44 288.92 619.77 289.02 C620.10 289.13 620.43 289.26 620.76 289.41 C621.09 289.57 621.41 289.75 621.74 289.95 C622.07 290.15 622.40 290.38 622.73 290.62 C623.06 290.87 623.39 291.13 623.71 291.41 C624.04 291.69 624.37 292.00 624.70 292.31 C625.03 292.63 625.36 292.96 625.69 293.31 C626.01 293.65 626.34 294.01 626.67 294.38 C627.00 294.76 627.33 295.14 627.66 295.54 C627.99 295.93 628.31 296.34 628.64 296.75 C628.97 297.16 629.30 297.59 629.63 298.02 C629.96 298.45 630.29 298.89 630.61 299.34 C630.94 299.79 631.44 300.47 631.60 300.70"/>
</g>
<path d="M593.5 280.9 V286.2 M592.5 280.9 H594.5 M592.5 286.2 H594.5" stroke="#111" stroke-width="0.9" fill="none"/>
<text x="566.5" y="286.7" font-size="7.3" font-weight="bold" fill="#ff33ff" stroke="#ff33ff" stroke-width="0.3">5.7meV</text>
<rect x="500.5" y="208" width="179.0" height="158.5" fill="none" stroke="#7a7a7a" stroke-width="1"/>
<line x1="500.5" y1="247.62" x2="503.0" y2="247.62" stroke="#666" stroke-width="0.8"/>
<line x1="500.5" y1="287.25" x2="503.0" y2="287.25" stroke="#666" stroke-width="0.8"/>
<line x1="500.5" y1="326.88" x2="503.0" y2="326.88" stroke="#666" stroke-width="0.8"/>
<text x="495.50" y="211.20" text-anchor="end" font-size="9.5">2</text>
<text x="495.50" y="250.83" text-anchor="end" font-size="9.5">1</text>
<text x="495.50" y="290.45" text-anchor="end" font-size="9.5">0</text>
<text x="495.50" y="330.08" text-anchor="end" font-size="9.5">−1</text>
<text x="495.50" y="369.70" text-anchor="end" font-size="9.5">−2</text>
<text x="500.70" y="379.70" text-anchor="middle" font-size="10">M</text>
<text x="530.53" y="379.70" text-anchor="middle" font-size="10">K+</text>
<text x="590.20" y="379.70" text-anchor="middle" font-size="10">Γ</text>
<text x="649.87" y="379.70" text-anchor="middle" font-size="10">K-</text>
<text x="679.70" y="379.70" text-anchor="middle" font-size="10">M</text>
<text transform="translate(479.40,286.80) rotate(-90)" text-anchor="middle" font-size="13.8">Engrgy (eV)</text>
<text x="464.80" y="209.30" font-size="14.5">(f)</text>
</svg></body></html>
